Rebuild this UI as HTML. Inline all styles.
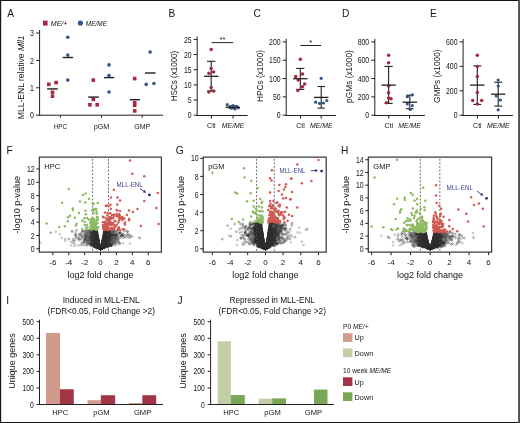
<!DOCTYPE html>
<html><head><meta charset="utf-8"><style>
html,body{margin:0;padding:0;background:#fff;}
body{width:520px;height:423px;overflow:hidden;}
svg{display:block;font-family:"Liberation Sans", sans-serif;will-change:transform;}
</style></head><body>
<svg width="520" height="423" viewBox="0 0 520 423">
<rect width="520" height="423" fill="#fff"/>
<text x="7.30" y="16.50" font-size="10.2" text-anchor="start" fill="#151515" >A</text>
<text x="168.50" y="16.50" font-size="10.2" text-anchor="start" fill="#151515" >B</text>
<text x="253.50" y="16.50" font-size="10.2" text-anchor="start" fill="#151515" >C</text>
<text x="342.00" y="16.50" font-size="10.2" text-anchor="start" fill="#151515" >D</text>
<text x="430.10" y="16.50" font-size="10.2" text-anchor="start" fill="#151515" >E</text>
<text x="6.60" y="153.90" font-size="10.2" text-anchor="start" fill="#151515" >F</text>
<text x="175.80" y="153.90" font-size="10.2" text-anchor="start" fill="#151515" >G</text>
<text x="340.90" y="153.90" font-size="10.2" text-anchor="start" fill="#151515" >H</text>
<text x="6.30" y="304.20" font-size="10.2" text-anchor="start" fill="#151515" >I</text>
<text x="177.40" y="304.20" font-size="10.2" text-anchor="start" fill="#151515" >J</text>
<line x1="39.60" y1="30.00" x2="39.60" y2="115.70" stroke="#231f20" stroke-width="1" />
<line x1="39.10" y1="115.20" x2="163.00" y2="115.20" stroke="#231f20" stroke-width="1" />
<line x1="36.10" y1="115.20" x2="39.60" y2="115.20" stroke="#231f20" stroke-width="1" />
<text x="33.80" y="118.30" font-size="8.6" text-anchor="end" fill="#151515"  textLength="3.9" lengthAdjust="spacingAndGlyphs">0</text>
<line x1="36.10" y1="87.80" x2="39.60" y2="87.80" stroke="#231f20" stroke-width="1" />
<text x="33.80" y="90.90" font-size="8.6" text-anchor="end" fill="#151515"  textLength="3.9" lengthAdjust="spacingAndGlyphs">1</text>
<line x1="36.10" y1="60.40" x2="39.60" y2="60.40" stroke="#231f20" stroke-width="1" />
<text x="33.80" y="63.50" font-size="8.6" text-anchor="end" fill="#151515"  textLength="3.9" lengthAdjust="spacingAndGlyphs">2</text>
<line x1="36.10" y1="33.00" x2="39.60" y2="33.00" stroke="#231f20" stroke-width="1" />
<text x="33.80" y="36.10" font-size="8.6" text-anchor="end" fill="#151515"  textLength="3.9" lengthAdjust="spacingAndGlyphs">3</text>
<line x1="60.40" y1="115.20" x2="60.40" y2="117.70" stroke="#231f20" stroke-width="1" />
<text x="60.40" y="128.70" font-size="7.6" text-anchor="middle" fill="#151515"  textLength="13.4" lengthAdjust="spacingAndGlyphs">HPC</text>
<line x1="101.50" y1="115.20" x2="101.50" y2="117.70" stroke="#231f20" stroke-width="1" />
<text x="101.50" y="128.70" font-size="7.6" text-anchor="middle" fill="#151515"  textLength="15.6" lengthAdjust="spacingAndGlyphs">pGM</text>
<line x1="142.20" y1="115.20" x2="142.20" y2="117.70" stroke="#231f20" stroke-width="1" />
<text x="142.20" y="128.70" font-size="7.6" text-anchor="middle" fill="#151515"  textLength="15.8" lengthAdjust="spacingAndGlyphs">GMP</text>
<text x="0" y="0" font-size="9" text-anchor="middle" fill="#151515" transform="translate(21.40,77.30) rotate(-90)" dominant-baseline="central"  textLength="83.8" lengthAdjust="spacingAndGlyphs">MLL-ENL relative <tspan font-style="italic">Mll1</tspan></text>
<rect x="43" y="20.6" width="4.6" height="5" fill="#A3293F"/>
<text x="50.80" y="25.90" font-size="7.3" text-anchor="start" fill="#151515" font-style="italic" textLength="16.6" lengthAdjust="spacingAndGlyphs">ME/+</text>
<circle cx="80.4" cy="23.1" r="2.6" fill="#33558A"/>
<text x="85.80" y="25.90" font-size="7.3" text-anchor="start" fill="#151515" font-style="italic" textLength="21.2" lengthAdjust="spacingAndGlyphs">ME/ME</text>
<rect x="47.00" y="82.50" width="3.6" height="3.6" fill="#A3293F"/>
<rect x="54.30" y="80.80" width="3.6" height="3.6" fill="#A3293F"/>
<rect x="50.70" y="90.50" width="3.6" height="3.6" fill="#A3293F"/>
<rect x="50.70" y="94.40" width="3.6" height="3.6" fill="#A3293F"/>
<line x1="47.10" y1="88.90" x2="57.80" y2="88.90" stroke="#231f20" stroke-width="1.4" />
<circle cx="67.80" cy="37.30" r="1.8" fill="#33558A"/>
<circle cx="67.80" cy="55.10" r="1.8" fill="#33558A"/>
<circle cx="67.80" cy="80.10" r="1.8" fill="#33558A"/>
<line x1="62.70" y1="57.50" x2="73.10" y2="57.50" stroke="#231f20" stroke-width="1.4" />
<rect x="91.50" y="78.30" width="3.6" height="3.6" fill="#A3293F"/>
<rect x="91.50" y="97.50" width="3.6" height="3.6" fill="#A3293F"/>
<rect x="88.10" y="103.00" width="3.6" height="3.6" fill="#A3293F"/>
<rect x="95.40" y="103.00" width="3.6" height="3.6" fill="#A3293F"/>
<line x1="88.20" y1="97.10" x2="98.90" y2="97.10" stroke="#231f20" stroke-width="1.4" />
<circle cx="109.00" cy="64.90" r="1.8" fill="#33558A"/>
<circle cx="109.00" cy="75.60" r="1.8" fill="#33558A"/>
<circle cx="109.00" cy="92.00" r="1.8" fill="#33558A"/>
<line x1="104.00" y1="77.60" x2="114.20" y2="77.60" stroke="#231f20" stroke-width="1.4" />
<rect x="132.90" y="76.80" width="3.6" height="3.6" fill="#A3293F"/>
<rect x="132.90" y="100.90" width="3.6" height="3.6" fill="#A3293F"/>
<rect x="132.90" y="103.50" width="3.6" height="3.6" fill="#A3293F"/>
<rect x="132.90" y="109.10" width="3.6" height="3.6" fill="#A3293F"/>
<line x1="129.80" y1="99.70" x2="139.90" y2="99.70" stroke="#231f20" stroke-width="1.4" />
<circle cx="150.10" cy="52.10" r="1.8" fill="#33558A"/>
<circle cx="146.20" cy="84.40" r="1.8" fill="#33558A"/>
<circle cx="153.90" cy="83.50" r="1.8" fill="#33558A"/>
<line x1="145.00" y1="73.00" x2="155.60" y2="73.00" stroke="#231f20" stroke-width="1.4" />
<line x1="197.20" y1="36.40" x2="197.20" y2="116.00" stroke="#231f20" stroke-width="1" />
<line x1="196.60" y1="115.50" x2="247.60" y2="115.50" stroke="#231f20" stroke-width="1.1" />
<line x1="193.70" y1="115.20" x2="197.20" y2="115.20" stroke="#231f20" stroke-width="1" />
<text x="191.60" y="118.30" font-size="8.6" text-anchor="end" fill="#151515"  textLength="3.85" lengthAdjust="spacingAndGlyphs">0</text>
<line x1="193.70" y1="100.04" x2="197.20" y2="100.04" stroke="#231f20" stroke-width="1" />
<text x="191.60" y="103.14" font-size="8.6" text-anchor="end" fill="#151515"  textLength="3.85" lengthAdjust="spacingAndGlyphs">5</text>
<line x1="193.70" y1="84.88" x2="197.20" y2="84.88" stroke="#231f20" stroke-width="1" />
<text x="191.60" y="87.98" font-size="8.6" text-anchor="end" fill="#151515"  textLength="7.7" lengthAdjust="spacingAndGlyphs">10</text>
<line x1="193.70" y1="69.72" x2="197.20" y2="69.72" stroke="#231f20" stroke-width="1" />
<text x="191.60" y="72.82" font-size="8.6" text-anchor="end" fill="#151515"  textLength="7.7" lengthAdjust="spacingAndGlyphs">15</text>
<line x1="193.70" y1="54.56" x2="197.20" y2="54.56" stroke="#231f20" stroke-width="1" />
<text x="191.60" y="57.66" font-size="8.6" text-anchor="end" fill="#151515"  textLength="7.7" lengthAdjust="spacingAndGlyphs">20</text>
<line x1="193.70" y1="39.40" x2="197.20" y2="39.40" stroke="#231f20" stroke-width="1" />
<text x="191.60" y="42.50" font-size="8.6" text-anchor="end" fill="#151515"  textLength="7.7" lengthAdjust="spacingAndGlyphs">25</text>
<line x1="211.40" y1="115.20" x2="211.40" y2="118.60" stroke="#231f20" stroke-width="1" />
<text x="211.40" y="128.30" font-size="7.2" text-anchor="middle" fill="#151515"  textLength="8.6" lengthAdjust="spacingAndGlyphs">Ctl</text>
<line x1="233.10" y1="115.20" x2="233.10" y2="118.60" stroke="#231f20" stroke-width="1" />
<text x="233.10" y="128.30" font-size="7.2" text-anchor="middle" fill="#151515" font-style="italic" textLength="22.6" lengthAdjust="spacingAndGlyphs">ME/ME</text>
<text x="0" y="0" font-size="9" text-anchor="middle" fill="#151515" transform="translate(173.60,76.00) rotate(-90)" dominant-baseline="central"  textLength="50.5" lengthAdjust="spacingAndGlyphs">HSCs (x1000)</text>
<line x1="211.20" y1="61.30" x2="211.20" y2="91.10" stroke="#231f20" stroke-width="1.1" />
<line x1="207.00" y1="61.30" x2="215.40" y2="61.30" stroke="#231f20" stroke-width="1.1" />
<line x1="207.00" y1="91.10" x2="215.40" y2="91.10" stroke="#231f20" stroke-width="1.1" />
<line x1="232.80" y1="105.80" x2="232.80" y2="108.60" stroke="#231f20" stroke-width="1.1" />
<line x1="229.30" y1="105.80" x2="236.30" y2="105.80" stroke="#231f20" stroke-width="1.1" />
<line x1="229.30" y1="108.60" x2="236.30" y2="108.60" stroke="#231f20" stroke-width="1.1" />
<circle cx="211.20" cy="49.40" r="1.75" fill="#A3293F"/>
<circle cx="211.20" cy="68.60" r="1.75" fill="#A3293F"/>
<circle cx="208.90" cy="73.20" r="1.75" fill="#A3293F"/>
<circle cx="213.60" cy="71.90" r="1.75" fill="#A3293F"/>
<circle cx="211.20" cy="87.40" r="1.75" fill="#A3293F"/>
<circle cx="208.90" cy="92.00" r="1.75" fill="#A3293F"/>
<circle cx="213.60" cy="91.10" r="1.75" fill="#A3293F"/>
<circle cx="227.30" cy="104.70" r="1.6" fill="#33558A"/>
<circle cx="231.50" cy="108.10" r="1.6" fill="#33558A"/>
<circle cx="235.00" cy="109.00" r="1.6" fill="#33558A"/>
<circle cx="238.30" cy="107.80" r="1.6" fill="#33558A"/>
<circle cx="229.80" cy="107.30" r="1.6" fill="#33558A"/>
<circle cx="236.60" cy="106.40" r="1.6" fill="#33558A"/>
<circle cx="233.00" cy="105.50" r="1.6" fill="#33558A"/>
<line x1="204.00" y1="76.30" x2="218.40" y2="76.30" stroke="#231f20" stroke-width="1.3" />
<line x1="225.60" y1="107.30" x2="240.00" y2="107.30" stroke="#231f20" stroke-width="1.3" />
<line x1="211.60" y1="42.60" x2="233.20" y2="42.60" stroke="#231f20" stroke-width="1" />
<text x="222.40" y="42.30" font-size="7.5" text-anchor="middle" fill="#151515" >**</text>
<line x1="286.20" y1="38.90" x2="286.20" y2="116.00" stroke="#231f20" stroke-width="1" />
<line x1="285.60" y1="115.50" x2="336.00" y2="115.50" stroke="#231f20" stroke-width="1.1" />
<line x1="282.70" y1="115.20" x2="286.20" y2="115.20" stroke="#231f20" stroke-width="1" />
<text x="280.60" y="118.30" font-size="8.6" text-anchor="end" fill="#151515"  textLength="3.85" lengthAdjust="spacingAndGlyphs">0</text>
<line x1="282.70" y1="96.88" x2="286.20" y2="96.88" stroke="#231f20" stroke-width="1" />
<text x="280.60" y="99.97" font-size="8.6" text-anchor="end" fill="#151515"  textLength="7.7" lengthAdjust="spacingAndGlyphs">50</text>
<line x1="282.70" y1="78.55" x2="286.20" y2="78.55" stroke="#231f20" stroke-width="1" />
<text x="280.60" y="81.65" font-size="8.6" text-anchor="end" fill="#151515"  textLength="11.55" lengthAdjust="spacingAndGlyphs">100</text>
<line x1="282.70" y1="60.22" x2="286.20" y2="60.22" stroke="#231f20" stroke-width="1" />
<text x="280.60" y="63.32" font-size="8.6" text-anchor="end" fill="#151515"  textLength="11.55" lengthAdjust="spacingAndGlyphs">150</text>
<line x1="282.70" y1="41.90" x2="286.20" y2="41.90" stroke="#231f20" stroke-width="1" />
<text x="280.60" y="45.00" font-size="8.6" text-anchor="end" fill="#151515"  textLength="11.55" lengthAdjust="spacingAndGlyphs">200</text>
<line x1="300.50" y1="115.20" x2="300.50" y2="118.60" stroke="#231f20" stroke-width="1" />
<text x="300.50" y="128.30" font-size="7.2" text-anchor="middle" fill="#151515"  textLength="8.6" lengthAdjust="spacingAndGlyphs">Ctl</text>
<line x1="321.20" y1="115.20" x2="321.20" y2="118.60" stroke="#231f20" stroke-width="1" />
<text x="321.20" y="128.30" font-size="7.2" text-anchor="middle" fill="#151515" font-style="italic" textLength="22.6" lengthAdjust="spacingAndGlyphs">ME/ME</text>
<text x="0" y="0" font-size="9" text-anchor="middle" fill="#151515" transform="translate(260.20,76.00) rotate(-90)" dominant-baseline="central"  textLength="52" lengthAdjust="spacingAndGlyphs">HPCs (x1000)</text>
<line x1="300.30" y1="68.40" x2="300.30" y2="89.40" stroke="#231f20" stroke-width="1.1" />
<line x1="296.20" y1="68.40" x2="304.40" y2="68.40" stroke="#231f20" stroke-width="1.1" />
<line x1="296.20" y1="89.40" x2="304.40" y2="89.40" stroke="#231f20" stroke-width="1.1" />
<line x1="321.20" y1="86.50" x2="321.20" y2="108.10" stroke="#231f20" stroke-width="1.1" />
<line x1="317.50" y1="86.50" x2="324.90" y2="86.50" stroke="#231f20" stroke-width="1.1" />
<line x1="317.50" y1="108.10" x2="324.90" y2="108.10" stroke="#231f20" stroke-width="1.1" />
<circle cx="300.30" cy="59.30" r="1.75" fill="#A3293F"/>
<circle cx="302.50" cy="74.10" r="1.75" fill="#A3293F"/>
<circle cx="295.70" cy="76.60" r="1.75" fill="#A3293F"/>
<circle cx="298.20" cy="80.00" r="1.75" fill="#A3293F"/>
<circle cx="304.70" cy="84.00" r="1.75" fill="#A3293F"/>
<circle cx="302.50" cy="86.80" r="1.75" fill="#A3293F"/>
<circle cx="297.90" cy="90.60" r="1.75" fill="#A3293F"/>
<circle cx="321.20" cy="78.30" r="1.6" fill="#33558A"/>
<circle cx="315.60" cy="102.20" r="1.6" fill="#33558A"/>
<circle cx="319.50" cy="103.40" r="1.6" fill="#33558A"/>
<circle cx="323.40" cy="103.00" r="1.6" fill="#33558A"/>
<circle cx="326.80" cy="100.50" r="1.6" fill="#33558A"/>
<line x1="293.10" y1="78.70" x2="307.50" y2="78.70" stroke="#231f20" stroke-width="1.3" />
<line x1="314.00" y1="97.40" x2="328.40" y2="97.40" stroke="#231f20" stroke-width="1.3" />
<line x1="300.30" y1="45.50" x2="321.20" y2="45.50" stroke="#231f20" stroke-width="1" />
<text x="310.80" y="45.40" font-size="7.5" text-anchor="middle" fill="#151515" >*</text>
<line x1="374.80" y1="38.90" x2="374.80" y2="116.00" stroke="#231f20" stroke-width="1" />
<line x1="374.20" y1="115.50" x2="424.90" y2="115.50" stroke="#231f20" stroke-width="1.1" />
<line x1="371.30" y1="115.20" x2="374.80" y2="115.20" stroke="#231f20" stroke-width="1" />
<text x="369.20" y="118.30" font-size="8.6" text-anchor="end" fill="#151515"  textLength="3.85" lengthAdjust="spacingAndGlyphs">0</text>
<line x1="371.30" y1="96.88" x2="374.80" y2="96.88" stroke="#231f20" stroke-width="1" />
<text x="369.20" y="99.97" font-size="8.6" text-anchor="end" fill="#151515"  textLength="11.55" lengthAdjust="spacingAndGlyphs">200</text>
<line x1="371.30" y1="78.55" x2="374.80" y2="78.55" stroke="#231f20" stroke-width="1" />
<text x="369.20" y="81.65" font-size="8.6" text-anchor="end" fill="#151515"  textLength="11.55" lengthAdjust="spacingAndGlyphs">400</text>
<line x1="371.30" y1="60.22" x2="374.80" y2="60.22" stroke="#231f20" stroke-width="1" />
<text x="369.20" y="63.32" font-size="8.6" text-anchor="end" fill="#151515"  textLength="11.55" lengthAdjust="spacingAndGlyphs">600</text>
<line x1="371.30" y1="41.90" x2="374.80" y2="41.90" stroke="#231f20" stroke-width="1" />
<text x="369.20" y="45.00" font-size="8.6" text-anchor="end" fill="#151515"  textLength="11.55" lengthAdjust="spacingAndGlyphs">800</text>
<line x1="388.80" y1="115.20" x2="388.80" y2="118.60" stroke="#231f20" stroke-width="1" />
<text x="388.80" y="128.30" font-size="7.2" text-anchor="middle" fill="#151515"  textLength="8.6" lengthAdjust="spacingAndGlyphs">Ctl</text>
<line x1="409.60" y1="115.20" x2="409.60" y2="118.60" stroke="#231f20" stroke-width="1" />
<text x="409.60" y="128.30" font-size="7.2" text-anchor="middle" fill="#151515" font-style="italic" textLength="22.6" lengthAdjust="spacingAndGlyphs">ME/ME</text>
<text x="0" y="0" font-size="9" text-anchor="middle" fill="#151515" transform="translate(348.50,76.50) rotate(-90)" dominant-baseline="central"  textLength="52.8" lengthAdjust="spacingAndGlyphs">pGMs (x1000)</text>
<line x1="388.60" y1="66.40" x2="388.60" y2="103.40" stroke="#231f20" stroke-width="1.1" />
<line x1="384.50" y1="66.40" x2="392.70" y2="66.40" stroke="#231f20" stroke-width="1.1" />
<line x1="384.50" y1="103.40" x2="392.70" y2="103.40" stroke="#231f20" stroke-width="1.1" />
<line x1="409.80" y1="95.20" x2="409.80" y2="108.60" stroke="#231f20" stroke-width="1.1" />
<line x1="406.20" y1="95.20" x2="413.40" y2="95.20" stroke="#231f20" stroke-width="1.1" />
<line x1="406.20" y1="108.60" x2="413.40" y2="108.60" stroke="#231f20" stroke-width="1.1" />
<circle cx="388.60" cy="55.30" r="1.75" fill="#A3293F"/>
<circle cx="388.60" cy="62.70" r="1.75" fill="#A3293F"/>
<circle cx="388.60" cy="86.00" r="1.75" fill="#A3293F"/>
<circle cx="388.60" cy="92.80" r="1.75" fill="#A3293F"/>
<circle cx="388.60" cy="97.90" r="1.75" fill="#A3293F"/>
<circle cx="391.00" cy="98.80" r="1.75" fill="#A3293F"/>
<circle cx="386.40" cy="102.70" r="1.75" fill="#A3293F"/>
<circle cx="407.30" cy="96.70" r="1.6" fill="#33558A"/>
<circle cx="412.30" cy="94.90" r="1.6" fill="#33558A"/>
<circle cx="407.30" cy="103.90" r="1.6" fill="#33558A"/>
<circle cx="412.30" cy="105.60" r="1.6" fill="#33558A"/>
<circle cx="410.20" cy="109.50" r="1.6" fill="#33558A"/>
<line x1="381.40" y1="85.10" x2="395.80" y2="85.10" stroke="#231f20" stroke-width="1.3" />
<line x1="402.60" y1="102.20" x2="417.00" y2="102.20" stroke="#231f20" stroke-width="1.3" />
<line x1="463.10" y1="38.90" x2="463.10" y2="116.00" stroke="#231f20" stroke-width="1" />
<line x1="462.50" y1="115.50" x2="513.00" y2="115.50" stroke="#231f20" stroke-width="1.1" />
<line x1="459.60" y1="115.20" x2="463.10" y2="115.20" stroke="#231f20" stroke-width="1" />
<text x="457.50" y="118.30" font-size="8.6" text-anchor="end" fill="#151515"  textLength="3.85" lengthAdjust="spacingAndGlyphs">0</text>
<line x1="459.60" y1="90.77" x2="463.10" y2="90.77" stroke="#231f20" stroke-width="1" />
<text x="457.50" y="93.87" font-size="8.6" text-anchor="end" fill="#151515"  textLength="11.55" lengthAdjust="spacingAndGlyphs">200</text>
<line x1="459.60" y1="66.33" x2="463.10" y2="66.33" stroke="#231f20" stroke-width="1" />
<text x="457.50" y="69.43" font-size="8.6" text-anchor="end" fill="#151515"  textLength="11.55" lengthAdjust="spacingAndGlyphs">400</text>
<line x1="459.60" y1="41.90" x2="463.10" y2="41.90" stroke="#231f20" stroke-width="1" />
<text x="457.50" y="45.00" font-size="8.6" text-anchor="end" fill="#151515"  textLength="11.55" lengthAdjust="spacingAndGlyphs">600</text>
<line x1="477.40" y1="115.20" x2="477.40" y2="118.60" stroke="#231f20" stroke-width="1" />
<text x="477.40" y="128.30" font-size="7.2" text-anchor="middle" fill="#151515"  textLength="8.6" lengthAdjust="spacingAndGlyphs">Ctl</text>
<line x1="498.40" y1="115.20" x2="498.40" y2="118.60" stroke="#231f20" stroke-width="1" />
<text x="498.40" y="128.30" font-size="7.2" text-anchor="middle" fill="#151515" font-style="italic" textLength="22.6" lengthAdjust="spacingAndGlyphs">ME/ME</text>
<text x="0" y="0" font-size="9" text-anchor="middle" fill="#151515" transform="translate(436.50,76.20) rotate(-90)" dominant-baseline="central"  textLength="53.4" lengthAdjust="spacingAndGlyphs">GMPs (x1000)</text>
<line x1="477.30" y1="65.90" x2="477.30" y2="104.40" stroke="#231f20" stroke-width="1.1" />
<line x1="473.30" y1="65.90" x2="481.30" y2="65.90" stroke="#231f20" stroke-width="1.1" />
<line x1="473.30" y1="104.40" x2="481.30" y2="104.40" stroke="#231f20" stroke-width="1.1" />
<line x1="498.20" y1="82.20" x2="498.20" y2="106.10" stroke="#231f20" stroke-width="1.1" />
<line x1="494.20" y1="82.20" x2="502.20" y2="82.20" stroke="#231f20" stroke-width="1.1" />
<line x1="494.20" y1="106.10" x2="502.20" y2="106.10" stroke="#231f20" stroke-width="1.1" />
<circle cx="477.30" cy="55.30" r="1.75" fill="#A3293F"/>
<circle cx="477.30" cy="66.40" r="1.75" fill="#A3293F"/>
<circle cx="477.30" cy="76.60" r="1.75" fill="#A3293F"/>
<circle cx="477.30" cy="92.50" r="1.75" fill="#A3293F"/>
<circle cx="472.70" cy="100.50" r="1.75" fill="#A3293F"/>
<circle cx="481.70" cy="100.50" r="1.75" fill="#A3293F"/>
<circle cx="477.30" cy="103.90" r="1.75" fill="#A3293F"/>
<circle cx="498.20" cy="80.00" r="1.6" fill="#33558A"/>
<circle cx="498.20" cy="86.00" r="1.6" fill="#33558A"/>
<circle cx="496.20" cy="95.90" r="1.6" fill="#33558A"/>
<circle cx="500.40" cy="100.00" r="1.6" fill="#33558A"/>
<circle cx="498.20" cy="109.80" r="1.6" fill="#33558A"/>
<line x1="470.10" y1="85.10" x2="484.50" y2="85.10" stroke="#231f20" stroke-width="1.3" />
<line x1="491.00" y1="94.20" x2="505.40" y2="94.20" stroke="#231f20" stroke-width="1.3" />
<defs>
<marker id="mr" markerUnits="userSpaceOnUse" markerWidth="4" markerHeight="4" refX="2" refY="2" overflow="visible"><circle cx="2" cy="2" r="0.9" fill="none" stroke="#2e2e2e" stroke-width="0.42"/></marker>
<marker id="mh" markerUnits="userSpaceOnUse" markerWidth="4" markerHeight="4" refX="2" refY="2" overflow="visible"><circle cx="2" cy="2" r="0.9" fill="none" stroke="#777" stroke-width="0.42"/></marker>
<marker id="mg" markerUnits="userSpaceOnUse" markerWidth="4" markerHeight="4" refX="2" refY="2" overflow="visible"><circle cx="2" cy="2" r="1.25" fill="#8FBA62"/></marker>
<marker id="md" markerUnits="userSpaceOnUse" markerWidth="4" markerHeight="4" refX="2" refY="2" overflow="visible"><circle cx="2" cy="2" r="1.25" fill="#CF5B55"/></marker>
</defs>
<rect x="39.30" y="157.10" width="122.10" height="95.10" fill="none" stroke="#3a3a3a" stroke-width="1.25" stroke-linejoin="round"/>
<line x1="36.30" y1="248.80" x2="39.30" y2="248.80" stroke="#231f20" stroke-width="1" />
<text x="34.70" y="251.90" font-size="8.6" text-anchor="end" fill="#151515"  textLength="3.85" lengthAdjust="spacingAndGlyphs">0</text>
<line x1="36.30" y1="235.50" x2="39.30" y2="235.50" stroke="#231f20" stroke-width="1" />
<text x="34.70" y="238.60" font-size="8.6" text-anchor="end" fill="#151515"  textLength="3.85" lengthAdjust="spacingAndGlyphs">2</text>
<line x1="36.30" y1="222.20" x2="39.30" y2="222.20" stroke="#231f20" stroke-width="1" />
<text x="34.70" y="225.30" font-size="8.6" text-anchor="end" fill="#151515"  textLength="3.85" lengthAdjust="spacingAndGlyphs">4</text>
<line x1="36.30" y1="208.90" x2="39.30" y2="208.90" stroke="#231f20" stroke-width="1" />
<text x="34.70" y="212.00" font-size="8.6" text-anchor="end" fill="#151515"  textLength="3.85" lengthAdjust="spacingAndGlyphs">6</text>
<line x1="36.30" y1="195.60" x2="39.30" y2="195.60" stroke="#231f20" stroke-width="1" />
<text x="34.70" y="198.70" font-size="8.6" text-anchor="end" fill="#151515"  textLength="3.85" lengthAdjust="spacingAndGlyphs">8</text>
<line x1="36.30" y1="182.30" x2="39.30" y2="182.30" stroke="#231f20" stroke-width="1" />
<text x="34.70" y="185.40" font-size="8.6" text-anchor="end" fill="#151515"  textLength="7.7" lengthAdjust="spacingAndGlyphs">10</text>
<line x1="36.30" y1="169.00" x2="39.30" y2="169.00" stroke="#231f20" stroke-width="1" />
<text x="34.70" y="172.10" font-size="8.6" text-anchor="end" fill="#151515"  textLength="7.7" lengthAdjust="spacingAndGlyphs">12</text>
<line x1="52.85" y1="252.20" x2="52.85" y2="255.20" stroke="#231f20" stroke-width="1" />
<text x="52.85" y="265.40" font-size="8" text-anchor="middle" fill="#151515" >-6</text>
<line x1="68.75" y1="252.20" x2="68.75" y2="255.20" stroke="#231f20" stroke-width="1" />
<text x="68.75" y="265.40" font-size="8" text-anchor="middle" fill="#151515" >-4</text>
<line x1="84.65" y1="252.20" x2="84.65" y2="255.20" stroke="#231f20" stroke-width="1" />
<text x="84.65" y="265.40" font-size="8" text-anchor="middle" fill="#151515" >-2</text>
<line x1="100.55" y1="252.20" x2="100.55" y2="255.20" stroke="#231f20" stroke-width="1" />
<text x="100.55" y="265.40" font-size="8" text-anchor="middle" fill="#151515" >0</text>
<line x1="116.45" y1="252.20" x2="116.45" y2="255.20" stroke="#231f20" stroke-width="1" />
<text x="116.45" y="265.40" font-size="8" text-anchor="middle" fill="#151515" >2</text>
<line x1="132.35" y1="252.20" x2="132.35" y2="255.20" stroke="#231f20" stroke-width="1" />
<text x="132.35" y="265.40" font-size="8" text-anchor="middle" fill="#151515" >4</text>
<line x1="148.25" y1="252.20" x2="148.25" y2="255.20" stroke="#231f20" stroke-width="1" />
<text x="148.25" y="265.40" font-size="8" text-anchor="middle" fill="#151515" >6</text>
<text x="100.55" y="277.70" font-size="9" text-anchor="middle" fill="#151515" >log2 fold change</text>
<text x="0" y="0" font-size="9" text-anchor="middle" fill="#151515" transform="translate(16.90,204.70) rotate(-90)" dominant-baseline="central"  textLength="57.5" lengthAdjust="spacingAndGlyphs">-log10 p-value</text>
<text x="44.30" y="168.50" font-size="7.5" text-anchor="start" fill="#151515" >HPC</text>
<clipPath id="cHPC"><rect x="39.8" y="157.6" width="121.10000000000001" height="94.1"/></clipPath><g clip-path="url(#cHPC)">
<path d="M99.5 246.6l-3-7.2 3 8-1.4-7.1 1.6 6.5-2.7-8.7 6.5 8-5.7-7.5-1.7 3.7 9.9 3.4-21.3-14.2 12.5 13.6 8.3 .7-16.1-8.3 7.3 6-8.7-4.9 22.5 1.2-3.9-6.7-6 15.7 3.4-5.1-.3 1.2 1.6-2.7-8.4-9 8.3 7.3-5 8 4-.9-6.7-7.3 3.9 7.6-4.1-3.8 11.3 2-7.9 2.5-2.6-3.2-3.4-12.9 7.3 14.3-1.4 2-2.2-3-4.6-1.8 9.5-1.2-4.6 2.4 .2 1.3 18.2-8.3-22.8 2.6 7.9 6.5-1.4 1.3 1.7-3.9 27.1-7.2-32.5 8.1-2.2-11.5 7.2 10.5 10-7.3-10.4 10.9-1.1 .6 .5-1.1-3.7-2.6 9.9-3.8-10-6 2.8 12.8 1.7 0-10.9-11.9 2.5-1.2 11.5 9.1-.8-5.2-4.9 6.4-5.5-4.9 1.7 4.5 7.9-6 1.8 .7-2.8 7.3-2.2 1.6 3.3-3.8-1.7 3.2-4-2.8-10.7-9.3 11.7 11.7 5-11-1.2 10.5 8.6-9.5 13.6-2.1-18.4 2.1-5.9 11.1 3.7-1.4-5.1-2.9-2-10.7 .8 8-.9 2.4 3.6 4.7-3.1-5 5.5 2 3.2-11.3-6.1 13.4-4.7-12.4 3.7 9.9 .9 2.1-3.2-7.1 16.9-4.3-19.5 3.4 2.5 7.6 5.1 .6 5.2-16.4-6.3 17.6-5.5-9.1 2.7 7.9 6.9-2.5-13.3-7.3 7.2 5.4 3.1 4.4-.3 .6 8.6-13.1-10.5 11.8 2.8-1.2-5.3-2-14.7-6.1 16.5 6.2 7.9-6.8-6.2 11.8-7.1-5.4 8.4 2.8-.2 0-16-6.7 14.2 8.7 5.1-5.7-11.3-.4 4 3.3 2.7 3.1 .8-.2-4.3-16-.7 9.3 3 5.2 9.7-11.6-7.5 12.9 3-6.6-3.4 7.1-1.2-1.4 9.6-4.6 4.9-9.1 13.4-1.7-33.4 10.6 4.4 4.4-.5-6.4 1.2 6.4 2.5 1.4-.6-.3 1.8-7.7-1.8 8.2-1 .2 .3 .1-3.2-13.1 6.3 10.5-5.9-7.7-6.8 2.7 15.9 2.4-9.8-8.6 5.7 7 5.5-7.4-3.5 10.8 .3 .5-2.3-3.4-1 5.9 0-1.7 1.2-2.1-.5 0 10.4-9.7-6.5 3-9.7 5.7-2.8-6.6 4.1 9.7 3.5 .5-3-5.3 6.1-8.5-7.9 6.4 9.1 6.4 .4-8.3-1.4 4.6 1.1 4.3-8.7-3.7 6.7-6.2-4.1 10.9-5.6-5.3 6.6 6.2-3.5-8.1 .4 6.1 6.1-3.8-11.1 1.5 12.6 1-7.9-1.5 1-1.1-3.8-1.2 10 1.6 7.5-9.5-2.9-1.5-14 8.4 4.1 5.7-7.8-5.6 10.2 6.5 7.7-5.5-8.6 7.1 4.9-5.2-6.4 3.7 3 .5 2.2-16.4-1.2 7.7-4 8.8 4.5-10.1-1.9 10.2 0-1.7 2.1-1.8-6.2-1.4 2.6 5.6 1.6-.4-1.8-.1-20.9-8 22.7 6.1 4.2-3.6-7.4 .5 6.1-7.1-1.7 8.2 3.9-6.1-10.7 7.5 6.8 .6 1.7-1.1-1.3-1.9-6.1 1.2 6 1.6-6.8-8.8 5.4 7.6-5.2-7-.5-.9 5.4 9.9-7.7-13.1 13-.8-8.5 13 4.4-1.4 1.8-4.3-.6-2.5-9.9-.3 6 11.2 2-3.5-3.8-2.2 .7 4.5-3.1-1.2 5.8-.6-.3 .9 1.7-.3 0 .3-6-2.3-8.9-7.6 5.2 8.8-1.5-10.2 15-2.3-8.6 10.3 3.8 4.3-7.5-9.8 7.8 9.8-5.8-9.7 3.3 9.9 .4 .9-4.8-8-3-8.1 5 5.1-.4 1.4 6 6.7 4-7.9 2.3-7.3-5 8.3-9.5-.9 9.4 7.9-3.6 2.8-.5 0 3.2-3.1-3.1 3.2-3.1-13.3-1.4 10.7-1.2-6 5.2 7.9-2.8-13.6 3.5 14.3-3.8-8.5 5.8 2 8.6 3.5-8.1-5.9 3.4 4.7-1.5-8.1 .5-1.9-2.5 11.9 2.5-9.3 2.7 3.4-9 6.4 5.4-8.5 5.2-.2-19.5-6 8.4 11.1 .3 1.3-1.6-1.8 4.3 4.9-7.3-5.8-4.8 .4 10.5 5.9 1.6-2.5-3.5 .5 5.6-10.3-3.3 12.7 4-4.6-9.4-7 8.7 6.9-10.6 1.2 8.2 3.2 1.2-4.9 5.9-6.7-6.7 10 1.7-2.8-6.2 .7-1.3 1.6 6.8-4.8 1.5-3.7-4.1 10.5 5.5-11.1-.2-1.2-6.1 10-.3 1.5 2.3 .4 9.2-11.4-14.8 9.3 12.7-4.5-9 5.6 2.2-.3-.8 2.1-2.5-5.7 2.3 5.7 2.6-9.9-4.3 8.9 3-1.5-5.4-4.3 1.4 3.1-2.9-6.8 2.1 1.7 7.1-4.4-1.2 10-2.4 3.2 5.2-9.1-4.6 7.6 5.4-1.5-6.8 2.1-6.8-10.5-1.8 1.7 6.1 3.4 5.3 2.8-3.2 2.9-8.7-17.5 4.2 6.8 6.9 9-.2-.3-2.2 .6 3.8-4.1-.8 .4-6.7-5.2 11.4-.4-11.8 3.1 11.9-.9-6.9 9.1 7.6-5.5-9.8 1.6 2.5 3.8-8.3-15 10.9 5.7-2 8.6 5.8-3.6-8 1.6-15.6-3.2 14.2 3.4 7.1 .5-2.7 .1-8.1-10.9 11.3 6.1 .4 3.6-7 1.4-3.2-6.7 8.2 6-7.1 0 13.7-6.9 8.5-6.2-12.4 4.2-5.4 11 12.5-6.6-19.4 1.4 13.7 2.8-4.7 .4 .6-2.5-5.6-.9-1.4-2.2 7.8-1.5 5.9-4.4-4.6 4.4-7 8.4 1.5 .7 4-4.1-6 3.7-2.1-6.9 8.1-8.4 5.4 9.1-10.1 6.3-7.5-10.6 13.1-1.3-.3 10.8-7-3.1 14.4-2.4-11.5 7.2 5.5-9.6-2.7 7.5-5.8 1.5 1.6-2 2.3 0-1.1 2.9 4.8-12.7-4.7 12.5-3.8-3.9 3.6 4.1-4-13 13.6 2.3-36.9 1.9 19.3-.8 7.6 9.3-4.2-7.7-8.7-8.3 14.4 13.8 1.7-2.7-.5-.8-7 4.2 9.3-3.6-1.2-8.1 .7 3.4-5.6 8.8-1.7-1.1 5.5-5-6.5-3.9 2.2 4.9-1.3 .9 12.9-4.2-7.7 4.3-.5 2.8-.1 .1 4 0-5.9 1 9-8.1-7.7 9.4-6.6-5.9 8.4 2.2 1.3 1.5-.4-5.8-13.6-3.4 24.5 3.9-9.8 4.7 9.3-3.7-16.5-3.3 3.3 9.1-6.1-4.6 3.8 3 1.7 2.5-13.3-4.2 18.6-.8-6.3 3.3-9.3-4.8 22.5-4.6-9.9 8.1-7.1-7 14.7 4-.6 .1-11.5-1.7-.3-.2-2.2 5.3 2.3-6.1 8.2-.4-13.5 4 9.8 2.3 9.1-12-7.7 9.9-8.1-7 7.9 6-8.2 2.4-.4-3.9 6.2 6.3-.3 .8 3.6-11.1-4.5 11 3.5-3.3-9.5-7.6 5.6 10.5 3.4-8.8 1.7 5.7 2.9-6.6-9.1 5-3.4-3.8 5.9 8.3-1.7-1.2-2.1 .6-6.1-1.1 2.9-11.4 10.5 4-7.6 5.5 3.6 4.2-2.3-.6 .1-2.6-2.9-.5 4.9 3.9 7.8-13.3 .6 1.6-7 10.4 4.5-5-5 5.8 1.2-5.1 2.5-4.5-3.5 8-3.7-6.9-.4 1.5 3.7 6.5 2.2-2.7-6.7-1.2 12.2-.8-7.4 5.2-12.4-10.3 15.3-6.4-.7 14.1-2.5 2.9 9.9-10.4-6.3-3.8 1.1 8.1-4.4 4 .2-.4 1.1-4.4-.3 5-4.1-2.7 18.9-7.9-18.8 10.7 2.2 1.9-3.2-5.7 5.2 2.2-.7-.1 9.1-12.6-25.6 4.1 10.3 3.8 10.1-4.3 3.3-1.2-5.7 3 .8 9.6-2.7-1-2 1.1 .2 .3 1.5 .1 .4-.5 5.7-5-6 5.3-26.1-13.2 21 9.2 4.7 4.6-2-.6 6.1-11.2-7 5.7 14.8-10.4-12.8 16.5-1-3.3-.7-2.6 6.1-8.9-11.1 2.4 8.8 12-1.8 .8 6.3-12.6-2 .9-5.5 8.1-2.7-9.4 7.4-.5-7.6 8.3 11.1-.8 .5-3.8-5.2 3-3.7 4.9 3.9 .2-3.4 .3-1.8-3.2 15.3-2.5-3.5 .9-8.6 5.8 2.7-1.5-1.9-.8 2.3-.5 8.2-9.1-8.8 2.4-9.7-8.4 9.8 7.4 1.9 5.5-13.5 1.3 7.3 .5 3.5-.8-11.9 .5 13.2-5.8 2.3-3-14.3 1.6 8.2 10.7-5.4-8.4 2.5 5.4 2.9 3-6-9.9 5.7 9.2 2.8-3.5-.7 2.1-.6 .7 0 .7 12.9-16.2-15.6 15.2-.5 .8-1.7-11.1 6 10.2-.2-2.6-3.8 2 2.2 2.7 0 .1-1.4-3 7-5.8-8.9 1 1.5 6.5 9.2-5-4.8-3.5 1.8 7.1-7.1-2.1 2.2 4.2 10.8-12.1-12.6 10.2 4 1.3-8.7-6.4 9 4.4-5.4 1.1 5.3-4.1-4 4.4 3.1-.4 4.9-4.9-4.9 4.4 2.2 .7-.7-4.9-1.6 4.3-3.7 .7 4.1 .6 1.5-9.6-2.2 10.2-6.8-11.8-.3 5.1 10.6-9.4-6.4 14.9-.8-9.5 .5 9.1 2.6 2.3-4.2-4.8 .3-2.3 1-3.1 8.3 3.5 1.2-6.5-16.2-2.5 26.7 5.8-16 6.6 9-5.5-17.2 4.7 3.6-9.2 2.7 12.1 1 1.1 .3-.5-7.7-7.1 2.2 5.2 8-7.2-10.6-.9 6.9 9.5 2.8-1 2-2.1-8.2 2.5 6.3-6.1 2.4-4.5-.1 10.1-8.7-1.2 4 3.4-27.5-6 27.1 5.9 3.4-3.5-2.9 3.6 .1-.1 7.1-12.6-11.8 9.1 1.2-1.8 2.8 4.9-3.4-5.7 12.3-3.8-10.6 5 4.6-2.6-1.2 5.6 3.2-2.7-9.6-10.6 9 10.7-4.4 3.6 6.1-12.1 2.8 3.6-12.8-2.8 6.9 11.8 .4-2.9 2.7 .3-7-1.1 9.8-2.6 12.5-6.5-10.4-5.2-2.9 11.8-8.6 4 2.5 1.2 .5-4.1-5.3-3.2 3.1 8.8 0-.6-3.5-5.3 14.9-2.1-7.9 6.6-6.1-3.3 2.2 3.6 8.5-13.3-1 1.1 3.2 5.5-11.3 6.7 2.5-1.4-.8 2.3-2.8-2.9 8.3-3.4-6.6 5.3-1.7-1.8-5.5-10.8 10.1 10.9-2.9 2.4 9.7-14-17.8-2.4 24.2 3.8-10.2 8.9-1.1-.5-4.5 4.4 5.6-16.5-8.3 9.1 5.6 1.7-4.7-1.1 5.8-.4-21.7-9.8 13.7 10.6 5.6 3.8-2.1 2-3.7-5.3 6 4.6-2.7 .4-7.2-8.2 9.5 8.2 4.2-8.5-8.5 6-5.4-8.1 7.4 10 1.9 1.3 21.6-14.2-33.3-1.7 15.4 2.5 6.8 3.8 .4 5.4-14.3-.7 .1 2.7-3.8-14.6 6.6 17.4-3-11.3 3.6 10.8-7.5-9.1 1.5-1.9 7.1 8.2-2.3 3 .9-.1-1.7-1.8 7.1-1.7-6.4 3.4-4.3-7.3-4.1 .7 19.4-3.9-14.6 .3-2.3-1.5 .8 6.6 13.5 3.1-8.6 .5-3.1-3 4.2 4.7-3-8.6 1.5 7.4 7.2-9.5-3 5.9-15-10.7 14.7 10-6.2 3.4 1.7-1.9 .9 3.5-5.3-2.4-1.8-10.1 4.9 5.9 3.2 7.3 3.7-8.8 .4-1 .9 2.5-5.9 5.4 5.2-13.2-5.2 14.5 .1-1.1 3.2-1.5-.4-.9 5.6-5.8-8.7 7.7-7.5-4.3 2.2-3.4-3 .2 6.5 6.5 6-5.1-23.4-5.7 18 10.6 6-1 .8-11.7-7.1 12.9 4-.1-5.6-7.4 .8 1.8-13.1 1.9 13 3-8.9-13.9 9.6 8.5 .4 6.9-13.8-9.2 13.6 8.2-1.5-14.9 5.7 17-1.9 1.1-9-13.8 4.3 10.1 2.6 2 3.3-.2-8.1-12.9 1 12.9 9.1-.6-2.9 2.9 2.8-3.1-4.6 1.1 1.8 2-1-1.6 15.4-11.3-11.3 8.4-5.8 1.8 2.3 2.3-3.7-4.5 14.7-11.7-10.3 16 10.9-7.5-22.8 .2 11.8 7.6-11.7-5 6.6-.9 7.8-4.9-1.8 10.4-3-.6 7.7-2.3 2.2-10.7-14.1 9.6-6.7-8 17.4 7.5-7.7-6.6-.1 2.8 3.8 8.5 1.1-4.7-1.3 4.5-1.2 .3 1-.1-2.4-2.6 8.8-3.9-2.2 1.9 1-.5-7.5-.7 16.5-.6-19.9 2.7 8.4-2-11.6-4.5 6.4 7 9.3-.6-9.8-2.9-3.7-10.3 10.2 16-2.4 .6 2.8-8-6.2 4.9-3.8-6.2 7.1 9.1-6.2-8.9-10.7 .4 20.2 6.9-10.3-4.4 7.4 2.3-11.4-10.5 9.8 15.2-1.9-4.6-1.3 3.3 1.6-.4 6.9-3.7-9.4 1.1-1.6-11.1 5.8 15.3-7.6-17 8.7 15.7-.3-.7 1.7-5.5-5.1 4.3 5 1.3-5.8-2.4-1.3-5.2 5.8 7.1-5.7-15.3 7.3 12-3.1 5.5 5.2-13.2 1 4.7-5.2 7.4-.9 1.3 2.8-4.2-.1 1.6-6.7-.6-1.1-4.8 7.8 5.9-1.5 .4-6.6-1.8 6.1 3.3-1.3-1-.7 .3-.2-1.2 9.7-10.4-11.2 .4 3.4 12.1 4.1-7.2-13.5-.9 8.6 7.7 4.2-15.4-6.8 12.4 10.9-12.9-4.6 13.1-8.6-5.5 7.8 .9 1.1 5.1-.8-1.9-6.6 2.7 3.9 2-2-3.8-5.2-2.1 11 4.1-2.9 .6-9.1-14.7 9.2 13.8-2.8-1.9-3.2-5.6 7.3 3.5-7.5 3.2 10.5-7.1-4.1 7.3 4.8-1.8-4.8 2.1 1.2 1.2-4.7-3.6 7.3-1.5-2.3 2.7 3.3-11.3-9.5 12.6 10.2-7.4-8.3 5.1 5.4-3.1 6.5 1.8-10.5 5.8 .2 .1 1-.5-1.9-.2 4.8-16.7-7.2 8.7-2 3.5 .1-1.7 9.9 3.7-3.1 0-1.7 3.2-3.8-1.1 7-1.1-3.1 2.2 10.3-7.6-16.4-10.2 4.7 13.9 2.7 2.2 1-5.7 5-1.3-13.8 3.2 7.4 4.2-4.8-16.4 2.3 15.7 4.5-2.2-4.1 2.8-3-9.6 3 7.9-2.2-8.7 3.6 11.6 3.4-5.6 5.9-3.8-11.6 2.8-5-7.4 3.2-3.8 .9 10 1.9 7.1 3.9-9.3-2.3 9.7 2.6-1.1 3.2-10.8-5.6 11.1 13.1-17-17.8 10.9 2.2 2.6 6.4-7.8-7.3 9-1.3 1.4 7.3-3.3-6.3-1.2 .4 3.7 6.7-15.5-2.5 14.9-5.2-2.3 6.5-4.8-3.4 10.2-5.2-8.5 2.1 .7 7.8-4.6 6.8 4.5-4.9-2.1-4.5 8.9-5.6-6.2 2.1 5.9-5.2-4.1-7.8-12.1 15.6 17.2-2.7-2 .9 2.2-4.7-11.4 5.3 11.7 10.1-11.2-5.1 2.1-10.3 1.4 11.8-8.1-1.8 13.2 2-2.3-3.2 4.1-7.6-8.9 6.8 7.8 9.2-1.6-8-9.6-2.5 13.3 2.8-10.9 1.9 7.7-1.6 2.5-16.2-11.8 9.8 9 3.5 2.9-1.8-.8 2.3-.9 1.5-1.2-5.8-.3 3.6 2.1 6-11.1 3.4 1.7-9.2 9.8-2.1-.2-1.1-5.3 16.8-7-11.9 10.6 1.4-.3-7.2 .1-3-8.4 14.2 2.3-1 1.2-12.1 .5 9.5 1.3-8.6 2.2 4.6 4.1 1.7-3.4-3.7 2.8 1.9 .4 .8-.3 1.8-2.5 .5 .7 8.5-14.4-14.9 10.6 31.7-6.8-25.4 5.6 .2 5.1-4.3 1.3 1.8-1.6 2.2-7.1-8.8 1.4 14.7-7.2-9.1 15.6-.4 .1-3.3-9.1 7.3 1.7 .1 3-20.4-3 37.7-5-30.5 6.3 3.7-.4 9.3 5.4-5 .7 3.1-4.7 .8-3.6 3-1.3-3.3 5.5 5.4-6.4-1.9 8.3-7.5 1.1 6.7-7.8-4.5 8.5-1.2 .2 3.1-7.1-1.7 6.7 6.7-7.3-9.3 6.1 1.5 2.1 6.9-17.3-9.4 13.3 3.3 4-2.9-8 8.9-3-1.9-1.5 .2 5.5-15.7 .5 10 4.1-5.3 .4 10.3-2.3-9.5-4.6-.3 6.5 15.7-1.4-9.5 3.9 .3-1.3-4.2-9.3 4.6 9.2 4.1-6.4-10.1 3.7 6.4 2.9-17.7-7.5 14.9 8.4 2.3 .1-2.3-2.3 8.7-1.4-3.4-10.7 1.6 3.5 1-5.8-.1 5.1 3.7-2.6-7.3 6.9-5.3-.7 5.1 5.4-17.4-10.1 13.4 11.5 6.4-16.9-3.9 16 .8-3.7-4.6 .3-.4 .7 0-6.8 7.2 5.8-6.1 1.6 8.1-5.4-9.9 5.3 5.2 3.8-5-2.6 1.4-3.3 4.2 5.4-.5-1.5 7.4-1.7-3.9-9.3-.9 4.5-3.4 9.2 .2-1.2-3.1-5.6 1.6 6-.2 0-.2-.9 1.5 .8 4-3.7-8.9-1.3 2.3 .3 1 4.7 1.2 1-3.2-8 2.9 7.8 5.6-3.7-8.5 1.1-1.4-.5 9.1 .8-3.6 .1 1.7-.7-2.3 2.8 1.5-4 5.2-1.9-5.1 2-13.5-6.1 4.6-4.3 5 14 7.4-3.4 1-7.3-16.9 1.1 6.5 6.8-11-11.6 12.6 11.7 0-1.2-5.6-12.2 3 11.8-5.4-.7 10 5.2-7.3-8.1 8.3 7.8-3.1-.8 8.8-4-3.6 0 1.8 .5-8.4-2.3 7.2-4.6-7.2 9.2-1-6.6 3.8 8.7 8.7-8.5-20.6 1.2 13.9 5.5 3.9-1.4 3.2-1.8-.7-2.8 3.5-4.2-11.8 10.9-2.2-9.8-5.7 6.7 3.1-1.3 9-.1-4.1 5 1.7-1.1-7.7-13.4 9.1 13.3-.5-1.9-6.8-7.1 4.8 11.2 3.5-13.3 .9 8.6-2.3 2.3-3.3-.8 1.5 3.4-3.9-6.2-.5-5.3-3.9-6.7 14.6 7.9-6.8 10-4.7-3.4 4.4 2.3 1.8 1-3.1-1.6-2.2-3.8 10.7-2.6 1.2-1.5-11.4 .5-.7 5.6 8.1-.8-13-8.6 7.2 9.2 10.8-11.5-9.7 14.6 1.7-.4 1.2-4.2-6.8 0 6.3 4.2-.8 .9-5.9-3.8 6.3 3.2-13.8-7.1 20-4.4-5.3 10.7 7.7-7-9.8 8.8 8.4-10.8-8.9 9.4 6.5-10.7-3.8 5.9 6.3-5.9-13.8 2.2 1-5-1.5 3.7 10.2 4.4 11.6-.9-20.9-10.5 10.4 15.2-5.3 2.9 10.3-16.6 .4 12.9-1.7-6.9-8.9 10.7-3.1-10.9 .1 7.8 3.1 2.6-3.5-2.5 1.4 1.2-2.7-1.7 7.7-1.4 20-6.4-17.8 4.7 14.1-6-15.4 1.8-19.8 1.9 18.6 3.7 6.7-12.8-8.1 14-3.2 .4 4.8 .8 .2 .1 1.8-3.5-4 5 2-4.9 1.4 4.9-19.6-8.1 10-4.8 .7 10 5.9 .8-9.5-3.3 19.6-2.7-8.6 6.5-5.1 1.6 1.1-.6 4-4.2-3.1 6 .3-.3 2.4-2.8 5.5-2.5-6.7 2.1 12.9-6.8-15.4 9.9 4.4-7.3-14.3-2.4 11.6 9.1 1-.8 0-1.3 .2 .8-1.9 2.2 1.9-2 4.5-8.1-5.7 9.9 2.3-1.5-.6-4.1-3.7 3.2 12.5-8.6-11.9 10.5 7.5-2.3-4.1 .8-.1-.1-3 1.4-2-5.9 2.3 6.7-1.9-2.5-3.9-4.8 2.2-.3 .6-5.3-3.7 4.2 3.9 3.8 .5-1.6 12.4 .3-16.1-5.2 14.5 6.7-5.5-4.8-2.8 9.7 1.7-1.2-5.2-8.4 15-.9-11.8 9.9-5.7-14.3 8 12.5-16.6-10.6 16.1 11.6-5.4-4.1 7 .5-5.9 2.3 15.6-14.6-13.3 17 3.6-2.2-4 .2 .8 2.2-5-2.6 15.1-2.4-12.1 3.3 14.9-5.6-14.9 1.9 2.4 5.2-11.7-17.8 16.8 3.9-7 10.9-11.3-12.5 9.5 13.6-3.1-12.6 5.1 10.9-6.6-5.5 16.3-6.6-6 8.7-.8 3.3-4.5 2.1 2.1 1.6-4.9-10.2 1.5 5.8-10.4-5.9 16.5 9 5.6-11.2-2.1 7-9.5 .3 6.2 2.5 14.9-11.7-18.3 12.2 8.2-2.4-10.7-1.2-9.2-8.9 11.4 10-26.6-12.2 28.4 17.3 9.5-14.1-11 12.2 1.5 1.8 9.9-12.8-21.8 7 15.5-2.1-5.8 5.1-2.3-3.5 .2 2.6-3.4-1.6 4.6 .8-.1-3.9 21.1 2.2-13.7-11.2-3.8 16.8-.8 .3 1.1-.7-3.4-1.3 3.8-.1 .2 1.8-.3-1.4 .1 .2-7.5-1.1 6.3 2.9 3.3-2.3 2.1-7.3-11 4.3 6.7 4.3-15-4.8 12.8 2.9 3.9-1.5-7.5-4.6-3.8 5.3 7.3 1-1.5-5.8 4.7 7.8-8.9-6.8-.7-9.8 15.1-.6-6.8 17.3-1.1 .4-8.5-13.1 7.2 11.8-1.7-3.3 4.1 3.8-3.2-6.9-2.9-6.7 8.3 11.9 7.3-.9-11.7 1.6 3.7-4.6 1.3 3.4 1.3-9.3 .4 9.1-10.9-2 7.8 4.2-6.5-3.8 10.7-8-11.7 8.4 6.5 4.2-3.6-4.2 4.3 2.2 1.3-6.1-3.4 8-1.7-4.4 1.5 3.8-1.3-2 19.1-15.1-17 18.1-4-1.9 3.6 2-18.7-6.1 22 2.4 3.1-8.9-10.9-2.3-3.7-2.9 5.7 13.9 2.2 3.7-1.8-5.2 3.7 3.4-3.6-2.9-5.2-10.9 14.9 8.9-4.1 3-13.9-11.8 13.2 14.1-11.5-11.4 14.9 8.9-6.5 4.1 3.4-11.7-4 9.6 3.1-1-5.5-3.1-2.8-1.8 5.7 7.3-5.6-5.5-4.6-7.8 10 13.6-1.6-1.6-3.2-2.2 4.6 2.8-1.8-6.2-.4-3.5 10.7-1.7-15.7-.5 7.3 11.8 4-11.7-.3 9.6 .1-8.2-4.4 8.3 4.9 .6-4.5 2.3 1.1 .5-.9-1.4 12.4-7.7-4.2 7-13.5 .7 7.4 .6 .5-1.1-3.5 .6 2.5 .7 .5-2.8 .7 .3-12.5-6.3 15.2 6.6-6.2 .3 5.7-1.4-5.7 .1-7.7-4.4 10.3 6.2 6.1-5.7-2.8 3.6-4.9 4.1-1.4-4.3 .2-.1 5.7-2.4-9.2-1.9 4.5 8.2 1.9-2.6 1.6-3-3.8 5.7 10.1-17.3-8.4 16.7 8.3-12-7.8 12-1.7 1 9.1-8.2-8.1 7.7 6-9.3-11 2.9 12.7-5-16.4 6.6-2.4-10.4 18.1 5.7-10.2 2.4 6.1-1.7-18.5-8.1 6.6 8.5 3.2-5.1-.6 1.4 9.9 2.6 2.2 6.9-7.4 1.6 3.6-6.9-3.8 5.3-7.8-10.8 5.6 3 16.5-1.1-18.6 5.3 1.2 3.5 10.9-10.4-15.2 4.1 15.7 6.6-7.9 1.5-4.3-11.8 5 13 .3 .3-6.7-2.6 15.8-15-14.9 12.2 3.2 .3 2.9 4.5 1.4-4.5-2.8 4.1 .5 .2-6-11.2 3 6.6 11.5-11.2 .2 13.9-4-9.9-7.4 8.2 10.2-12.9-6.4 16.3 1.3-1.4-6.7-5.4 8.5-7.8-9 8.7 4 4.5-1.5-.7 6 .9-1.1 1 1.6 .3-6.1-2.3 6.1-8.7-6.8 9.8-4.5-6.7 1.1-8.6 9.8 9.3-5.6 .3-.3 2.9-1.4-3.2-2.3-2.7-5 .7 9.7 6.5 4.3-5.9-3.4 9.1-3.5-3 7.8-1.6-2 1-.9 3-.3 .3 10.4-6.6-11.9 4.3 3.6-1.2 1 1.1 .2-1.7-7.8-3.7 .9 5.5 3.9 2.5 .7-2.5 8.2-11.1-10.7 13 4.9-15.7-2.9 16.3 4.7-3.5-1.2-11.9-1.3 4.2-1.6 11.4-.5-.6 1.7-3.5-3.2 3.8-8.8-8.3 4.7-.5 3.2 6.6-.1 1.2 5.3-3.1-3.2 4.2-9.7-8 6.1 2.4-7.1-7.9 15.7 7.3-5.2 6.2-3.5-5.3 1.7 2.9-1-1.1 5.1 1.6 6.3-4.9-6.8 .7-2.9 5.9 2.9-5.9 6.1-4.6-7 9.3-5-14.9 3.3 15.9 1.3-.1-2.5-3.2-4.9 .9 11.7-1.4-7.9-5.1 7.7-6.5 9.8 6.6-11.5 6-1.1-2.5-3.3 5.2 1.7 .6-.6 .5 11.4-17.6-7.7 12.5-.2 2.3 .5 .5-15.4-9.9 24.8 2.9-11 1.6-5.7-5.8 11.7-2.5-8.6 15.7-.1 .1 .6-.2-1.9-2.2 9.5-1-12.8-.2-9.5-10.6 19.6 3.3 3.9 .3-10.3 7.7 7-2.5-1.8 3.4-.1-7.3-2.8 8.6-9.1-13.3 5.4 10.2-3.3-10.7 3.2 4.7 2.1 9.1-.1 .2-.1-.2-2.4-.6 3.5 1 1.1-.7-4.4-10.7 1.5 9.4 8.6-14.9-4.4 11.1-2.5 6-3.2-9.9 5 4-2 6.2-5.6-11.2 6 10.5-8.9-10.3 10.1 6.6-15.9-4.9 11.5-1.2-1.6 4.9 8-.2 .5-3.6-4.5 8.5-4.3-3.4 11.5-5-9.2 4.6 20.4-2.5-13.7-4.1-7.6 1.2 4.6 6.9 2.3-2.4 1.2-1.8-.9 0-.5 5.7-7.6-16.5-.1 13.1-1.9-2 12.1-2.5-1.4 .2-1 2.8 5.1-1-16.8-4.3 6.7 9 4.2-2.4 5.2-11-11.3 2.1 8.4 8 4.9 2.3-6.5-1 2.8-3.4-12.5 1.1 6.6 6.7-3.1-.9 7-10.4-8.1 3.1 6 2-1.4 5.2 10.1-1.4-6.4-2 6.5-4.2-3.9 3.9-8.6 .6-2.9-6.8 6.6 8.9-2.2 2.2-11.2-5.2 10.7 5-3.1-4 5 1.3-2.6 2.1 1.5 .8-3.5-2.4 3 2.4-3.1-.5 16.3-5.1-8.9-9.9-6.9 10.8 12.2 1.8-15.8-5.3-3.5-.8 12.5 .8-.7 6.2-7.9-6.9 .2-.7 .1-3.6 2.2 3.2 1.5 3.7 .4 5-11.9-7.9 9.9 6.7 2.8 .6-.6-.1-12.5-10.1 26.9 .5-23.5-4.4 10.2 15.6-.4-.4 3.5-2.1 2.3-4 1.5 4.2-3.7-1.7-3.5 3.5-2.3-10.7 10.6 6.7-8.2 4.7-2.5-9.4-3 3.2 12.8-10.7-9.6 15.4 7.1-1.3-6-2.3-1.1 2.4 .8 1.3-11.3-16.5 12.7 17-2-4.1 5.5 2.9-5.4-2.6 4.8 .8-2.4 4 3.6-6.7-.6-2.7-8.1 5.3 3.5-.9 6.9-.1-4.1 4.9-6-17.6 3.5 15.8-7.3-9.1 8.2 10.3 8.9-8.1-19.9-6.7 15.5 12.7 3.8-10-9.3 8.4-1.5-3.6 12.4 1.3-12.6-2.4 4.7 8.1 4.1-10-5.9 10.6 13.9-12.2-23.9-5.5 21.5 11.4-9.1 4.5-5.6-2.8 4.1 4.8-1-.6-1.4-.2-2.4-9 0-6 4.9 15.8 3.3-5.8-7.5 1 4 4.7 4.3-10.4-1.8 5.7-.3-3.3-5.6 3.2 5.8-4.6-3.3 9.1 1.4-.1 6.1-2.7-7.4 3.5 15.8-13-14.3 12.7-4.2-4.2 4.7 2.4-3.6-1.9 1.7 4.2 1.5-.6-3.4-1.2-2.7-8.5 16.2 7-17.7-2.6 11.8-2.7 1.1 5.3-8.6 1.1 5.1-8.7-1 6.6-3.4 3.8 12.3-10.8-10.3 10.4 1.8-.3-10.3-9.1 3.5 4.1 6.4 3.7-.1 .9 11.4-11.5-19.8 4.8 17.2-4.6-13.7 8.3 4.4 3.9 1.6-2.6 .9-1.2-1.3-.9-5 4.4-5.2-2.3 8.6 2.9 3.5-13.2-13.5 9.8 5.2-13.1 .6 3.8 6.1 10.9 7.7-4.7-12 5.5-7.9-5 15.1-3.9-2.5 3.8-2.3 4.9-3 .2 3.5-1.1-6.4-13.4 7.3 14.4-.5-.3-5-2 2.7 3.1-1.3-3.1 .7 2.8 5.4-7.6 3.3-.5-12.9-1.6 1.6 3.5 3.6 7.4-3.2-6.4 2.5 5.6 11.1-5.6-3.9-2.5-14.6 1.9 11.7 2.3-4.9 3.8-1.6-3.3 .9-2.5 8.6-.8-3.6-3.6-4.9 7.4 4.7-1.6 3.5-.1-10.6-10.5 6 14.4-1 .3 4.8-8.6-13.6-5.9 6.6 12.7 4.4-1.5 1.2-3.6 .7 5.5-2.1 .4 1.6-2-11.3-5.4 6 8.3-1.3-.2 .3 .2 .5 .2 5.6-2.9-5.1 1.5 4.2-7.4-10.1 4.5 2.9-9.5 10.5 7.4-7.5 6.4-1.2-5 6.1-7.1-6.8 3.6 .5 1.4 5.6 1.3-2.4 5.2-3.9-9.5 1.8 10.6 .9 0 13.4-11.9-12.6 12.4 3.1-6.1-4.5 4.8 6-7.3-16-5.1 7.7 8-.9 1.9-3.6-13.9 11 8.5 6.8-1-11.8 8.2 4.3-6.1-3.3 7-2.7-2.7 7.1 2.1 8.4-8.9-15.4 5.6 13.7-4.8-14.5 .1-.7 5.4 .6-4.1 0 .5 3 6.6 5.1-13.6-3.2 14.5-8.8-8.6 10.9 4.9-2.2 3.2-3.3-1.7 29.5-10.6-26.7 13.3 3.8-6.9-18.9-6.5 13.4 9.8 4.2-4.6-6.5-10.4 6.3 14.6-2.8 2.7-7.5-4.3 13.5-5.3-7.2 8.6 10-9.3-11.3 1.6 4.8 8-5.2-3.5 .6 1.1 4.4 .1-7.2-.7 2.8-1.1-4.5-11.7 5.7 13.1-3.6-4.5 6.3 8 3.8-8.4-11.6 6.5 11.3-1-7.1-3 5.4 2.5-2 3.7-3.5-1.6 2.1 2.1 12-14.4-3.3 8.1-16.5 1.4 2.2 .8 6.3 4.4-5.8-6 1.2-7.2 5.3 12.1-4.4-2.5-4.3-10.3 5 11.3 7.8-9.5-14.1-2.4 10.2 13.8 .3-1.4-2.2 1.5 14.5-12.2-13.4 12.4-4.7-8.2 9.5-3.4-10.3 2.6 10.1-1.3 4.5-6.5-8.7 16.2-11.3-3.4 13-3.2 8.7-6-12.7 11.8 5.2-3.4-1.2-2.3-1.7 6.3 4.5-7.4-8.1 3.8 4.4 1.2-3.1 1.3-4.1-5.5 6.3 6.8 2.4-9.9-1.9 8.5-3.1 .2 .2-1.3 2 3.4-3.1-2.5 1.4 1.6 4.2-4.9-.7 4.5-7.6-5.6 7.9 2.1 0-1.1-3.7 5-1.4-9.5 4 9.7-7.4-3.5 12.2-4.5-8 2.5 5.2 5.2 2.7-14.5-11.8 .4 9.6-.3 1.2 6.3-4.3 8.7 18.6-10.3-21.7 1.7-9.4-6.7 8.7 11.8 5.6 3.1-5.3-8 3.6 8.5 2.7-9.9-3.4 10.4-2.8-9.1-2.5 4.4 16.8-8.8-21.2 4.8 11.6 4.5-7-2.8 7.9-3.1-2.6 10 1.6-.6 .2-5-8.9 .3 11.7 2.6-6.1 1 5 .5-1.1-4.6-4.2 3.6 11.2-8-11.5 7.6-1.6-1.4 6-1-6.2-11.4 4.8 16 .5-2.9-7.4-4.1 10.1 3.3-6.4 1-6.6-10.1 8 11.6-1.9-2.6 17.7-12.1-16.8 13.7 8.4-6.7 .1 .3-2.7 3.2-1.8 2.3-16.7-7.5 9.2-4 6.5 14.5-6.7-10.2 29.3-6.7-14.9 8.7-2 .8-4.4 3.2 1.3 1-7.6-7.5 6.8 3.7 12.1 2-14.3 4.4 .4-.9-1.4 2.1-10.2-15.4 .2 9.5 10 5.6-2-5.1 5.4 2.5 19.1-11.3-24.6 9.7 8.7-12.2 .3 4.8-9.6 9.9 11.9-1.1-12.1-.5 4.7 2.7-.5 .6 .3-2-5.7-3.1 4.6 4.9 .6-1.7 1.4-2.7-4.5 3.1 3.7-2.6-7.5-3 4.3 4 28.7-11.4-26.2 13.9-7.1-2.1 4.2-2 1.3 4-3.4-2.4 31-14.2-32.6 9.4 12.7 1.5-9.9-4.8-5.2-4.6 8.7 15.3 2.5-10.9-2.8 11.6-4.6-.8 21.1-12.7-22.9 8.5 15.5-11-12.6 8.9 4.6 5.1 .7-1.2-8.9-12.6 9.2 13.2-8.9-.6 8.9-4.1-.5 2-9.8-7.7 11.1 9.9-4.1 1.9 3.3-3.4-4.7 2.3 9.6-9.7-1.1-1.8 9.2 .9-14.4 12-4-5.4 1-.1 0 3-4.2-4 3.7 1.8-.7-7.7-5.3 3.9 12.1-5.8-9.7 10.7 7.6 3.5-.6-.7 5.6-11.5-4.3 11.2-6.4-5.3 1.2 2.3 1.9 4.2-18.4-14.5 21.6 8.9-6.4-4.2 1.2 2.1 3.9 8.1-2.3-3.5-1.7 1.1 .7 1.6-6.5-4-12.9-4.7 31.9-8.3-12.3 14-3.4-7.8 2.5 9-5.6-4 8 5.9-.2-.2-6.6-9.8 13.7 3-10 4.4-5.4-.4 2.4-10 3.8 8.8 2.9 4.9 8-9.6-3-1.5-3 9.9-6.5-16.6 1.3 3.7 1.1 10.9-3.1-5.3 6.5 6.3-.1 2.2-3.8-2.2 1.6 1.4 2.1-.5 3.3-7.4-7.1 5.7-2.9 1.1-.4-7.8 4.6 8-1.9-13.2 5.5 10.5-2.2 4.7 6.7-16.2-9.9 8 4.8 4.7 6.2-8.3-3.5 6.6-5.5 2.8-6.9-10.7 5.7 9.1-.9-4.8 2.5 7.5-1.9-9.6 2.3 9.5-12.6-14.3 14.5 14-1.9 .4 1.1 1 1.7-4.4 1.8-10.1 5.3 6-12 .1 7.2-.1-7.5 3.3 1.5 3.3-.4 .5-5.2-4.8 14.4-6.9-9.1 9.6 6.3 1 7-13-9.1 13.5-4.6 .9-1.4-1.4-18.4-8.1 23.7 7.2-7.1-8-.7 4-.9 1 19.4-11.2-19.7 12.1 27.1-10.1-17.3 10.3-19.1-9.1 19.5 12.6-.5 .3-6.7-4.4-13.6-11.7 17.7 17.7 7.1-11.5 .8 2.8 0 .8-5.8 5.4-7.3-12.1 4.8 14.5-11.8-12.9 11 10.4-2.9-3.4 8.3-7.7-.1 11.9-6.6-.2 7-15.2-6.2 11.7 11.1-9.7-17 7.7 5.1-2.3 7.8-1.5-12 2.9 10.9-9-2.3 13.1-.9 3.1-10.8-8.9 6.6 6.8 1-4.8-3.9-3.4 6.3 11.9 4.2-10.9 8.3 4.8-16 3.1 1.8 .9-1.4 .2 3.3 1.7-5.6-5.9 12.3-11.7-8.2 14.4 .3 2.8 10.5-10.4-8.1 9.1-2.1 .7-3.8-3.1 11.3-1.5-5.3 2.7-8.2-6.4-17.2-9.1 21.2 14.2 8.9 1.5-7.3 1.4 3.1-.1-12.1-7.3 4.5 1.4 8.8 3.5-2.5 2.6 .3 .4-2.7-1.1 6.3-8.7-5.8 8.7 3.1-3.1 2 3.2-4.7 1.1 3.1-6.7-6.6 3.8 4.8 2.8 3.5-3.7-6.3 3.1 8-9.7-2 2.3-.3 3.7 12.4-8.8-27.2 3.3 9.4 7.8 5.2-.7-1.9 .7-4.7 .3 .3-4.2 4.7 4.6 12.5-11.2-6.9 11.8-10.5-11.8 11.9 10.6-7.9 1.8-4-7.8 4.9 7.5-10.1-3.7 15.2-2.6-10.7 3.1 13.5-6.9-8.4 10.5 1.3-6.9 1-5.9 9.9 3.2-1.1-1.8-4.5 6.7-14.4-3.6 2.9-7.9 5.2 15.2-4.2-.4-2.6-5.1 1.6-.1 4.2 7.5-2.2-1.7 11.3-11-11.9 4.5 .8 4.4 4.3 .1-1 2.1-2.8 0 11-16.4-5.3 12.7-15.3-12.8 6.1 12.4 15.1-2.5-9.9 7.6-.8 .4-5.7-6.1-2.2-7.5 7.5 12.4-4-5.1 14.1 2-7.5 1.1-6.8-3.7 2.9 5.5-10.4-5.5 10.9 3.1-8.5-6.3 2.1 .8 5.2 5 3.6 3.8-1.7 .5 4.7-10.1 16.3-5-15.5 10.8-5.8 2.5 6.4-16.2-5.6 18.2-1.1-1.6 2.7 .9-1.3 .7-1.8-3.7 2.1 3.5-.9 0 13.4-12.8-18.5 7.5 5.2 5-2.1-.9 17.5-15.1-.6 3.8-22.5 7.1 12.2 3.5-14.6-14.8 12.9 12.4 7.5-6.8 3.9 3.8-14.3 6.7-.7-2.2-6.2-6.6-.4 3.5 14-7.7-3.7 6.7-16 1.4 10.3-7.6 7 9.1-5.8 1.1-2.4-2.8 5.3 4.8 4.7-7.9-.8 6-8.4-4.4 8.5 3.9-.4-.1-4.1 3.3 0 .2-.3 .2 7.3-4.3-8.1 2.6 2.9-1.8-.7 .1-5.3-5.1 1.8 1.8-2.5 4.6 1.6 .1 12.7-10.3-13.5 6 13-10.4-1 5.1-8.9 10.8 11.1-8.2-10.8 8.7 4.3-2.5-4.6 1.6 2.9-6.1-15.5-.8 18.8-1.1-5.2 8.8-6.8-14 28.3 .9-19.6 12.8-4.5-1.8 1.7 2.1-3.3-8.2 1.3 4 6.8-13.1-14 5.3 9.8 12.4 2.7-3.4 5.2 .8-7.5 2-1.2-1.2-9.6-6.6 10.4 8.4 6.7-18.3-9.4 14.6 3.9 .6-5.5-5.1 5 7.8 1.8-5.8-6 1.2-4.3-5.2 18.6-4.8-13.3 13.1 6.7-15-8.2 8.3 3.3 7.1 16.4-7.7-12.2 4.1-.1 1.5-4.7 .2 2.6 1.6-2.9-2.4 5-10-7.6 6.7 .5 4 3.2 3 1.1-.4 .1-.9-3-1.9 2.3 3.6 1.6-2.4 2.9-11.1-3.5 12.6-7.8-7.2 7.3 7-5.8-5 9.2-6.4-5.7 8.5-6.9-8.6 2.2 7.2 9.3-5-3.8 8.1 2.1 1.4-4-9.8 11.9-4.7-33.5 2.4 22.2 5.8-.3-1.9 21.7 3.6-16.6-1.6 2.3 3-15.3-13 2.4 3.3 17.1 2-7.8 8.7-14.2-5.4 16.4 3.5-.9-3.8 10.4-3.4-62.9-3.8 44.9 10.6 5.7 4.3 5.6-5.9-5.4 5 6.8-2.4-10.9-8.9 3.9 11.9 8.1-5.2-12.4-2.7-17.7-5.3 21.1 14.5-3-4.5 5.5-2.3 .5 4 10.5-4.2-16.9-8.9 1.9 12.9-11.5-4.8 17.9 1.7-10-.3 1.2-3.5 3 7-4 1.1 4.3 .1 0 0 .6 1.7 .6-.2-1.3-1.2 3.5-2.9-15.4-11.8 18.4 7.5-6.1 8.1 2.2-4.1 .9 2.8-5.8 1 6.1-7.7-2.6 8.4-.8-1 3.4-1.7-6.3-3.5-5.6-7.9 9.7 13.8 3.3-8.7-4.1 9-5.2-5.4 6 4.5-6.3-6.5 5.5 7.6 5.4-4.3-5 4.3 .4-1.1 2.1-.3-6.4-1.4 13.8-4.5-6.5 4.4-6.7-9 6.4 5.4-7.5-3 9 2.8-2-.2 7.8 2.6-7.4-4.1-.5 1.4-22.7-2.6 8.7 4.1 11.6 4.8 2.1-3.6-5.6 3.1 .7-2.2 .1-3.4 .6 5.6 5.7-1.7-1.7-4.2 6.1-8.5-12.4 8.1 5.7 3.5 7.5-6-9.7 9.1 6.4-1.6-1-3.3-6.7 .5-1.6-.9-5.5 2.4 7.6 2.6 1.3 1.3 7.1-9.6-4.3 5.2-6.5-12.1-7.1 4.4-7.7 8 22.2 .5-5 2.4 2.8-1-8.2 0 9.2-4.2 6.9-2.3-15.2 1.1 8.2 4.5 4.7-4.4-9.3 6.1 6.8-13.8-6.5 14-1.3-11.7 5 11.4 4.6-10.1-3.8 5.7-10.4-5.1 4.3 9.2-5.8-7.7 15.6-1-3.3 3.9-3.9 5.4 2.2-2.1 7.2-8.7-3 9.1-9.2-8 7.2-1.8-.4 2.3-6.4 7.5 6.8-1.2-6-4.8 4.5 7.5 3.9-3.8-1-10.3-5.3 14.5 .5 .8-3.9-7.5-2.2-3.3 8.1 7.3-6.5-2.8 8.1 .4-22-6.9 14.2 4.4 21.8-.4-14.9 7.2-3.1 1.2 .5 .4-3-10.2 16.1-4.3-8.5 8.2-4.1 5.8-8.5-10.5 3.3 7.4 10.7-2-7.5 3.1 5.9-7.4-3.3 7.5 .4-1.9 5.1-1.4-8.6 4.3-.5-3.4-3.8-4.1 3 5.6 11.4-9.7-5.5 5.9-.1 3.1-5.2-1 5.2-4.2-3.1 9 3.1-4.5-5.4-5.2 2.3 9.2-2.5-7.1 3.9 5.7 5.1 .4-2.8-5.1-14.8-5.8 7 7.3 5.8 3.8-8.7-6.2 3.7 5.5 1.4-2.6 7.2-7.2-.4 9.8-6.9-2.9 1.3 4.1-5.7-2.1 5.1 .5-12.5-12.7 17.1 4.6 5.3 4.7-9.9 2.3-3.4-5 6.1 6.7 6.5-5.6-31.7-2.6 18.6-7.3 2.6 12.9 4.8 2.5 12.4-2.8-18.5 2.4-.6-9-4.3 1.4 8.4 9.2 1.5 .7 2.8-11.9-8.9 6.9-26.3-4.4 35.2-4.7-6 13.1-9.2-9.6 5.2 2.5 10.1 2.3-9.3-1.8 9.8 4.1 .6 0-7.7 1.7 .4 .4 .7-.9-.8-1.5 1.1 1-.4-2.3-2.6 2.5 8.3-.8 .9-13.1-5.7 13.9 1 2.9-2.2-4.2 1 2.7-2.3 .8 .2-4.6 3.2 5 5.4-8.3-1.9 6.5 2.7-1-7.7 .1-5.8-7 2.3 6.4 .2-14.6 5.2 18.2 .9-1.3 2.5-2.8-4.7 2.1-.9-4.4 2.8 4.7-1.9-1.2 8.6-6.8 13.5-3.2-19 6.9 3.3-5.3-.3 6.1-10.3 2.7 5 1.8 1.8-3.1-5.9-3.4 10.4-2.8-4.3 9.4-6.3-7.7 1.3 .1 7.8-2.9 2 6.9 4.6-12-11.7 15.4-.7-2.1 3.8 1 .7-1.8-16.2-7.3 14.8 6.1-.2 3 12.4-7.1-2-7.7 7.4 .6-28.2 2.1 11.2 11.5-4.4-3.3 2.6 4.8 10.1-12.4-4.7 8.8-10.3 1.3 8.2-2.7-6.4 3.1-1.1-3.9 3.4 6.6-8.4-8.1 6.3 .7 3.8 3.8-5.4-7.1 7.3 7.2-6-3.2 6.9 4.5-4.9 1.9-3.9-10.6 7.6 6.9-.7-3.6-2.8 7.7 .4 .2-2.3-7.8 4.1 5.8-4.1-6.1-3.2 .8 5.5 7.3 3.9-17.3-6.7 6.9 8.5 5.3-4.6 3 .5 1.6-10-8 9.8 5.4-.4 1.9 4.1-14.3 .8 6.2-1.4 2.2-8.5 3.9 4.3 3 .6-.4 3-9.2-5.7 6-.4-3.4 2.1 7.1 7.2-7.3-10.7-2.5 1.7 3.8-1.6 2.3 1.3-3.6 4 5.4 4.1-14.1 .8 12.8-2.5 .6-1.7 .7 .5-3.7-4.9 .2 6.8-.3-9.8-11.4 4.2 15.4-3.5-5-3.9 3.1 19.3-1.3-5.2 .2 .8-6.9-13.2 4.3 2.1-1.3 1.1 2 5 5.1-3.2-.9 6-8-7.2 6.6 11.5-11.4-9.3 14.8-4.8-4.5 1.1-.9 .9-5.8-2.2 8.2 2.8 .1 6.2 1.5-2.8 1.3 .5-2.5-8.3-2.6 7.3 5.5-7.6-11.1 7.9 11-6.1-2.4 3.3-4 4.2 4.4-4-.4 2.9 .6 2.5-4.1-1.7 5.3-5.9-2.4 4.3 3.3-6.1-13.4 8.8 3.3-1.3 8.3 .1-1.1-6.3-2.9 6.5 2.8 1.3-1.9-2.8 4.6-1.8-4.1 3.8 1.7-1.6 1.4 12.5-15.4-11.6 12.5 .8 .7 .7-5-.9 7.1 16.5-13.8-3 3.8-9.4 2.4-9.3 5.9 1.5-.5 2.9 1.9 13.2-8.8-10 7.1-2.4 0 .5-.2-5.1-.7-1.7 3 4.6 1.2 8.5-3.3 2.4-9.6-8.7 9.6-6.1-10.8-2.7-2.9 8 13.1" fill="none" stroke="none" marker-start="url(#mr)" marker-mid="url(#mr)" marker-end="url(#mr)"/>
<path d="M86.4 233.1l42.2 3.8-44.8 .8 28.2-.6 19.3-.3 8.2 1.2-9.3-2.8-3.7 2.2-15.5-4.5 6.7 7.8-30.3 2.4 2.4-11.9-14.9 9.6 1-6.7 3.4 2.1 10.7 5.8 27.3-11.1-30.4 12.1 52.5-5.3-27.1 1-26.4-3.2 2.8 .3 33.8 2-9.6-5.3-27.5 8.9 40-4.7-43.8 1.9 36.6-1.7-32.1-5.7-11.7 14.8 39.2-3.8-25.4 .4-14.2-1.7 15.8-6.9-2.7-2 30.4 7.9-61.8-8.3 9.5 7.3 22.7-1.9 .1 2.9-14.2-1.6 13.1 .3 1.6-2.9-7.3 .5 33.1 .1 2.3 6.9-38.7 2.2 10.6-6.1 32.3-8.4-7.1 9.2 .1-.4-43 2 1.2-10.5 39.4 9.4-70.9 2.1 73.8-5 .3 4 2.8-4.2-31.7 4.3 2.4-9.5 27.5 13.1-53.9-7.6 13.9-5.5 4.7 12.8 8.5-.1-5.7-8.7-.9-5.4 32 9.9-30.2 1.9 30.2 2.3-25.6-13.8 22.5 11.4-23.4-2.9-22.4 1.1 66.6-4.5-41.7 1.9-3.6-7-3.7 .5-7.4 3.5 6-.5 7.1 7.3-1 .2-2.2-9.9-10.5 11.8 1.4-7.6 43.3 6.8-34.4-9.2 28-2.1-25.9 1.3 24.2 8.7 18.6 1.5-42.9-10 2.8 8.1 23.8-9.2-24.8 .8-29.2 1 64.2 1.8-36.7 9.2 .7-14.1-3.8 9.3 1.2 1.1 31.3-9-.7 9.1-28.6-9.4-1.4 13.2-15 0 51.9-2.2-33.8-8.9-4.8 10.7 34.6-.7" fill="none" stroke="none" marker-start="url(#mh)" marker-mid="url(#mh)" marker-end="url(#mh)"/>
<line x1="92.60" y1="158.30" x2="92.60" y2="251.20" stroke="#4a4a4a" stroke-width="0.85" stroke-dasharray="1.8,1.8" stroke-dashoffset="-0.6"/>
<line x1="108.50" y1="158.30" x2="108.50" y2="251.20" stroke="#4a4a4a" stroke-width="0.85" stroke-dasharray="1.8,1.8" stroke-dashoffset="-0.6"/>
<path d="M87.5 227.4l8.5-3.3-4.4-5.4 .1 6.6-4.8-7.3-14.2-9.6 19.2 13.4 4.2-12.9-10.7-6.4 11.5 17.1-5.7 9.9 1.8-6.6-.5 3.2-.5-15.6 5.2 17.1 .9-.4-21.5-3.4 18.6 1.8 2-5.3-5.5 6.6-.6-6.9 5.3 9.8-1.9-20.4 2.8 18.9-2.1-2.8-4.4-1.8 3-10.8-2.7 8.5 .9 1.9-22-7.5-2 1.5 18.2 12.2 8.9-.3 2.3-6.3-6.9 5.7 6.2-14.9-6.4 9.1 5.6 3.7-13.7 2.4 14.6-5.6 .4 5.6-3.9-2.3-7.7-33.1 11.3 23.4-4.1 12.2 .1-1.4 2 .2 .1-.9-6-28.1 3.4 19.7-30.2-15.9 5.7 18.6 22.9 5.5-6-1.8 8-21.8-7 11-5.9-12.6 13.5 7.5 1.6 12.4-16.1-8.5 10 6.4 4.6 8.6-7.3-.5 9.2 .2-3.2-1.1-.7-4.7-4.5 2.8 7.9 3.7-1.4-18.2 4.3 7.4-4.8 5.8 .7-19.3-17.8 21.5 15.8-5.1 1.8 1.1 3.7 5.6-4-5-7.7-11.5 8.9 12.7 1.8 4.4 1.5-24.7-4.9 21.7 2.8-3.4-11 .5 9.4-2.8-11.7 1.6 9.7 6.7 4.7 1-.1-17 1.1 8.1-22.8-1.7 18.6 11-9.2-10.6-1.4-23.3-10 15.1-4.1-21-22.3 34.5 12.7 3.4 5.6-.7" fill="none" stroke="none" marker-start="url(#mg)" marker-mid="url(#mg)" marker-end="url(#mg)"/>
<path d="M107.2 226.6l-3.8 .8 5.5-5.7 7.7-7.6-9.2 6.3 9.2-10.5-10.9 14.2 7-1.2 1.4-8.3-5.3 9-5.5 2.9 2.1 1.3 6.5 .7 8-10.5-15.9 7.5-.2-.1 2.4 3.6 1.4-1.4-.8-1.7 8.5-4.7 13.8-2.1-4.7 10.4-19-.3 11.4-13-9 10.1 2-8.5-6.8-1 7 5.5 .1 2.5-.2-7.9 11.2 1.6-7.4-2.7-5.5 4.1 6.1 8.8-11.3-6.4 4.5-9.3 11.6 1.3-.7 8.2 22.4 3.4-20.8-14.8-15 1.3 2 15.6-3.2 0 3.5-12.4-4.3 9.7 16.8-9.6-9.6-2.4 12.3 6.7-11.7-1.1-4.8 6.2 7.8-35.4 3.5 20.9-.5 14.1-10-19.2 15.2 11.4-15.1 7.5-2-2.7-1.1-4.3 .8 11.6 1.9-6.1-1.9-.5 12.9 7.5-.2-25.4 39 3.6-47 11 8.7-3-13.8 10.2 20.8-3.9-5-22-4.8 25.8 2.2-28.6-13.8 31.7 1.7-2.5 7.2 1.2-5.8-2 16.2-8-11.4 12.2-3.5-5.9 16.3-5.8-18.4 4.8 2.2 5.6-3.7-.2 4.7-7.2 6.2 4.6-4.7 1.7 .9 2.1 7.3-.5-5.6-11.1-7 5.1-2.4 2.4 21.1-1.4-10.4-3.4-4-16.2 16.4 10.1-22 14.1 19.8-5.4-16.1-17.6-.4 23.4 29.3-20.5-26.7-.2 12 20.5-16.2-1 .8-2.1 6.9-1.1-10.5 .3 .3 4.5 14.8-12.8-.1 13-7.6-1.3-3.7 1.3 15.7-12-11.4 6.9-4-.7 12 5.6 9.1-88.7-14.1 85.5-4.3-4.6 7.7 6.3-10.9-2.5 21.7-5.5-9.6-1.8-8.5-21 7.9 29.7-7.7-3.4-4.7-5.6 5.1-.7 .2 11.9-8-1.9 15.5-7.1-13.6 3.7 8.8-8.7 18.5-3.4-26.6 15.4 2.1 1.5 50.2-4.9-52.5 2.9 6.8-3.6-.9-8.4 3.1 11.6 13.9-15.9-20.4 12.8 .7-3.2-3.7 5.9 1.2 3.2 5.8-.9-5.8-8.6-.9-13.9 5.1 23.8 19-69.3 14.3 15.9 13.5 16.6-13.5 8-12-27.2" fill="none" stroke="none" marker-start="url(#md)" marker-mid="url(#md)" marker-end="url(#md)"/>
</g>
<text x="116.60" y="186.70" font-size="7.3" text-anchor="start" fill="#3F4490"  textLength="26.2" lengthAdjust="spacingAndGlyphs">MLL-ENL</text>
<line x1="139.8" y1="188.5" x2="143.65" y2="191.11" stroke="#2E3192" stroke-width="0.9"/>
<path d="M146.30 192.90L142.81 192.35L144.49 189.86z" fill="#2E3192"/>
<circle cx="149.40" cy="194.90" r="1.4" fill="#1F2A6B"/>
<rect x="203.20" y="157.10" width="123.00" height="95.10" fill="none" stroke="#3a3a3a" stroke-width="1.25" stroke-linejoin="round"/>
<line x1="200.20" y1="248.80" x2="203.20" y2="248.80" stroke="#231f20" stroke-width="1" />
<text x="198.60" y="251.90" font-size="8.6" text-anchor="end" fill="#151515"  textLength="3.85" lengthAdjust="spacingAndGlyphs">0</text>
<line x1="200.20" y1="230.70" x2="203.20" y2="230.70" stroke="#231f20" stroke-width="1" />
<text x="198.60" y="233.80" font-size="8.6" text-anchor="end" fill="#151515"  textLength="3.85" lengthAdjust="spacingAndGlyphs">2</text>
<line x1="200.20" y1="212.60" x2="203.20" y2="212.60" stroke="#231f20" stroke-width="1" />
<text x="198.60" y="215.70" font-size="8.6" text-anchor="end" fill="#151515"  textLength="3.85" lengthAdjust="spacingAndGlyphs">4</text>
<line x1="200.20" y1="194.50" x2="203.20" y2="194.50" stroke="#231f20" stroke-width="1" />
<text x="198.60" y="197.60" font-size="8.6" text-anchor="end" fill="#151515"  textLength="3.85" lengthAdjust="spacingAndGlyphs">6</text>
<line x1="200.20" y1="176.40" x2="203.20" y2="176.40" stroke="#231f20" stroke-width="1" />
<text x="198.60" y="179.50" font-size="8.6" text-anchor="end" fill="#151515"  textLength="3.85" lengthAdjust="spacingAndGlyphs">8</text>
<line x1="200.20" y1="158.30" x2="203.20" y2="158.30" stroke="#231f20" stroke-width="1" />
<text x="198.60" y="161.40" font-size="8.6" text-anchor="end" fill="#151515"  textLength="7.7" lengthAdjust="spacingAndGlyphs">10</text>
<line x1="212.30" y1="252.20" x2="212.30" y2="255.20" stroke="#231f20" stroke-width="1" />
<text x="212.30" y="265.40" font-size="8" text-anchor="middle" fill="#151515" >-6</text>
<line x1="230.00" y1="252.20" x2="230.00" y2="255.20" stroke="#231f20" stroke-width="1" />
<text x="230.00" y="265.40" font-size="8" text-anchor="middle" fill="#151515" >-4</text>
<line x1="247.70" y1="252.20" x2="247.70" y2="255.20" stroke="#231f20" stroke-width="1" />
<text x="247.70" y="265.40" font-size="8" text-anchor="middle" fill="#151515" >-2</text>
<line x1="265.40" y1="252.20" x2="265.40" y2="255.20" stroke="#231f20" stroke-width="1" />
<text x="265.40" y="265.40" font-size="8" text-anchor="middle" fill="#151515" >0</text>
<line x1="283.10" y1="252.20" x2="283.10" y2="255.20" stroke="#231f20" stroke-width="1" />
<text x="283.10" y="265.40" font-size="8" text-anchor="middle" fill="#151515" >2</text>
<line x1="300.80" y1="252.20" x2="300.80" y2="255.20" stroke="#231f20" stroke-width="1" />
<text x="300.80" y="265.40" font-size="8" text-anchor="middle" fill="#151515" >4</text>
<line x1="318.50" y1="252.20" x2="318.50" y2="255.20" stroke="#231f20" stroke-width="1" />
<text x="318.50" y="265.40" font-size="8" text-anchor="middle" fill="#151515" >6</text>
<text x="265.40" y="277.70" font-size="9" text-anchor="middle" fill="#151515" >log2 fold change</text>
<text x="0" y="0" font-size="9" text-anchor="middle" fill="#151515" transform="translate(181.30,204.70) rotate(-90)" dominant-baseline="central"  textLength="57.5" lengthAdjust="spacingAndGlyphs">-log10 p-value</text>
<text x="208.20" y="168.50" font-size="7.5" text-anchor="start" fill="#151515" >pGM</text>
<clipPath id="cpGM"><rect x="203.7" y="157.6" width="122.0" height="94.1"/></clipPath><g clip-path="url(#cpGM)">
<path d="M266.8 245.8l2.4-.4-4.2 2.6-1.8-5.8-2.7-10.1 9.7 6.1-4.1 9.4-3.3-3.5-6.5-13.2 9.3 17.6 6.7-6.2-4.6 2.6-.1 1-7.3-3.2-.9-1.3 5.3 6.4 4.2-4.6-4.2 3.8-9.9-11.4 10.7 12.9 6.5-12.1-4.1 6.3 .3-1.2-10.6-11.7 3.3 9.2-5.4-12.6 2.7 0 4.5 11.3 1.5 7.6 2.5-.5 4.8-20.5-13.7-.2 4.4 18.7 5.1 1.8-6.6-3.8 10.3-2.9-27.5-2.3 21.4 12.6 4.5-14.1-1 5.7-7.6-6.4-7.5-6 5.5 9.5 1.2 1.3 4.5 9.2-3-6.8 10.3-15-2.8 5.3-4.7 15.1 8.2-11.8 .6 8.3-12.1-2.1 1.3-2.3 9.1-5.3-4.2 9.9-4.9-5.7 4.2 8.7-3.1-.4 3.9 1.3-8.1-6.8 4.3 3-.9-5.8 1 9.1 6.8-14.2 4.4-.3-12.4 12 7.6 .2-.2-3.5-1.3 .7 16.5-12.7-22.5 11.7 6.8-9.3-2 14.4-7.5 .2 2.9 .3 6.6-3.6-9.4-16.2 7.9 15.4-9.2-1 3.3-4-7.8 1.5 12.8 6.4-8.2-7.4 4.1 11.3-2.9-2.9 3.1-2-6.5-1.2 3.7-16.6 4.8 22.9-13.6-15.2 22.6 8.5-10.6 4.2-1.4-.2 2 1.8 .2-2-2.3-.4-4.2-20.7 9.9 17.5-5.4 3.1-.9-5.2 2.6 5.4 .4 2.5-1.7-10.9 7.9 4.4 3.2 1.8-12.5 .2 8-7.9-1 7.4-2.5 5.9-4.2-19.7 7.1 15.7-6.3-1.4-.2-3 5.1 2.4 .6 .1-.9 1.6-3.1-.8 1.8 5.4 11-4.4-1.6-14.5-13.6 14.2 19.4-17.2-17.5 20.4 2.8 .7-2.7-3.2 2.9 1.6-.4 2-9.9-8 13.1 1.4-5.2 3 9.2-13.1-12.6 6.1 3.9 8.9 .6 1.6-5.7-4.6 7.4 2.3-9.9-16.3 11 16.2 .5-.8-7.4-4.1 6.4 5.2-3.3-.3-3-18.9 4.6 21.6-1.4-1.9 5.4-10.6-1.8 10.3-9.6-5.5 3.7-8.9 3.8 16.5 8-7.1-11.1-4.4 3.6 11.1 1.9-5.7-7.2-19.2 2.8 24.8-.4-6.8 .7 7.1 2.7-3.3 4.4-16.3 3.4 .7-13.4 15.8 3.4 2.5-.9-1.8 4.1-1.7 6.3-10.1-10.2 13.5 6.8-3.4-.7-.6-6 2.1 2.7 1.9 .1-.5-5.5-9.5 6.2 6.5 4.5-11.7-3.3 8.6-15.5 1.4 9.4-6.2-13.7 .1 23.6 .4-12.1-3.6 5.6 15.1-2.6-7.1 2.7 7.1-7.4-12 6 11.6 2-2.2-6.5-8 8.8-5.5-7.2 8.2 6.4 6 .5-7.3-10.8-5.8 10 14.8-4.9-5 2 4.5-1.4-3.7 2.6 3.1 5-1.8-2.4-2.9-3.8 6.2 1.9-2.6 5.2-13.3-7.5 14.9 5.2-16.7-11.7 13 10.7-.1-3.6 4.7 4-3.6-6 1.8 3.1 .3-5.4-13.6-4.2 3.5 5.1-3.5-2.4 .7 10.1 6.5-7.6 .2 .3-7.1 9.8-4.4-5.9 18.9-1.6-2-6.9-2.6 7.1 3.3 2.1-.8-1.7 2-9.2-24.3 1 12 7.1 8.6-.8-3.5 1.6 7.2 5.6-11.8-15.6-.1 10.6 12.8 2.2-7.7-1.7 7.1 1.6-4.6 3.1-14.3-9.1 12.5 4 7 4.9-15.2-7.7 3.6 10.4-1.6-10.6 0 5 6.4-9.3-12.4 11.5-3.6 3.3 11-8.4 10.5 4.1-9.1-1.6 5.5 3.6-16-12.6 9.2 11.7 4.3-7.1 4.3-.2-7.1 0 1.7 3.5 7.9-6-8.1 8.7 3-6.9-12.9 5.9 12.1-10.5-5.3 5.8 3.3 3.9 6.3 1.5-5.8 11.6-9.7-6-2.7-.7 3.8-6.1 15.6-4-6.5 4.6 1.6-15.1-8.8 16.5-4-6.7 14.4 4.1 1.1-5.9-3.3 3.7 4.2-7.5-13.7 27.8 7.8-26-1.6 21.3-12.3-3.2-1.8-15.7 15.9 7 1.6-3.9 5.3 .3-1.8-11.7-15.7 17.2 5.8-3.5 11.5-.8 1-2.2-2.4-10-7.2 11.7 9.6 .7-.5-4.1-10 2.8 8.4 5.9-11-7.1 11.1 13.9-19.3-10.9 19.2 1.9-5.2 16.1-7.2-18.8 14.8 1.7-2.7 1.9-7.2 3.2-7.5-2.3 3.7-8 8.1 2.1 3.8-.8-3.7 .1-1.4 15.6-2.4-12 4.9-5 1.2 1.8-1.5-1.6-2.6 1.7 6-3.4-15 1 8.3 3.6 7.6 5.4-22.7-2.8 20.8-1.8 1.9 2-4.6-7.3-4.3 7.7 7.1 .3-12.5-.2 13.5-.9-3.4-7.9-7.2 5.5 11.6-.6-.5 3.8-7.6-4.6 6.7 3.9-5.3-3.8 1.5-2.7 .5 1.2-6.1 3.3 10.9 6.3-16.8-5 13.2-.7 1.6-1 1.8 2.2-6.6-.8 4.2-2.4 .5-1.8-2.2 7.7-7.4-7.2 8.7 20.6-21.7-12.9 13.1-5.4 11.4 15.8-17.8-21.6 11.2 6.4 6.3-26.2-19.1 22.1 1.4 6.2 14-3.6 1.2 .2 .6 2.5-2.6 0 3.6-.7-.7-13.1-6.8 10.8 8.1 5.1-17.5-7.9 16.4-1.3-7.3 9.7 2.1 2.1 2.2-4-.4 4.4-3.1-7.5 6.3-1.4 .4 5.6-4-11-3.3 9.2 7 .1 1.4 7.7-18-20.6 13.4 8.3-7.4 1.8 11.7 1 .8 .3 .1-2.6-4.6 9.9-6.1-6.3 7.2-4.2-1.4-1.6-11.6 3.1 13.7 8.3-9.6-3.7 6.9-19.8-8.9 6-3.3 22.8 6.9-18.6 5.5 8.5 1.5-5.5-10-.4-.4-9.4 7.5 10.3 .7 6.6-1.3 1.6-.1-.1-6.7 7-4.8-21.7 9.3-7.8-10.5 27.5 11.6 .3-10.3-22.8-7 4.6 2.1 6.3 22.2-1.5-3.9 5.3 1.9 2.3-1.4-4.7 4.9 2.6-9.9-4.1 6.9 .1 .6 9.2-12-6.3 11.9-2.2 .4 .1 .4 5.1-16.5 2.9-.7-3.9 15.4 4.9-7.5-6.3 6.9-1.9 4.1 4.9-13.8-9 5.7 5.8 6.5-6.4-5.6-7.2-8.8 12.8 13.2 1.8 1.1-6.5-.8 15.4-9.7-16.3 11.5-.1-13.2 11.4 8.2-11.4-.2 14.2-3.2-16.8-.8 3-1.9-1.6 1.6-2.6-9 11.3 8.7 .1 3-18.4-16.9 16.4 23.1 .6 .4 4.6-20.8-8.8 10.6 17.1-14.6-9.9 .7-7.7 10.6 6.3 3.2 1.6 3.3-8.7-12.8 4.3 20.8-3-4.7 3.7 2.9 .7-3.8-4.1 2.8 2.3 2.7-2.4-2.3-8.6-11.5 13.2 6.1-3.6 3.2 5.3-14.5-6.9 14.9 4.1 1.8-1.4 2.2 1.1-1.4 1.5 0-5.4-2.1 8.7-9.1-5.7 12.4 12.5-25.4-10.4 19.1-1.4 6.2-4.3-18.6 .1 16.1 14.7-3-14.9-14.2 2.1 17.3-20.7-8.1 28.1-5.9-9.2-.7 .4 3.3 7.5 7.9-7.5-.1 10-.5-37.6-17.7 36.4 20-10.1-9.4 4.8 13.8-7.6-17.6 3.7 5.1-.5-6 4.9 16.9 .2 .7 1.6-4.3-.8 3.3-5-3.3 2.4 5.1-1.8-10.2-1.7-6.8-1.7 7.6 7 7 7.6-8.4-5.7 7-7 0 3.3 3-1-1.2 6.5-2.4-3.7 3.2-5.4-1.2 14-14.1-15.5 3.6 4 11 .5-1.9-3.5-8.1 1.3 5.3-6-14 8.9 19.7 3.8-1.9-8.2-1.6-2.3-7.4-3.4 8.3 15.6-13.7-7.2 15.7 6.1-16.4-6.3 7.8 13.6-7.1-8.4 15.9-9.4-3.1 16.8-4.4-13.9-1.1 3 8-4.1-7.7 2.2 5.3-1.9-2 .9 2.3 6.2-5.1 9.9-2.9-18.1 .8 4.4 10.7 1.9 .5-2.9-2.7-2.2-1.4-2-1.1 3.4-.4 .8 4.1 3.6 1.3-3.8-8.2-.9 6.1 10.3-17.5-23.7 10.6 11.1-4.6 7.4 9.6-5.7-4.6 1.2 4 6.7-14-.6 5-11.8-2.1 8.5 16.3 7.4-4 2.8-19.6-6.7 12.5-9.6 .7 7.4 6.7-3.5-5.2 17-6.8-11.8 6.8-2.6 8.5 .4-.7-4.2-.7 4.8-2 12-9.9-9.1 8.5-11.7 2.3 8.5 2.1-.9 .7-9.2-17.8 3.7 12 7.8 2 10.4-7 .3-2.5-11.7 8.9-2.9-.1-1.7-.4 7.7-.1-14.3-5.1 10.6 8.1-2.6-4.2-.1-.6-.2-.7 .1 .4 7 0-.8 2.1-7.5-.5 3 5.3-1.4-5.4 6.8-2.5-2.6-1.9-2 9 0 .8-20.6-15.9 19.8 15.7 4-9.8-1.8 5-8.6-19.6 9.6 20.8-6 .9 21.6-16.9-14.6 .4-10.3-1.5 10.2 4.9-4.5 14.9 3.1-3.7-.8 2.9-5.8-.9 8.9-14.2-9.9 7.6 4.4 9.4-5.1-8.3 5.6 8.1-8.4-18.7 12.4 6-2.5 12.3-7.1-3.9 8.1 .3-1.8 3.8 4.4-8-3.8 7.4-3.1 0-4.9-13.6 16.4 5.9-9.4 9.1 6.5-18 .5 10.9-7.2 6.6-2.9-1 5-1.4 2.7-21.8 2.7 15.1-17.2 1.9 10.3 6.7 2.9-14.2-3.6 15 2.2-5.2-3.9 2.6 3.1-.1-.8 2.6-5.9-16.3 14.3 6.1-14-11.9 5.4 22.3-2.1-3.3 2.9 1-6.2-11.2 2.1-1.1 3.3 14.4 3.9-8.6-17.9-11.3 17.4 13.9-6.2 3 6.5-6.2-8.6-1.9 1.4 .4 1.1 2.4-5.2-12.9 5.9 17.2 2.5 2.6-2.1-2.1 5.1-5.3-7.5 .1 6.8 3.8-.5-3-.1 2.9-10.7 .7 9.5 2-5.5-11.8 9 9.4-4.7 4.8-6-17.9-.4 3.1 5 12.4-2.7-2.8 6.6 1.4-1.7 1.1 2.6-1.2-23.8-11.7 16.8 1.3 6.5 12.9-5.8-6.6-1.2 5.5 20.9-12.3-19.4 5.8 7.1 7.5 .6-18.6-.4 8.5-2.4 8.3 14.3-20.7-15 17.9 16.1-4.4-13.8 2.5 1 4.3-11.3 1.4 20.8-8.7-14.2 10.7-4.2-2.6-.1-4.8 10.5 3.2-6.7 4.5 5.2-6.6 5.1-2.1-7.9 6.9 .7-.5-2.2 1.5-1.5-.8 1 1.2 1.6-6.4 5.4-9.6 .7-1.5-9 15.2 12.1-16.4-9.3 17.5-.3-2.2-3.8-1.8 10.3-9.5-5.7 8-11.8-11.9 14.9 3.5 .5 .2-8.9 6.1-14.2-4.3 13.8 7.9 6-2.1 .8 5.6-2.3-.1-6.2-23.6-8.6 12.2 8.2-7 4.9 20.6 8.9-13.6-4.7 6.9-9.7-6.9 19.3 2.7-4 3.8-6.4 3.5-3.1 3 3.6-15-6.6 2.6 6.4 7-4.5 3.7 5.1-6.7 10.2-9.4-18.6 14.2 12.6-2.7-15.2-3.4-6.3-12.9-24.2 .2 43.3 17.2-6.9 2.3 2.4 .8 1.1-5.1-4 5.5-6.2-7.7 13.7-.1-2.4 3.7 3.1-6.7-6.4 13.2 1.1-1.3-4.9-4.5 4.4 5.7-2.5-5.4 2 5.6 1.8-6.3-1.3 5.8 .8-.5-17.3-3.8 11.7-18.7-8.4 17.9 15.9 .5-1.9 2.8-8.3-23.8 7.2 25.8-4.7-8.1 2.1 2.4 10.9-15.2-1.2-3.9-9.8 22.5 0-2.1 5.1-6.1-.7 4.2-2.4 5.5 6.5-5.6 6.7-7-17 7.2 4.7 5.9-10.5-6.9 12.9-.6-10-8.3 3.9 9.5 1.7 5.6-5-14.1 16.4 6.1-8.2 8.1-5.9-6.8 14.2-13.6-15.3 18.6 16.2-7.1-21.4-9.6 15.5 4.8-6.3 11.6 2.5 .1 4.6-1.5-1.1-9.3-4.6 14 6.2-5-4.1 1.1-13-20.5 15.6 20-2-6.9-8.3-10.7 1 13.7 2 4.3 18.6-15.9-19.7 17.3-6.5-14.7 25.6-3.4-12 16.4-8.1-.1 17.2-8-8.7-7.1-5.8 14.2 7.8 .5-1.7-16.7-2.5 16.8-.8 2.4-3.5-6.1-1.8-7.7 5.3 15.4-2.3-3-9.6-3.4 3.4 0 .7-2.3-2-1.1 8.2 8.9-2.6-3.2-1.2-12.7 29.2-2.1-21.3 4-6.2 9.1 5.6-.7-22.4-.1 17.8 1.4-2.6-2.6 8.4-5.4-3.8 13.8-1.6-1.3 5.2-12.5-7.4 4.5-.1 .8 .8 2.6 14.7-13.3-10 16.8-10.8-15.6 11.5 13.5-1.5 2.9 4.8-15.4-8.4 5.8 10.9 .1-9.1 8.6-21.8-2.3 29.2-9.2 2.9-.6-7.1 10.6-5.2 .1 1.2-.3-5.1-3 5.7 3.9 3.3 1-2.7 1.8 12.2-12.8-11.2 12.5-12.6-12.3 3.7-12.3 4.1 1.9 5 22.8 .4-.8-5.3-4.7 0-7.8 3.9 13.4 .5 .3 3.6-12.1-6.4 2.4 .1 7.6-5.9-13 8.2 15.2 .6-.1 4.2-11.6-6 10.7 8.7-6.2-3.6-7.5-4.9 11.4-2.6 .4 4.1 2.9 7.8-5.5-13.6-2.3 9.9-16.2-2.6 18.1 .3-1.7-4.7-.3 3.5 6 4.2-2.7-8.5 1.8 3.3 2.9 1.4-3.7-5.1-15.8 9.5 11.4-8.1 3.9 3.2 3.6-5.6-8.8 .4 5.5-7.8-2.2 21.5-11.5-8.3 14.8-6.7-11.7 11.6 4.1 1.7 1.8-12.7 3.3 2.1 1 8-8.7-10.8 5.7 6 7.1-13.2-13 17.6 5-47.7-1.3 41.9 5.9 2.7-.9 1.9-11.4-.5 12.6 5.2-.9-7.8 4.1-4.7-7.3 .1-.4 5.2 5.6 4.5-5-7.4 5.1 3.4-.4 5-8.4 1.2 .5-5.5 4.8-2 5.7-.8-1.4 12.7-3.7-9 .8-2.2 2.1 2.7-4.2-4.7 4.7 2-.6-8.6-17.7 7.8 20-.5-.5-1.4-2.4 2 2.9 9.8-12.5-9.5 12.1-1.6-1.4-4.7-6.2 2.9 3 1.2 1.1 11.1-17.7-11.1 18.9-1.7-10.2 3.7 12.8-7.7-10.2 6.5 8.1 .1 .8-1.1-5.5 3.6 1.8-2.5 4.2 3.9-12.5 12.1 7.8-21.6 1.4 16.6-13.1-11.5 15.8-1.1-7.1 .4 3.7 12.4-10.4-17 13.4 1.8-1.3 5.3 2.6 2.6-8.8-4.5 4.8 4 .5 .8-8.4 1-11.2 11.6 .3-17 20.1-4-20.9 6.9 22.3 11.4-19.3-12.7 20.5-.5 .8 5.8-11.2-3.4 7.4 1.7-.4-6.8-.6 3.2 3.7-7.9-12.7 11 8.1-4.4 3.8 .2 1.3-8.8-15.2 5.5 10.9 10.2-1.1-12.3-2.4-5.1-12.5 2.2-1.5 .7 6.9 21.2 5.7-1.7-15.3-8.9 21.8-2.7 3.1-2.7-13.1 3 13.2 .6-1.3 3.4-5.8-1.2 2.7-1-1.9 2.4 3.8-2.3-3.1 .9-2-21.4-5.3 18.9 12.8-1.3-.3 9.4-19.5-8.7 19.2-2-3.3 .1-4.1-3.6-5.9 12.2 9.5-8.9 0 .8-1.3 5.4-.3-1.8-.6-9.7-12.2 7.9 18.7-11.9-17 13.6 11.3-4.3-2.2-7.6-16.2 1.4 6.9 3.7-5.9 2.2 14.1 10.7-1.8-11.8 2.1 9.7-16.7 3.5 4.9-10.3 18.3 6.4-10.9-4.5 13.2-14-9.5 15.9 4.8-.6-1.7 .4 1.7-3.3 4.1 2.5-2 9.3-19.8-11 22.4 4.6-6.7-8.3-10.5 6.6 10.6-5.7 3.1-.7 .1-4.1-20.2 3.3 15.6 4.3 8.1 1.9-5-4.9-3.1-.8-3.7 12.3 2.3-5 4.1-9.8-11.9 1.1-1.1-1.1 7 3.9 2.6 .1 5.4-2 .3-1.6-.9 8.8 1.8-14.5-19.5 15.2 16.6-1.5 2.9-3.5 .4 3-2.3-5.8-9.2-10.5-6.7 10.3 .5 2.6 18.1-4.9-4.2 9.5-.9-4.2 2.5 5.8-6.4 3.3 1.9-5.2 1.6-3.2 6.1-5-11.8-4.3-8.7 8.2 20.2-22.6-9.4 24 9.9 2.4-5.1-15.1-14.7 8.2 7.8 11.1-1.4-12.2-5.9 .4 13.3-10.3-14.6 17.6 17.9-2.9 .1-1.5-3.8-7.2 .5 13.9-9.9-8.7-3.9-5.4 5.7 7.7 12 4.6-6-4.2 4 16.5-18.7-15.5 22 4.1-2.2-12.8-9.2 12.6-.7-2.9 13.4-15.2-9.8 11.2 1.4 5.6 6 3.1-3.5 1-6.2-4.7 10.8-8.2-4 9.8-6.1-4.5 5.2 6.7-15-3.9 21.1 .4-1-1.2 1-7.7-11.5 1.3 10 6.8 .3 1.3-5.2 1.8-6-.1-5.4 13.9 12.4-19 4.4 6.1-14.4-12.6 4.2-.3 6.4 17.2-3.6-19.3 1.3 12.4 6 1.3-5.2-.1 3.3 17.5-17.1-16.9 15.9 5.5-7.6-13-6.2 .8 6.3 2 11.4-.7-4.2 14.3-10.7-16.4 6.1-2.4 .4 1.1 2.3 3.9 3.7-2.4-6.2-.4-.3 .6-1.6 1 8.9 7.2-4-8.5-11.4 7.1 4.9 7.4-3.8 1.3-.9-13.6 16.6 12-11.5-6.7-4.4-8.2 1.1 7.5 4.5-.8 9.3-9.6-5.3 3.7-1.6 6.6 .5-5.6 7.4 8.5-7.3-10.5-17.7 1 18.6 9.1-10.1 1.8-8.9-7.9 24.8 .9 .8-3.6-12.9 3.6 13 2.2-6 1.4-10.7-10.3-6.8-14.1 14.1 18.6 3.5 4.6-3.1-1.2 7 2.4-13.1 2-4.9-9.5 4.6 5.9 8.4 .3 5.6 2.1-7.9-6 7.5-7.9-13.1 4.8 7.3 11.1-7.3-3.1 6.5-6 3.7 3.5 4.2 1.6-8.4-1.4 7.4 10.2-12-37.1-2.3 22.9 13.9 .7-1.6 10.3-7.8-10 6.4 2 4.6 4.6-6.4-.1-4.2-9.6-4.3 7.8 1.9-13.3-.3-.2-2 9.2 12.3 8.3-5.8 9.5-1.3-17.5 9.1-8.2-7.7 12.5-6.8-2.2 12.4-3.1 1.6 2.7 .5 1.6-1.2-1.8 2.2 2.6-7.9 6-9.9-9.3 18.3 1.9-2.8 0 .5-2.8 .3-2.6-.6 2.9 2.2-1.3-4.5-3.2 1 7 .2-5.8-12.4 3.6 15.9 7.4-5.9-5.8 2.6 2.2-4.1-8.1-6.7 9 11.1-16.3-16.9 16.1 10.8-8 1.1-1 .4 21.3-12.6-19.2 16.3 5.4-2.4-1.1 3.8 19.8-8-16.9-4.8-10.8-9.7 4.4 20.2-1.1-5.9 7.4 5.1-7.8-3.3 8.9-1-5.5 10.1 .3-.3-2.3-7.5-1.3-8.1 3 15-.7-.5 .6 .8-.4-.7 1.6 1-24.1-13.1 19.5 4.5-.9-4.1 3.9 11.7 8.4-17.1-17.9-.3 22.5-4.9-16.1 11.6 7.5 9.2-10.2-7 7.8 6.8-3.8-.4-4.1-16.2 5 13.7-3.3-14.5 6.7 18.2 1.9-5-7.8 4.3-7.4-10.5 13.6 10.7-3 .5 1.2 2.1 .1 .1 3.8-7.7-.8-1.7-2.2 8.9 1-6.4-4-.2 12.6-14.5-.1-2-20.7-.8 15.7 16.1-4.2 4.9 .4 2.4 5.3-9.4 .5-13.8-.8 20.9-10.3-5-.2 .1 .2-3-1.2-.4-3.1-2.5 3 1.6-.9-10.3 11.8 6.8-7 13.2 1.9 1.2 .4-2-3.3-.2 4.1-1.1-1.5 3.7-3.7-12.6 5.5 4.8-2.9 7.9 5.2-12.9-1.5 10.7-8.4-1-1-9 9 1.9-2.1 10.6-11.8-20 30.7 12.9-22.2 5.8-4-3.4 2.3 .1 5.4 2.2-11.1-15.2 13.2 10.6 4.6-15.1-10.8 19 3.1 4-9.1-20.4-1.3 9.3 8 2.4 4.1 7.4-8.5-2.5 12.4-11 8 3.8-20.3-14 6.4 24.7 6.8-16.2-6.4 16-6.8-23.6 10.9 .2 5 10.1-14.1 11.7 3-4 2.1 5.6-8.6-23.6 18-.6-10.6 23.4 6.4-11.7-4.4 11.2 1.8-10.7-5.4 2.3 8.4-2.4-1 7.6-6.5 2.1 7.1-3-13.5 .5 15.6-12.8-3.1 13.3 8.2-13.7-9.9 12-3.2 6.4-2.3-8.2 1.1 7.7 20.7-8.6-14.2 .2-11-3.5 4.7 8.3 7.8-12.6-8.8 8.7 1.2 5.6-2.1-3-2.3 0 1.6 3.1 2.7-.2 .7 1.8-4.8-21.9 6.5 22.7-7.4-14 10.7 3.6-1.2 7.9-21.2-16.4 26 9.4-15.6 4.1 6.1 .7 2.8 3.4-1 .7-.3 .7 6-9.4-3.6 3.6-6.8-18.7-11 .6 9.2 12.5 10.2-9.5 7.5 16-11.7 4.7 .4-.3-5.7-9.8 4.8 8.4 3.5-4.9-6.5-1.2-2.5-3.3 5 10.1 7.8-6.6-9.4-1-2.3-.1 .9 1.9-9.2-9.8 9.5-3.6 7.7 16.6-3.5 3.5-8.4-5.6-3.2-8.7 16.2 5.5-4.9 9.2-3.8-6.9 4.8 4.5-5.1-5.2 3.4 6.4 14.7-16-8.4 3.1-9.1 9.5 3.6 4.3 3.9-5.3-8.3-15.2-3.2-1.3 4.4 8 1.9 12.9 .6-.2 1.7 .5-3.2-1.3 8.5-6.9-4.5 4.1-7.1 .3 1.7-4.4 2.1 4.7 1.4 4.4 3.8-7.1-7.4-.5 .9-1.5 6.5-1.9-7 6.1 3.7 3.9-4.2-17.6-6.7 9.9 14.5-.6 0-12.3-2.6 16.6-.6 2.3-4.4-.7 6.1 1.5-3 1.5 .7-.2 6.1-13.4-8.2 9.1 3 1.1-6.3-19.7 7.5 19-7.3-7.1 6.1 9.8-11.2-5.8 15.4-13.3-3.4 13.8 5.3-17.3 9.2 2.3-18.5 14.9 8.2-6.9 .1 1.6-14.4-2.6 10.2 7.9 1.8-2.1-7.1-5.3 16.7-6.2-15.2 17.8 1.3 2.2 4.9-7.5-.1 3-.4-2.2-1.2-4.3 .6 1.8 .3-4.1-9.9 9.4-.6-1.4 2.7-1.7 8.9-2-5.9 7.2 2 .2 20.2-12.8-19 11.1-9.4-16.2 9.2 14.5-1 3.7-4.4-1.6-4.5-13.5 11.8-1.8-1 16.3-1.5 1-5.8-1.4 4.7 3-6.2-8.1 5.7 7.5 8.2-13.6-5.8 6.3 2.5-7.2 4.9-2.2 .3-6.9-30.5 8.1 23.1 11.8-4.5 3.5 1.3-1.5 9.5-12-12.8-7.6-2.3-.3 3.8 11.8 9.6 4.8-1.1-2.4-8.8-4.2-1-1.8 6.7 11.4-7.4-12.3 10.3-3.9 1.4 13.9-8.1 3.8-1.9-5.3-2.4-10.3 9.8 6.7 6.3-8.3-9.2 15.6-4.6-10.8 6.1 5-6.6 4.2 13.9-12.5-10.1 16.6 5.1-24.1-7.7 15.4 44.1-10.7-45.9-1.8 3.3 19.4 9.1-2.5-10.6 .7-.2-.8-3.1-10.4 2 7.9 4.5 4.6-4.1-3.8 3.6 5.8 5.6-4.6 4.3-2-12.2 3.5 4.6-7.9-2.6 11.4 0 .1-1-2.3-8.5-22.5 8.7 23 4-6.5-2.4 7.1 3.2-7.1 2.9-5.3-8 11.9 3.7-4.9-9.3-16 12 14.9-3.8 2.8 .6 .7-4.5 .4 1.3 1.1-.2 .1 11.2-18.8-14 18.6 4.2 2.6 2.4-3.2-2.4 3.1 1.2-1.2-5-11.5 2 8.2-6.7-10.5-.1 10.2 9.6 2.7 0 1.8-5-8 7.1-3.8 1.2 5.5 2-2.1-11.3 .4-11.3-3.3 17.8 11.3 12.1-7.8-8.4 3.8-5.1 3.9-5.1-9.1 6.9 1.9-9.2 3 5-.3 4.1 3.2-.1-4.4 7.3-10.4-18.5-7.1 5.5 4.3 4.7 17.9-3-6.2-1.7-.9 5.3 4.2 .9 2.5-3.6-1.5-7.8-2.2 7.8 3.7-1.2-2-3.5 1.8 3.3-6.5 7.2 2.3 7.5-11.6-8.1 11.5-6.5 1.6 3.9 2.2-.8 1.8 11-24.9-9.1 22.4 3.2-8.8-3.8 9.8-21.1-20.1 20.4 21.5-1.5 .5 7.9-9.9-8.9 9.6 15.5-17.1-13.7 17.5 1-3.2-1.5 3.8-3.8-6.2 2.2 .9 2.6 4.2 5-13.9-5.5 13.7 6.1-19.8-7.9 20 .9 .5-2.5-.2 5.5-10.1-5.9 .7-2.1-12.2-5-.1 8.9 21.1-2.8-7-1.3-2.8 3.3 5.8 1.8 5.3 7-6.4-8.1 1.1-.9-2.5 3.5 6.1-3.3-1.9 1.6 2.2 3.5-10.7 17.9-6.2-25.6 15.8 .9-11.4 .7-1.2-5.2 5.9 3.8 7 7.1-4.4-3.1 4.8 .3 1.6-.2 0 .6 .3 .6-1.1-2.3-1.9-6.3-15.7 8.9 16.2 1.9-3.9-2.5 5.7-10.2-7.6 17.6-9.1 1.8-.4-15.6 2.4-9.5 .5 10.6 3.7 1.7-4.4 6.9 11.5-6.1-5.9 1 5.8-3.6-4.7 6.4 7.1 5.9-16.3-13.2 7.4 9.4-5.1-1.7 14.3 1.6-14.1-4.2 13.1 1.1 2-2.3-3.3 4.3 1.8 .6-9.9 5.9-14.2-11.2 16.2-4.8-9.2-5.6 8.2 23.4 5.2-14.3-6.4-7.1 .9 11.9 9.4-4.4-3.6 5.6 2.6-7.7-10 13.3 6.2 .9-1.6-9.4 7.1-3.6-10.7 9.6-12.4-2.4 19.6 5-3.7-2.7-1.1-7.2 6.6 3.8-1.7 5.8-8-3.5-7.7 3 1.3-4.5 9-6.1 4.7 5.8 1.4-5.8-5.3 9 2.1-3.7 .9-4.9-7.6 7.1 10.3-2.1 .3-4.7-6.2 3.5 8.3-6.3-6.5 8.8 5.1-3.5 2.2-2.4-7 1.2 6.2 15.8-18.1-15.7 14.6 8.2-15.3-3.5 6.9-4.7 8.5 5.4-16.3-10.2 2.1 5.9 18.3-7.4-4.3 11.2-6.1 .4 5.3-6.2-.6 9.5-9.7-8 14.5 3.2-4.5-5.8-2.4 10.3-11.8-2.7 14.6-7.9-9.1-.1 8.4 8.3-6.5-.3 .8-.9-.5-.2-1.5-11.6 8.4 8.1 4.8 1.7-3.4-5-9.2 7 8 8.1 .6-14.8 1.3 5.9-2.2-4.5 1.3 2.9 3.5-2.7-1.6 3.8-4.5-4.8-1 8.6-15.5-13.2 14.7 3.8 1.3 5.6 .8-3.9-.5 .6 3.8 1.8 2.5-4.2-1.4-.5-4.1-4.8-5.7 1.4-8.7 25.1-3.1-20 20.1 7-10.8-9.2 9.3 .2-12.7-2.6 15.2 4.8-6.6 9.1-6.1-6.3 14.7 .2-1.3 .1 0-1.4 1.4 11.7-16.3-9.6 11.9 1.2 1.9-3.2 1.6 5.2-5.3-8.4-1-2.1-18.2 7.7 19-3 6 8.6-11.7-9.3 6.2 5.7-1.5-2.5 3.3 3.8-2.5-9.7-9.3 21.1 1.9-11.3 6.3 0 1.7-8.2-3.3 2.7 9.4 3.7-16.8-4.9 12.7 4.2-.1-4.3-.4 7.9-3.1-3.7 3.5 0-7.1-3.3 10.5 1.6-.5-4-11.4 2.7 12.4 5.5-11.6-10.9-.9 1.1 7.9 4.3 4.7-9.6-14.5 6.8 7 11.2-11.8-1.3 2.5-4.6 12.5-4.1-.7 3.1 3.3 6.2-9.6-8.8 8.4 .2 2.2 3-5.1-5-8.6 8.1 6.7-4.3 6.6-2.2-1.4 2.7-.2 1.1 1.5-3-.5-2-9.8 5.5 1 1.4 7.3-11.5-12.6 9 14.6-17.5-9.6 17 9.1 .3-.8 5.7-6.1-8.6 6.1-1.7-2.8 10.6-7.7-6.7 12.9 4.2-8-9.6 5.5 7.4-1.7-7.9 2.1 9.1-2.3-1.5-4.6-6.3 7.4 8.7-4.3-1.4-4.4-3.7 10.2-1.4-5.3-3.6-8.6 .6 .8 5.6 12-1.3 .8 8.1-24.9-15.1 15.7 9.1 7.5 1.9-3.3-5.5-.8-3.6-.8 10.1 1.5-5.3 5.4 7.5-11.1-8.4 10.5 6.6-19.5 1.8 5.8 .2 7.5-11.3 1.5 3.5 3.9-1.6 .1 4.8-7.7-6.2 2.8 8.2 .7 7.1-11.3-14.9 1 2 14.5 5.5-3.8 1.1-6.6-8.7 3.4 7.1-.9 3.1-1.5 4.4 1 1.7-11.1-19.7-.9 1.7 4.4-.7-2.3 7.8 15.2 8.6-19.7-10.4 24.8 5.6-15.1 3.2-11.1-11 18.4-2.5 2 .6-1.4 2.4 1.8 12-11.5-6.4 14.4-8.8-13.4 12.4 2.1-6.5 13-1.6-.2 3.9-15.1-.5 12.8-.1-3.7-2.2 6.2 .2-1.3 15.2-16-19.4 2-.2-1.5 6.5 16-5.8-3.9 2.4 5.2-6.1-6.6 8.5 5-2.7-.4 3-4.7 7.2-17.7-8.4 23-4.4-4.7 1.8 3.8 1.2 1.6-4.8-4.2 5.6 4.1-.8 .6-3.5-6.1 3.5 6.2 2.4-.8-6.8-5.9 1.8 4.3-.2-.9-2-21.2 2.2 15.6 .7 6 9.1-1.2-8.5 2.3 7.7-2.4-8.5-5.2 17.9-6.5-20.7-4.8 18.5-1.9-33.1 1.1 13.8 2.4 1.8-3.9 16.1 14.2-16.6-1.3-3.7-14.7 12.8 23.3-3.7 1-2.1-.6-.1 0-2.1-6.8 6.8-5.8 0 8.6-1.3-.5-1.1 4.3-5.1-9.4 .9-5.5 2.5 13.9 6.5-18.3-2.5 15.5-6.8-3.8 4.9 6.2-.5 1.4 3.1-.2 4.2-14.1-7.1 15.3 2.1-2.8-1.1-.1-20.2-9.8 19.1 11.8 3.2-3.3-2.3 .7 7.4-11.9-11.7 11-.2 2.7 15.1-14-10.2 9.7-16.4-1.6 16.8 6.2-8.4-5.4 15.1-8.8-7 14.4-7.5-15.9 6.2 16.4-20.9-18.9 11-2.4 10.1 20.4-2.6-.8-2.5-6 3.2 7.7 .9 1.4-3.6-7.6-2.4-13.5 14.5 6.5-12.4-.8 9.6-1.7 8-8-14.3 24.5 22.7-15.6-21.9 15.7-9.1-7 5.9 6.2 16.9-16.1-34.5-4.3 8.1 6.9 10.7 9.6 7.1-5.4-4.6 8.6 1.8-.3 1.6-2.5-7.4-.7-1.1-8.2 1.8 3.3-8.9-3.3 3.7-12.3 9.7 22.2 1.8-14.9-8.7 .4 2.7 14.9-2.9-4.7 5.6 7-3.1-8.2-1.1 .5 2.4 7-3.2-21.2 .7 6.3 5.8 14-4.1-4-6.9-13.2 6.5 9.3 2.6 10.6 10.1-12.8-19.4-.6 8.6 12.3-.2-1.4 .1 1-2.8-.5 20.4-20.5-14.4 12.8-8-4.5-5.3-10.2 3 4.1 6.8 19.5 2.8-2.7-3.7-3.9 2.9 5-6.3-4.5 12.8-3.8-6.9 9.7 4.8-2.9 4.1 .8-16.6-21.4 5 20.8 7.6-21.8-13.8 11.5 21.2-9.6-8.7 15 16-15.7-39.9 6.6 20.5 17.6-6.8-4.7 8.7-3.1-4.9-.8-3.1-.4 1.6 4.7 2.3-.3 3.1 1.5 1.4-2.1-5.6 2.2 5-.2-5 1.5 7.2-2.2-2 1.7-2.9 2-.4-.9 1.9-2.6-3.1-3-1.1 1.6 6.7-13.5-2.5 18.1 1-7.7-1.3 6.9-6.6-2.2 3.6-3.7 4 5.1 1.9-4.2-1.3-3.1-4.5 2.2 1.1 5.8-4.7-9.6 15.8-3.1-12.8 12 1.1-1.8 3.6-4-5 3.3 9.2-6.9-15.9 3.9 6.9 2.6 3.6 2.6 4.4-2.1-11.2-5.2 4.7 8.7-3.1-9.3-7-2.8 10.3 10.3 14.6-20.8-5.5 9-10 11.8 18.4-14.5-14.6 13.7 1.5-5.2-1.9 4.8 .9 .2-3.6 1.9 3.8-2.2-5.2-2.3 3.7 5.8-4.7-5.3 4.4 4.8 5.3-5.7-4.2 4.6-8.3-3.3 10.9-6-2.4 3.7-5.8-9.2 2.7 15.7 .6 .3 1.6-2.4 8.7-8.9-7 8.6-11.2-4.6 12 2.8-7.4 3.7 4.4 .1 2.4-1.5-3.4 2.9-3.8-12.1 2.1 9 6.1-13.7-6.4 8.2 1.2 8 7.9-14.4-11.5 8.5 5.8 4.2 1-1.5-2.2 4-.8-2.2 2.3 .6 5.3-4.2-12-5.3 3.3 5.5 11.8 1.1-12.6-.4 23.1-18.1-24.3 9.1 2.1 7.4 5.1-7.9-1.5 8.9 2.5-5.5-11.4-4.8 10.9 7.9-4.5 6.6-1-2-32.7-8.9 36 9.3 7-1.5-12.2-6.9 1.6 8.3-2.6-.2 .4-4.8 6.1 6.3-10-8.9 1.4 2.1 8.3 7.2-2.3-.3 3.2-7.9-1.1 6.9-2.5-.8 5.3-10.4-5.2 10.8-5.6-13.2 10 9-8.7 1.9 8.8-.8-2.5 3.6-3.5-1.5 1.1 2.3 1.7 1.5 13-15.4-12.4 13.5 7.2-16.1-6.8 14.7-30.2-13.5 39 6.3-11.5 6.8 4.6-10.1-2.5 13.7-7.7-3.5 2.3-2.4-3.4-2.2 7.3 7.9-3.2-7.5 1.3-4 12.1 1.9-4.7-2.5-10.5-3.4 11.4 11-4.8 4 1.4-5.1-4.2 .2 5.8 4 .6-1.5-10.8-5.7 8.2 4.5 2.6-2.5-11.9-17.6 2.8 15.2 9.5 3.3-10.6-9.6 .1 7.3 11.1-3.5-3.9 10.5-.2-2.1-4.9-14.7 1.2 10.4 2 7.8 .7 .2-13.9-24.2 21.5 8.2-4.3 8.2-9.2-8.3 9.1 10.4-17.1-6.4 13 11.1-.6-1.6 3.2-3.8-10 1.3 4.7-8.6 .9 11.7 8.8-4.7 .9-3-5.9 6.1-4.9 .3 6.4-1-1.4 1.7-4.9-3.5 2.5 3.5 5.4-5.7-1.9 4.6-3.5 1.5-5.3-6.2 9.1 3.4-1.8 2.7 .4-.5-.2 1.4 5.5-18.3-13.6 6.7 10-.8-3.6 13.1-6.1-3.9 12.8-.9-9-.7-4.2-15.2 9 17.4 .8-3.1 3.6-12.9-3.9 16.1-5.6-6.5 .2 9.3-1.2-3 4.2 4.1-17.1-20 20.6 2.3-6.4 6 4.8 9.5-1.1 .7-4.5-9.3-2.7-1.8 24.7-7.5-19.4 17.4-9.5-16.6 9.2 15.5 3.1 1.7-1.4 1.5 2.5-2-5.1-5.5-6.2-1.1 10.4 6.5-1.1 1.7-7.1-3.6 12.2-5.7-12.5-2.9 10.2 0-5.2 10.9 24.5-10.2-20.6 9.5 1.2-2.5-2.4 3.8-9-22.2 2.1 21.7-2.2-5.8 9.6 6.5-.5-2 3.4-1.9-3.1 4.7-.4-2.4-5-4.6 5.7 4-.1 .2 11-1.7-8.4-1.4-10.9-.9 10.3-11.3-7.2 3.4 3.9 15-1.4-2.2-3.6-8.1 6.7 7.7-.7 1.9-4.3-2-7.9-3.8 6.1 0 11 4.3 1.7-15.6-9.4 15.9 4.8-13.7-4.8 15.1-13.5-23 25.4 9.5-9.7 13 1.9-9.5-2.8 10.9-7.6-15.2 11.1 .5 3.6 1.6-9.6 6.5-1.3-.4 7.5-2.5-5 6.2 .6 2.6 4-3.6 3.5-.1-4.7-1.2-1.6 5.2-4.4-5.4 2.9 5.5-.4-4.7-2.3-.8 8.4-4.5-3.2 7.3-6.7-7.6 2.4-2.2 .7 4.3-1.8-3.1-9.1-8.6 16.6 10.1-2.3 7.1 5.9-16.6-7.5 19.4-1.3-2 7.8-10.7-7.6 9.9-12.9-6.3 21.4-.5-4.6 7.3 2.3-12.9-6 11.6-1-.3-.8-.9 9.5-9.1-2.1-7.8-4.3 22-8.2-15.9 4.9 .6-4.6-7.8 7.8 22.9-7-1.9 5.9 .6 1 1.3 2.3-6.1-6 .2-1-4.6 8.2 2.2-4.7 4.2-2.1-6 3.2 9.6-.3 .2 .8 .2 .2 0 2.8-11.7-11.6-.1 7.2 10.5 2.2-1.2-14.9-12.9 16.2 7-.3 6.6-.5 .9 7.1-15.8-9.2 15.3 5.8-5.8-16.5-13.2 7.2 5 8.6 9.5-7.2 1.7 9.5-18 11.2-1.2-16.9 22.1-8.8-14.2 .2-9.6 7.2 24.9-11.3-19.7 10.4 16.5 13.6-10.7-14.8 4.9-1.7 5-.2-3.7 17-12.4-14.4 15.2-1 .3 6.5-5.5-4.2 9.7 4.5-7.9-2.8 6.7-12.2-19.5 13.4 15.3-1.8 5.2-2.9-7.3-.2 5.6 5.4-8-6.7 .9-2.2-2.5-.9-1.5-4.2-2.1 10.3 14.1 14.3-14.6-25.1 10.3 8.7-2.5-13.6-6 15.7 13.7 13.3-13.9-27.5 5.6 11.5-2 13-6.1-12.3 11.3 1.5 5.1 3.1-5.2-4.2-2.8 11.5 1.4-14.2-1.5 1.7 4.2-5.9-1.7 10.4 3.8-2.7 1.4-.7-3.8-4.8-8.6 2.2 3.4 2.9 7.5 2.9 .6 2-11.3-1.1 6.9-2.5 5.3 .1 .1 7.9-9.4-4.8 9.5 2.2-20.3-6.9 16-3.3-9.5 15.3-2.3 2.9-8.7-13.2 25.5-9.9-6.1 16.2-13.1-2.8 18.1-7.7-11.2 6.8 6.9-3.7 1-.4-1.7 6.4 3.3 0-.6 4.7-11.9-11.1 13.6-1.2-11.6 6.5-2.6-8.2 4.5 8.7 6.4-1.9-1.9-4.5-2.6 .7 8.9 3.7-1.8-5.8-17.1 .3 2.2 5.9 8.8-1.6 7.1-5.5-13.4 8.2 12.5-1.3-4.8-2.9 6.1-6-8.8 6.8 10.3 2.5-9.7 3-15.8 .1-.4-7.2 22.2 1.6 3.7 1-2 4.8-11.8-4.8 12.2-6.3-5.4 1.7-2 3.2 8.4 2.6-7-4.1 .7-1.9 5.7 8-4.8-7.3 3.8 9-7.1-8.5 3.7 4.1 3.2-4.7-12.4 3.6 14.4-12.5-24 13.4 20.4-4.1 .1 .1-.7 3.8 3.1-.3-.3-5.1-21.6 5 21.5 6.7-9.3-4.5 7.4-3.8 1.6-1.9-4.2 3.1 6.1-8.6-22.2 13 16.8 8.8-9.9-1.4-7.2-15.9 18.8 .3 .4 12.9-2.5 9.9-8-19.8 13.8 9.6-22.6-6.2 10.1-5.2 4.1 6.4-.3-12.7-3.8 13.6 4-12.8 6.5 10.7-3.3 2.9-5.9-4.5 7.7 3.8-9.4-20.8-8.4 19.9-.8 1.7-1.4-3.2 12.7-3.4 10.1 5.8-4.9-3.6 4.7 1.4-.4-3.7-.6 3.4-2-2.6 4.2-4.2-4.8 4.6 3.7 4.2-3.8-1.9 2.5 .5-4.1-2.4 4.2 4.5-6.6 .7 2.9-10.4-18.8 4.9 24.4 5.4-11-9.1-3 2.2 12.3-.9 .9-1.3-6.4 9.2-18-7 23.3-3.5-6.5 2.6 5 20.6-16.4-19.1 20 2.2-6-13.8-9.1 19.2-10-8.1 23.4-2.8-10.6 3.2 11.1 1 .1 7.8-16.8-5.6 15.7 .5-12.1 5.6-5-7.8 16.9-7.6-15.2 17.2-1.9-6.4 13.6-7.8-3.4 7.6 3.9 20.4-4.4-25.4 7.8 1.7 1.2 21.2-8.7-19.6 2.7-5.9-5.9-3.5 3 11 4.1 9.1-10.5-18.8-.1 9.3 4.9-8.6 2.8-2.3-8.8 4.1 1.9 7.2 6.6-5.8 2.5-1.5-1.5-4.1-8 8.3 14.1-2.5-.1-3.6-8.4 11.3-15.7-4.8 24.5 7.6-6.7-16.6-7-1.3 .4 10.4 12.8-3.4-4.6-1-3.5 11.3 2.2-5.9 4.6 1.1-4.7 2.8 1.6-1.7 1.1-4.1 5 2.9-3.5-6.2 0 2 2.1 3.1-2.8-4.6 1.3-.9 1.3 6.6-4.3-3.4 6.1-2.8-3.5 4.3 2.2 7-8.2-10.4 6.2-7.1-20.4 20.4 15.5-10.3 5.4 .2-.6 1.5 1-1.9 .5 9.3-19.3-20.8 2.6 13.2 15.3 1.3-3.8-10.4-.9 3.6 6.7-6-18.5 4.3 9.3 6.6 4-2.5 5.7 1-.1-4.8-1.7 1.3-3.8 3.8 5.9-5.7-15.5 3 13.6 3.2 .1-12.5-16.1 9.4 12 1.8 6.4 19.5-19-22 18 2.5 .9-2-.3-2.4-2.9 5.6 1.3 2.2-2.2-10-4.8 11.8 2.4-4.9 6.6 1.7-.6-3.1-2.5-6.1-8.4 11.6 2.2-27.1-15.6 23.3 24-.8 .4-2.4-3 1.7 2.1-3.5-17 .1-6.3 17.7 12.1-12.4 11.4 3.2-8.9-29-14.6 28.2 19.5-3.1 5.1-2.6-4.1 1.3 1.3 3.4-5.8 3-4.8-6.1 12.3-.5-2.3-.6-2.8-8.1-6.4 14.8-5-13.1 9.7 11.6-7-7.7-8.3-.6 16.6 3.1 1.9 3.5 3.6-.8 .4-.7 .8-3.7-3.7 18.1-15.3-13 16.7-4.2-2.5-3-10.5 16.7-3.9-14 13.7-4.4-11.5 6.6 14.9-3.8-.9 4 1.6-2-.1 .9-1.7 6.7-1.9-8.2-9.6-3.5 7.8 8.8 5.3-1.2-.7-1.7 .5 1.7 .4-3.8 .7-2.3-10.6 .7 .9 3.2 9-2.8-1 2.5 1.1 3-1.4-2.9 .9 9.2-18.7-5.9 15.5-7.2-5.9 1.1 1.9 8.4-11.2-3.6 19.6-1.4-1.9 4.1-10.4-27.8 2.3 20.1-5.3 5.4 15.2 .6-1.9 10.2-2.9-15.6-11.3 2.3 15.1 1.9 1.4-2.2-3 .4-1.6 9.1-21.1 1.3 8-10.3 16.1 2.5-.1 .3-2.4-3.7-4.3 5.2 6.3 .2-11.3 2.2 8.5-.9 .8-14.1-2.4 10.4 6.4 4.7-5.8 2.8 3.1-12.6-4.9 8.6-14.9-2.3 21.5-6.8-4.1 10-8.8-2.2 1.7-2.1 10.6-2.4-.2-8.4-15.5 8.3 13.3 4.3-2 11.8-4.2-13.3 7.7-3.3-4.1 4.1 4.2-.8-.3-6.1-7.6 5.2 10.6-8.5-19-1.6-6.6-4 6 13.5 18.8-2.7-5.1-.5-.2 4.8 4.7-5.8-12.4-1.3 3.2 11.6-6.1-3.1 16-12.4-9.4 9.9 10.1-5.3-15.1 .7-9.9 3.6 23 1.1 2-2.8-2.2 3.9 1 11.2-7.9-9.5 7.2 5.6-11.4 1.7 4.8-14.7-3.9-1.6-3.3 32.7-9.6-23 14.1-3.8 11.4-8-13.3 7.5 12.5-4.3-10.2 18.2-12.5-12.2 20.8 .5 1-3.1-1.8 .5 1.8 3.2-6.5-2.5 7.6-1.3-1.3-15.8-11.8 16.2 11.7-3.1-12.7 19.6 5.7-17.2 5.6-.4 1-14.7-11.3 21.5 2.4-11.3 .5-4.4-3.8 1.4-4.7 6.3 14.5 6.4 1.5-2.9 3.4-6.2-6.9 6.1 6.7-3.7-7.4-1.6 2.3-14.1-10 20.6 13.4 1.9-11.4-.3 9.2 .8-2.1-5.3 5.1 2.6 .1 3.6-5.1-1-.1 5.1-4.8-8.8 10.6-3.9-12.6 6.1 10.5-1.6 1.7-4.5-14.1 9.3 12.1-6.5 1.8 5.7-12.7-.5 5.1 2.9-10.6-10.4 6 6 7.7-3.3 2.6 2.3 .2-6-5 1.6 5 3.8 2.4 2.1-4.3-13.3-7.2 5.8 6.1 8.5-5.2 1.6-12.3 24.3 11.6-23.5-8.2-4.9 15.9-6.6-1.2-1.5-18.9 11 15.2-14.4-1.1 18.5-9.3-3.4-4.4-5 23.5-2.6-11.4 1.9 10.9 1 .5-12.7-8.5 11.2 4.5 1.2 4-1.6-1.4-3.1-7.5 10.2-4.7-5 12.8 18.6-6.1-19.6 6.6-7.3-8.2 14.3 1.9-10.7 .3-2.5-14.8 9.9 15.4-4.8 4.2-3.2-21.5-3.5 5.4 6.3 14.7 .5-2.2 1.8 5-7.3-8.8 8.3 8.3 4.4-12.7-2.8 3.9-3.1 8.8 14.4-6.3-13.6 6.3 3.2-1.6 1-14.2-19.7 2.8 13.3 7.8-2.5 3.4 9.2-1.2 .3-3.9 2.2-6.5-11.7 6 .9 3.1 12.1-14.7-6.9 13.2-.6 4.9 8.2-7.5-5.6-4.7 1.5 9.5-14.4-16.6 3.9 16.6-2.5-9.3 8 13.1 1.6-6.2-7.4 .9 13.1-7.7-2.3-6 0 9.4-5.9 9.6 2.7-6.2-1 4.3-6.9-3.9-3-14.3 6.8 16.8 5.9-13.9-4.8 16.6-2.8-4.6 6.3 .5-5 .6 1.9 4.1 9-8.6-17.2-1.8 4-4.2 6 12.3-4.4-10.5-1 4.1 4.6 8.6 15.9-22-20.5 8.2 13.6-4.2-9.1 17.2-.7 1-1.4-5-1.3 0 6.2-3.3-15.6 1.5 5.9-2.1 5.2 5.6 2.2 2.6-4.1-12.7 7.5-3-.8 .9 4.3-.9-4.5 13-8.7-8.1 7.4 4.1-1.8 7.1-5.6-12.7-6.9 9.2 21.9-14.1-11.7 16.7-5.6-11.4 .9-2.5 19.3 6.8-17.5 1.3 7.6-4.1-21.2-2.2 11.7-8.2 9.3 18.2 4.1-15-5.4 16.8-3-1 4.6-1.1 5.8-16.1-12.9-4 1 9-1.1 2.8 5 10.6 2.7-7.3-3.7 8.5-1.1-.7-14.2-24.5 16.8 22.5-4.7-7 3.8 9.8 .1-.2 .6-1.9 2.3-4.2-.1-7.5-2.8 13.7-2.2-6.5 .5 3.8-12.9-14.3 20.4 10.8-8.2 0 17.2-15.4-24.8 .9 3.2 5.4 10.4 9-7.4-6.3 3.9 12.6 14.7-5.2-18.1 2.4-1.7-10.9-3.9-.2 5.3-.9 2.2 14.4-1.5-5.5-11.6-12.8 16.4 12.3 7.3-11.9-8.3 16.7 5.4-6.5-18.1-7.8 17 7.1-4.8 8 6.5-3.4-5.4-1.6-7.9-6.6 10.5 3.6-9 2.5-1.4-4.2 6.9 9.5 6.5-4.2-10.2 3.6-.9-8 6.9 .3-6.9 1.4 8.7-3.3-5.8 11.1-.6-3.9 10.7-9.4-7.1 5.5-7.1 1 5.9 5.7 .8-.8 1.1-3.1-11-13.3-4.6-6.2 15.8 12.3-3.2 12.6 9.8-12.8-14.8 6.1 2 3.8-.5-8.9-2.2-4.1 2.3 11.8 4 3.9-3.9-5.9-4.5-9 11.6 9.3 5.3 .1-12.3 .4-3.2-7.5 5.3 10.6 1.4 2.1 .5-1.5 4.2-6.9-5.2 8.2 3.4-6.6 7.6-7.8-9.6 13.1-2.2-.7 3.7-5.1-5.2-1.6 9.8 2.8-10.8-3.1-.9 5.2 5.6 2.2 1.6-5 1.4-6.8-6 7.1 7.9 2.2 9.7-15-12.8 11.4 4.4-2.7-10.3-2.1-13.7-8.7 19.3 13.1-.9 7-9.3-23-2.5 15.5 5.2-7.7 10.2-3.9-8.5 18-4.3-9.1 .9-3 16.3 7.1-11.1 5.9 2.1-.1 3.3 .5 4-4.6-8.1 5.9 6.8-4.9-4.1 2 2.9-5.5-2.1 1.5 3.8-3.4-21.9-5.9 14.7 16.3 4-2.6-3.2 .3 1.5 .2-8.2-11 6.7 11.1-9.9-19.9" fill="none" stroke="none" marker-start="url(#mr)" marker-mid="url(#mr)" marker-end="url(#mr)"/>
<path d="M299.1 227.6l-15.9 15.1-37-8.6 45.7-9.6-13.7 12.1-25.9-7.9-.6 .1 34.5 12.3-8.9-3.2-29.3-3.9 31.4 3.8-28.1 2.2 28 2.3 2-5.4-39.5-9.1 36.8 4.7-26.4 2.6 25.2 3.8 14.2-13.1-.8 16.1-47.6-16.4 62.6 4.3-75-1.1 17.1 13.5 3.1-.9 31.8-2.7-32.5 5.5 35.8-14.9-32.2-4.1 23.4 16.3 12.7-7-42.1 7.8 40.7-4.1-46.6-10.5 45.3 8.2-5.7 .9-38-8.2 6.7 12.2 2.2-6.6 1 3.4 .3-1.3 46.1-3.6-47.2 9.8 28.8-9.4 3.2-2.5 0-4.2-3 15.6-38.2 3.1 2.4-14.7 5 8.7 41.3-2.8-4.3-3.7-38.1-.4 53.7 12.8-59.5-6 38.3-3.9-2.1-5.4-36 5.8 46.4 .7-13.2-5.8 4.8 10.6-29.7-4.8-23.1-.5 22.2 .6 38-5-52.2 9 14.9-6.7-8.4 8.1 34.7-.6-1.1-1.6 20-6.9 4.3 9.1-61-3.4 38-13.7-41.9 20.4 6-19.5 5.9 6.6 28.3 7.2-34.9-7.7 40.3 7.1-32.7 4.8 1.4-.4 27.9-18.2-27.3 14.3-2.4-9.2 1.1 9.9 30.7-3.3-27.7-.3-.8-11.8-7.3 18.8" fill="none" stroke="none" marker-start="url(#mh)" marker-mid="url(#mh)" marker-end="url(#mh)"/>
<line x1="256.55" y1="158.30" x2="256.55" y2="251.20" stroke="#4a4a4a" stroke-width="0.85" stroke-dasharray="1.8,1.8" stroke-dashoffset="-0.6"/>
<line x1="274.25" y1="158.30" x2="274.25" y2="251.20" stroke="#4a4a4a" stroke-width="0.85" stroke-dasharray="1.8,1.8" stroke-dashoffset="-0.6"/>
<path d="M247 201.2l3.7-8 12 28.8-1.9 .3-16.3-44.8 15.6 38 1.8-7.9-6.4 4.9 3.4-5.9 2.7 14.5-.1 .7 .3-4.7-7.9-4.2 8.3 6.7-4.8 1.8 .1-6.3-3.8-8.5 4-18.6-3.2 33.8 7.6-20-.5 1.3-26.5-10.5 24.3 18.3-8.3 5.6 10.3 5.6-1.6-1.1 .2 1.5-3.4-1.9 4.1 .1-7.9-9.1-14.1 10.3 21.9-10.6 2.1 7.6-11.4-38.2 9.3 38-3.8-8.1 5.7 .7-6 8.6 5.3-4.2 .8 .9-1.9-.4-10.3 5.9 5-8.5 2.7 7.3 4.3 1.5-2.7-2 2.4-1.8-19 .9 17.2-20.4 1.6 18.1-8.2-16.5 5.7 18.5-3.6-10.6 2.1 9.1 4.8 1.8-50.4-46.7 31.9-4.5-12.4 50.6 5.3-25.3" fill="none" stroke="none" marker-start="url(#mg)" marker-mid="url(#mg)" marker-end="url(#mg)"/>
<path d="M271.8 217.7l4.4-6.1 21-4.2-18.6 3.4-9.7 8.7 3.5 2 8.4-9.2 0 1.4-1.2-7.2-2.3 5.1 24-72-26.4 82.5 .5-77.5-3.3 71.9 6-3.6-7.2 4.3-.2 4.4 3.5-6.7 12.6-7.5-8.1-1.8-7.9 15.7 2.2-7.2 6.4-29-2.3 35.2-2.8-4 2.6 2.6 1.2 3.5-6.4-7.4 1.4-9.8 3.9 14.6-3 .6-2-2.1 16.9-3.5-13.3 3.4 .3-.7 .4 4-2.7-5.2 1.4 4.1-5.7-5.4 21.9-36.3-7.4 38.1 .6 5.5 3.2-1.6-13.2-3 5.8-61-10.3 62.3 8.4 1.3-4.1-8.7 1.6-3.2 3.6 13.9-5.1-.4 .8-4.9 4.8-12.3-8.9 3.6 15-24-14.2 35.5 3.7 .6 1 2 6.7-23.8-.2 16.6-13.7 2.7 .8-3.5 12.5-2.2 8.7-33.7-18.1 38 .8 5.5 18.1-30-6.9 19.7-13.1-4.6-1.2 4.9 2.5-11.1 8.6-6.4-9 18.5 11.7 4.8-11.2-2.6-3.1-1.4 8.6 1.5-10.3 5.1 11.5 .6-10.1-42.8 10.6 35.6-12.4 8.7 9.6-4.2-3.8-9.6-3.5-2.6-.2 8.4 3.8 2 5.7-1.4 22-31.8-29.3 35.1 3.9-15.6 13.8-3.5 .3 0-15.2 10.2-4.9-5.7 15.5-5.7-13.4 21.5 12.8-32.6-17.2 22.9 1.3 11.9 2.4-51.5 2.5 46-.4-.5-4-4.1 .1-19.2 0 8.5 1.6 10.8 2.3 3.6 10-25.8-11.4 26.3 4.9-13.3-5.3 12.2-.7-34.4-2.3 25.7 3.5 2.2 11 10.7 8.5-2.9-13.6-25 39.9-31-21.2 4.5 14.1 16.3" fill="none" stroke="none" marker-start="url(#md)" marker-mid="url(#md)" marker-end="url(#md)"/>
</g>
<text x="279.50" y="173.00" font-size="7.3" text-anchor="start" fill="#3F4490"  textLength="26" lengthAdjust="spacingAndGlyphs">MLL-ENL</text>
<line x1="311" y1="170.6" x2="315.00" y2="170.60" stroke="#2E3192" stroke-width="0.9"/>
<path d="M318.20 170.60L315.00 172.10L315.00 169.10z" fill="#2E3192"/>
<circle cx="321.60" cy="171.10" r="1.4" fill="#1F2A6B"/>
<rect x="368.30" y="157.10" width="123.30" height="95.10" fill="none" stroke="#3a3a3a" stroke-width="1.25" stroke-linejoin="round"/>
<line x1="365.30" y1="248.80" x2="368.30" y2="248.80" stroke="#231f20" stroke-width="1" />
<text x="363.70" y="251.90" font-size="8.6" text-anchor="end" fill="#151515"  textLength="3.85" lengthAdjust="spacingAndGlyphs">0</text>
<line x1="365.30" y1="236.08" x2="368.30" y2="236.08" stroke="#231f20" stroke-width="1" />
<text x="363.70" y="239.18" font-size="8.6" text-anchor="end" fill="#151515"  textLength="3.85" lengthAdjust="spacingAndGlyphs">2</text>
<line x1="365.30" y1="223.36" x2="368.30" y2="223.36" stroke="#231f20" stroke-width="1" />
<text x="363.70" y="226.46" font-size="8.6" text-anchor="end" fill="#151515"  textLength="3.85" lengthAdjust="spacingAndGlyphs">4</text>
<line x1="365.30" y1="210.64" x2="368.30" y2="210.64" stroke="#231f20" stroke-width="1" />
<text x="363.70" y="213.74" font-size="8.6" text-anchor="end" fill="#151515"  textLength="3.85" lengthAdjust="spacingAndGlyphs">6</text>
<line x1="365.30" y1="197.92" x2="368.30" y2="197.92" stroke="#231f20" stroke-width="1" />
<text x="363.70" y="201.02" font-size="8.6" text-anchor="end" fill="#151515"  textLength="3.85" lengthAdjust="spacingAndGlyphs">8</text>
<line x1="365.30" y1="185.20" x2="368.30" y2="185.20" stroke="#231f20" stroke-width="1" />
<text x="363.70" y="188.30" font-size="8.6" text-anchor="end" fill="#151515"  textLength="7.7" lengthAdjust="spacingAndGlyphs">10</text>
<line x1="365.30" y1="172.48" x2="368.30" y2="172.48" stroke="#231f20" stroke-width="1" />
<text x="363.70" y="175.58" font-size="8.6" text-anchor="end" fill="#151515"  textLength="7.7" lengthAdjust="spacingAndGlyphs">12</text>
<line x1="365.30" y1="159.76" x2="368.30" y2="159.76" stroke="#231f20" stroke-width="1" />
<text x="363.70" y="162.86" font-size="8.6" text-anchor="end" fill="#151515"  textLength="7.7" lengthAdjust="spacingAndGlyphs">14</text>
<line x1="371.60" y1="252.20" x2="371.60" y2="255.20" stroke="#231f20" stroke-width="1" />
<text x="371.60" y="265.40" font-size="8" text-anchor="middle" fill="#151515" >-6</text>
<line x1="391.10" y1="252.20" x2="391.10" y2="255.20" stroke="#231f20" stroke-width="1" />
<text x="391.10" y="265.40" font-size="8" text-anchor="middle" fill="#151515" >-4</text>
<line x1="410.60" y1="252.20" x2="410.60" y2="255.20" stroke="#231f20" stroke-width="1" />
<text x="410.60" y="265.40" font-size="8" text-anchor="middle" fill="#151515" >-2</text>
<line x1="430.10" y1="252.20" x2="430.10" y2="255.20" stroke="#231f20" stroke-width="1" />
<text x="430.10" y="265.40" font-size="8" text-anchor="middle" fill="#151515" >0</text>
<line x1="449.60" y1="252.20" x2="449.60" y2="255.20" stroke="#231f20" stroke-width="1" />
<text x="449.60" y="265.40" font-size="8" text-anchor="middle" fill="#151515" >2</text>
<line x1="469.10" y1="252.20" x2="469.10" y2="255.20" stroke="#231f20" stroke-width="1" />
<text x="469.10" y="265.40" font-size="8" text-anchor="middle" fill="#151515" >4</text>
<line x1="488.60" y1="252.20" x2="488.60" y2="255.20" stroke="#231f20" stroke-width="1" />
<text x="488.60" y="265.40" font-size="8" text-anchor="middle" fill="#151515" >6</text>
<text x="430.10" y="277.70" font-size="9" text-anchor="middle" fill="#151515" >log2 fold change</text>
<text x="0" y="0" font-size="9" text-anchor="middle" fill="#151515" transform="translate(346.30,204.70) rotate(-90)" dominant-baseline="central"  textLength="57.5" lengthAdjust="spacingAndGlyphs">-log10 p-value</text>
<text x="373.30" y="168.50" font-size="7.5" text-anchor="start" fill="#151515" >GMP</text>
<clipPath id="cGMP"><rect x="368.8" y="157.6" width="122.30000000000001" height="94.1"/></clipPath><g clip-path="url(#cGMP)">
<path d="M424.8 245.7l5.9 2-4.4-2.6 11.5-6.6-4.4 1.1-.3 3.6 3-5.6-5 9.3-4-6.2-6.6-4.9 .9 6.3-15.7-6.9 23.4 12.8 5.1-8.3 9.6-6.3-13.1 14.5 6.6-5-8.2 4.7 4.1-.9-5.4-3.4 2.7 4.9-3.1-.8-5.2-7.7 4.2 2.8 5 3.8-9.3-6.9 3.2 .6 17.5-.5-21.6-.1 19.8 3.1-7.6-.7-9.3 .7 3.9 2.8 3.8 0 6.1 .7-4.6-.3-10.5-2.6 9.6 .4-1.8 4.4 3.1-4.4-6.6-2.9 6.3-1.1 3.1 6.3-.3-1-6.9 3.3 3-1.3-4.4-.9 2.8 2.6 1.4-1.4 1.9-2.8-7.8-5.1 .1 1.2-6.2-5 17.4 9.8-16.6-11 14.5-.9 10.5 1.5-14.7 12.7 2.3-8.4-3.9 8.9 3.5-4.3-1.5 3.2 3.6-10.3-9.5 8 3.8 3.6-4-1 11.1-7.5-11.1 5.2-2-6 2 .8 2.1 2.9-.4 1.3 5.1-.1-1.7 4.4-4.7-3.6-13.5-7.6 27.2 7.9-6.4 2.7 .9-8-5.8 6.8-6.3-4.2 15-5.6-9.5 5.6 6.3 2.8 2.7-5.5-5.1 8.4-4.2-6.9 5.9-.3 2.3 3.9-1.6 .3-6.5 .5 0-1.9-7.1-.4 6.4-3.9 12.9 2.1-10.3 6-6.4-3 6.7 3.8 1.7-1.4 1.5 .3-7.2-7.2-.3 3.3 7.4 3.9-5.7-5.1 10.1-2.6-5.8 8.7 .3-1.3-9.7-12.7 4.7 8.7 4.8 3.8-8.9-8.8 14.6 4.9-19.4-7.7 12.3 13.7 15.6-10.4-15.2 10.4 1.4-.4 6.5-7.2-4.9-1 1.3 5.3-3.7 3-4.9-5.6-11.7-7.5 18.7 5.9-9.3 .8 8 4.9-6.3-9.5 3.7 10 3.6-4.9-2.8 6.2 1.1-1.4 3.4-4.6-3.1 3.9-.4 1.8 .4-1.3 .2-1.1 4.4-3.4 4-1-3.7 .8-3.9 3.9 5.6-2-2.4-6.1 4.2 .9-12 6.7 12.2-7.2-7.4 6.4-5.8 1.6 .3-2.1 7-6.5-.7 8.8-1.8-.7-11.4-6.6 12.7 7.7 5.6-4.9-7.7 6-.8 .4 1.8-1.1 2.8-6.4-2.4 6.9 2.5-5.4-1.2-3.2 5.6 2.5-11.4 .8 .3 3.6 3.3 .8-4.7-8.9-1.6 6.8 8.3-4.6-2.8 8.2 .9-1.9-.4 2-.8 0 20-11.2-25.2 7.8 11.9-2.9-8.5 2.7 3.7 3 3.3-7.1-7 3.9-6.9-2.9 11.8 3.9-12.7-9.9 13.8 6.2-1.7 2.3-5.9-5.3 9.9-.1 3.6-4.7-6.1 11.3-8.2 .7 10.6-7.1-4 5 2.9-.3-2.8-1.3-3.6 4.7-9.7-9.5 5.6 6.1 2.6-1.8 8.7-2.4-6.7 7.9 1.4-.3 5-10.2-2.9 6 5.7 3-7.4 1.9 3.7-2.7-9.9-.1 3.4 2.3 8.2-5 .1-5.2-12.1 7.2 12-6.8-12.9-.4 3.2 8.6 5.1-.8 4.4-8.5 .6-.6-13.2 .8 8.9 11-9.1-8.9 5.4 8.3-6.8-6.2-.3 1.9 20-4.8-19.1-1 4.3 8.7-24.7-11.5 35.5 10-5.5 3.2 6.9-2.9-8.8 3.6 1.6-2.4 6.4-11.4-12.1 8.1 2.8 5.3-4.5-7.1-.8 4.3-7.4-10.1 27.1 1.7-16.3 9.6-.9 .8-1.6-9 1.9 6.1 .1-4.4 7.6 2.4-6.8 5.2-4.4-2.7 2.5 .3 4.5 3.6-1.8-1.1-.4-2.5-.3 1 2.8 2.4 .6-1.7-4.3-4.4 1.1 4 12.4-2.1-10.5 4.5-3.2-6.7 4.3 6.3-11.5-5.9 12.8 4 1.4-6.5-1.3 7-5.7-4.9 5.8 4.4-6.7-2.9 6.6 0-4.4 2.2-6-9 3.2 3.3 2.8 5.9 .7 0 5.2-4.4-5.8 4.5-4.8-10.1 11.8 10.4-4.1 1 2.6-5.2-5.1 3.3 3.1 2.5-1 .5 6.7-7.7 .7-1.9 .7-2.2-10.9 8.7-7-.4 9.5 3.8 5.5-9 10.4-.6-22.6 4.5 .3-8.2-1.1 .6 8.1 12.3-2.6-3.4-3.2-7.8-14.2 4.9 16.8 5 3.3 1.1-7.3-8.1 3.4 3-5.3-3.7 16.5-3.6 .6-1.1-5.3 9.1-10.1 2.2 9.3-.4-.2 0-.2 1.3-6.4-5.7 2.3 6.3 .3-1.7 .7 1.9-3.1-3.7 5.4 2.8 1.2-4.9 .5-2.1-12.1-.3 8.3 8.8 2.9-3.7 2.7-.5 .7 .1-3.1 2-1-.5 1.6-5.8-8.6 2.4-2.5 .6 5.5 .1-5.2-.3 6.8 4.9 2.9-3.3-3.6 3.1-4.4-1.3-2.8-4.1 5.8 3.7 2.6 2.8-5.1-10.4 18 2.7-8-.4-8.3 4.5 18.1-12.1-17 14.4-.8 .9 3.4 .8-4.5-11.7-.6-1.2-5.5-1.9 11.6 13.6-4.9-.9-9.2-3.5 22.6 .5-11.4 .9-.6-.3 9.8 2.5-18.3-5.9 6.9 2.2-.6-.2 7.7-2.2-6.9-.7 11.7-.5 1.2-2.7-6 4.7 3.1-.1-.5 3.7-8.6-3.7 9.7 4.1-8.6-.4 6.7-11.9-12.6-.9 12.2 10-1.9 5.8-9.3-8.5 5.5 8.5-14.7-11.2 16.6 11.5 4.5-4.8-7.7 .7 4.3 2.3-5.8-6.4 6.7 4.9 .4 .2-1.7 1 1.3 0-3.4 1.9 4.1-2.1-9.4-5.8 6.4 8.1 3.8-1.3-4.7 .7 15.3-14.1-12 13.2-6.4 .1 2.7-.1-5.3-11.1 1 3.7 5.6 8.9-7-14.1 6.1 14.4 4.3-1.4 5.7-8.7-12.4 2.8 8.2-2.3-13.3 .2 .1 6 10.4 2.1-4.1-2.2 6.1-4.8-8.3 3.7 6 2.9-3.9-1.3 5.1-.6-2.2 2.6-1.6 .8 .6 .1 5-10-8.8 .3 5.8 6-4 .6 6-1.6-5.5 2.1 .8 1.7 2.7-2-2 2.9-2.5-2.3 6.3-4-6.6 2.6-2.3-3.5 5.6 7 6.2-8.7-5.9 7.5 .1-.1 3.5-3.4-2.1-.8-19.1-7 18.9 10.7-4.2 .1 6-10.3-3.3 11.4-5.1-2-.4-5.3 7.6 1-1.1 6.2 1.4-1.3 7.2-4.4-7.3 1.2-4.2 4.1 10-13.2 10.2 8.9-27.2-3.6 23.3 1.2-14.5 8 1.3-.1-5.2-3 12.4-3.2-14.2 2.6-2.4-5.7 5.4 4.9 5.1-1.1 8 4.1-9-.5 6.6-10.9-9.6 11.2-2.9-5.3 7 2.9 9.4-1.3-16.6 .3 .9-1.1 1 1.9-1.5-5.3 .5 6.3 .9-2.1 1.6 5.1 .3 .2 13.8-5.9-10.8 2.7-14.7-7.9 8.8 7.7 10-7.2-11 7.3-20.9-11.6 26.9 11.5-2.9 2.1 2 1.5-5.5-14.8 1.3 5.1 1.8 7.6 6-4.2-6.5 1.7-2.7-5.6-.6-1.8 4.1 9.6 8.1-3.1-2.3 2.4-2.9 0-3.8-1.7 21-4.8-10.2 1.8-.6-3.1-10.2 7.9 5 .2 .6 0 .6-4.7-7.2 4.1 5.2 .6-4.8 2 5.9-5-3 5.9-.2-.2-2.2-4.1 4.7-1.4-2.6 5.5 8.5-2-4.6-6.4-12.3-2.2 8 10.7-6.8-10.9 4.4 8-1.1-7-5 3.9 12.6 .8 3.2-2.2-17.6-6 8.6 12.1 1.3-.4-3.2-1.6-5.6-12.5-4.7 .4 13.5 14.7 4.6-5.1-3.5 5.8-9.8-5.4 8.7 3.6-4.3-4.4-2.4 3.7 4.7-3.7 8.6-9.4-1.2 11.2-9.8-1.1-.7 3.3 15-1.8-11.2 .2 4.6 1.6 1.5-9.5-3 10.8-6.7-8.9 4.2 8.9 5.3-7.5-6 4.9-4.5-3.6 4.5 5.6 8.1-13.2-1.1 3-3.6 10.7-2.2-1.2 1.8 1.5 1.3-1.1-12.9-8.5 13 6-8.4 1.9-6-3.7 8.1 3.2-8 0 8.4-4.3 8.5 3.5-5.8 3.5-4.7-14.8 6.3 14.5 .4-.8-3.1-2.4-1.5-7.7-12.4 4.5 12 4.2-.6-1.6 22.6-9.3-14.3 9.8-4.4 2.6 3 0-2.9 .1-6.9-13.2 11.4 9.9 4-6.9-9.3 10 3.5-.6-3.4-.9-3.7-2.8 8.1 3.5-17.5-6.6 37-3-28.2 3 6.1 8.7-4-3 5.1 2.5-5-4.9-19.3-4.8 27.2-3.8 2.2-.4-8.7 9.5 2.3 4.9-6.7-5.5 50-5.6-42.5 9.8 9.2-15.1-12.7 10.3 3.7 5.2-2.7-.4 .6 .7-7.8-6 9.5 5.5-4.9-3.2 .6 1.7 .3-1.6 8.7 0 1.7-11.5-3.4 9.7-2.1 4.6 1.4-2.9-9.8-10.4-8.1 3.3 14.2 10.3-8.2-4.6 .9 .4 5.1 3.7 2.8 1.5 1.3-1-20-12.8 9.4 1.4 7.2 8-2.1-9.3-.9 2.8 2.2 3.1 5.5 1.9 .2 4.2 1-9.1-3.4 10.5-3-5.3 7-1.9-.7-.3 .5-5-9.4 3.4 20.4 .2-11.3-2.3 5.1-3.9-18.5 6.5 8 5.9-7-5.1 6.6 5.9 8.8-1.6-9.8 1.4 1.6 1.1 .4 .9 2.2 0 1.3-1.3-1.6 .8 .2 .6 0-1.2-5.9-1.6-.6-3 10.2 1.5-2 1.3-.6 .1 1.7 .4-1.2-.5-10.7-4.5 13.6 1.6-4.5 4.8 .1-.1-1 1.6 1.9-4.7-1.5 4.4-5-5.6 4.6 5.7-1.6-2.4-5.7-10.1 3.5 9.5 4.6 1.7-2-.1 1.7 .5-3.5-3.9 7.6-8 7.8 6.9-28.1-7 18 9.9-.1 1.4-9.7-5.8 9.6 4.6-7.6-8.4-1.5-3.1 2.6 1.1 6.2 10.9-2 2.6-2.8-7.2-2.8 1.4 1.1-9.7 9.7 8.9-13.2 .1 15.2-3.8-9.7 6.3 9.6-6.5-1.8 7.2-5.4 3.3 2.2-2.9-3.6-.1-3.7-2.8 7.2 4.4 4.3-3.9-4.3 2.6 2.1-.6-5.9-.6 2.3 3-2.1-2-.6-1.1 12.6-5.6-13.6 8.1-9.5-11.2 16.8-.7-1 5.1 .6-1.4-8.4 3.5 7.4 4.2-6-1.9 10.6-1.2-3.4 3.2 3.2-11.7-4.7 10.5-1 2.2-14-11.4 10.3 6.7 5.5-3.4-2.9 8.8-2.3-2.4-6.1 .3-7.9-5.1 19.6 1.8-1.7 3.5-21.2-9.7 19.8 11.3-13.8-5.3 14.9 4.8-14.8-7.2 15.8 1.9-13.3-8.2 11.4 13.4 4.2-6.4-5.3 7.4 3.2-3.9-1.4 1.1 3.5-.2-11.3-2.6 21.1-5.5-16.9 9.8 2.8 .4 3.8-.9-16.3-8.8 2.7 1 9.8 9 7.1-1.8-18.1-9.6 24.2 2.3-7.6 5.3-13.8-10.9 6.4 14 5.8-10.6-2.3 9 6.3-5.6-3.8-3.2-3.6 10.9-3.2-.9-3.2-1.1 11.2-.5-2.6-6.3-11.7 2.5 5.2 1.4 4.8 3.1-1.5 2.5-3.7-8 4.1 7.3 .2-.2-3.5-3.9-.6 3.4-7.5-6 11.8 6.9-3-3.6 5.9-1.9 8.6-5.1-7.3 3.2 8.9 5.2-6-4.6-5.2-.2-12.6-6.7 10.4 14.1 0-.4 1-.2-5.6-11.4 7 3.9 .8 .9-2.8 6.1-7.3-1.6 3.7-1.6-2.1 .2 2.8 1 6.7-1-.3-11.6-5.5 15.4-.7-.7 8-7.3-2.9 1.9-3.4 6.6 6.3-11.1-5.2 9.7 1.8-1.4 1.5-12.4-18.2 5.6 13.9 9.5-4.7-3.1 9-.3-10.3-6.5 11 5.6-7.8 .9-3.3-6.7 5.5 10 2.2-1.4 6.8-8.6 5.2 4.3-10.4 4.5-2.6 .2 2.1-1.6 3.2-7.5 1.7 2.3-16.2 4.4 12.8-4.3-2.2 3.2-.1 .1-3.8 1.1 4.2 2.1-7.1-14.3-.1-.6 14.1 .2-21.6 6.2 18.2 1.5-7.5 7.7-2.4-3.3 1.3-1.8 7.8-.2-14.7-7.4 7.8 11.9 4.8-5.5-8.3 2.7 8.3-4-2.9 8.3 16.6-5.5-18.7 1.5 16.5-7.8-16 9.9 4.4-.1-2.6 2 3.2-3.2-4 2.8 7.2-1.7-8.2 1.1 5.3-10.8-10.3 3.4 8 5.3-3.1 1.8-5.4-7.2-3.6-7.1 5 12 11.5-2.7-15-4.5 6.2 6.7-1.8-1 .4-8.6-.1-.6-1.3 1.2 2.5 4.6-2.5 2.8 6.8 3.5 9.7-7.5-12 7.7-2.9-6.1 6.6 1.8 2.6 4 .4-2.6-1 1-16.1-3.5-2-8.1 12.4 13.9 4.8-4.6-25-8.9 6.2 6.5 10.5 5.3 1.4-2 9.9 3.1-8.4-.3 6.5-.9 3.4-11.9-1.6 5.8-8.6 8.3 1.5 .8 1.6-1.3-4-2.7-1.1-5.4 6.9 2.4 17.7-2-18.7 8.9 1.5-5.6-1.8 3.5-2.7 .6 9.9-2.9-12-3.8 .9 5.9 5-4 1.3-.7-3.6 7-2.7-1.4-10.5-7.3 13.4 9.1 3.9-15.3-32-.9 27.8 16.2-32.1-9.6 61.2-4.3-30.1 13 2.5-2.6-7.1-9.5 8.5 10.4 1.1-11.2-1 7.1 2.3 2.7-3.8 2.8-6-10-2.7 4.7 5 3.7 1.3 2.5 8-7.9-2.9 3.7-.4 3.5-2.4-.8-15.2-6.6 47.7-2.2-22.6 4.3-14.2 0 5.5 3.4 2.6-8.2-.1 1.1-8.8 7.2 4 2.3-5.3-10.3 3.4 8.5 5.3-6.3-.5-1.5 2.1-1.1-14.7 .6 9.2 10.7 1.8-2.9-6.7-3.5-8.8-5.9 13.2 12 5-9.1-12-5.6 5.7 13.4 1 .9 2 .4 1.1-1.4-4.3-.3 12-13-8.2 13.6-.3-.5-.8 .6 11.7-7.3-22.2-1.6 4.2 3.5 3.1 .9-4-1.4-.4-2.1 9.1 7.5 4.8-8.9-8.1 10.2 11.6-4.4-1.3-9.5-5.2 8.6-6.5 .7 5.2-.8-7.5-.8 3.6 5.6 3.9-1.4-9.8 .3 6.3 1.6 15.6-14.5-20.3 0 8.2 8.3 .8 .6 5.8-1-14.5 2.5 6 3.9 2.8-1-5.3-1.5 11.4-5.6-11.5 5.6 11.5-7.4-13.3 8.6-1 .8 5.6-.7 7-9.2-3.7-3.5-10.5 8.2 7.8 5.2-5.6-6.1 1.1 .2-.7-.2 2.5 5.7-1.3-3.4-3.6-.7 7.5 2.9-3.8-2-3.8-8.1-6.3 8.1 16.1 3.3-15.9-6.1 16-4.3-2.1 8.1-3.1 1.4-13.7-12.5 13.1 11-7.1-4.9 8.8 8.8-7.2-13 .6 8.8 6 4-3-11.4-.3-1.6 6.5 8.6-5-1.7-.5 1.2 7.4-2.2-.2 4.9-7.8-8.6 .1 .5-.4 .9 .7 5.9 1.4 1.2 .6 2.1 4.2-5.6 2.1 .4-9.1 2.1 5.3 3.2 5.6-6.7-17.6 4.3 21.1-10.8-17.2 6.3 10.1 5.5-1.6-1.4-8.9-9.2 20.5-2.3-10.4 7.6-12.3-8.8 6.3 13.4 1.1 0 1.4 1.5 .3 .9-2-.9 8.5-8-8 8.6 4.9-2.2 .2 .5 12.9-9.3-13.1 5.8 3.6 .4-5.4 3.1 0 .4-4.6-1.6 1.7-.3-1.3-4.2 .8 2.9 5.2-3-10.5 1.6 .5-4.7 5 6.7 6-1.4-4.5 5.1 2-1-18-2.4 19.9-1.2-5.3 1.4-3.1 .1 14.8-9.6-17.8 4.3 3.2-3.7 6.2 10.1-8.1-11.4 5.8 13-6.8-11.8 9.9 7.8-.5 4.4-13.9-6.5-.7 2.7 10.1 .8 9.5-6.2-9.9 1.2 1.7 5.8 8.1-10.1-3.6 7.3-6.3-3.6-7.5-2.7 10.2 11.8 4.4-2.7-.9-2.1-7.4 .4 3.9 4 5.3-12.1-5.7 10.8-3.7-11.6 8.6 1.8-10.9 2.6 7 9.1-12.5-13 10.4 9.8-1.1-2.5-.2-.9 1.4 4.2-4.5-1.2 6.6 3.5-15.2-14.5 34.8 3.2-22.5 7.9 14.5-5.6-16 3.4 8.7-6.5-2.1 6.8 19.8-10.3-21.3 15.1-1 .4-2-.6 3.3 0-3.6-.9 .3 .1-4.3-8 4.2 9.3 4.1-1.9-8.8-1.6 4.5-2.4-.4 1.3-1.9-8.2 7.3 7 1.6 1.8-3.7 3.9 10.4-7.2-14.8 4-1.1-.3 3 2.9 1-.2 1.8 .4 6.3-7.8-24.9-6.9 20.3 10.5 9-6.8-9.5 10.3 2.5-4.5-15.7-4.6 16.2-3.2-7 12.6 12.7-10-20.4 4.5 1.3 .8 4.4-7.2 2.9 11.3 3 .2-6.3-12.3 8.8 9.6-6.9 1.1 5.2 2.5-1.9-.5-.5 1.1 1.7-1-1.2 .1-4-8.5 20.5-5.3-25 9.3 16.4 .3-4.5-7.8-9.3 5.7 2.2 4.6 1.8 1.3 4.8-.5-12.3-6.2 9.8 6.3 .5-1.4-10.9-2.1 22.9-1.7-13.9 6.6 10.5-5 4.1-6.8-8.6 3.5-3.5 5.8-2.9 2.1-.5-.9-3.5 .1-5.6-1.7 12.7-2.6 .4 4.5-7.9-3.5 5.1 4.9-4.2-4.7-.1-9.6 1.9 13-1.7-2.2 2.6 .6 3.9-.9-2.1 3.7 12.9-7.9-12.4 7.5-5.1-11.7 .1 3.8 5.2 6.6-2.8-1.2 11.4-.8-16-4.8 3.4 4 6.6-5.9-1.6 5.9-3.9 4.1-1-1.7 4.9-1.5-16.1-11.2 11.3 7.5 6.8 .1-8.8 3.4 7.5 .4-5.3 .9 7-12.2 .1 6.7-7.7 1.1-4-3.5 6.8 9.8 1.6-1 3.5-.8 11.4-8.4-13.9 8.8 3.5-7.1-15.9 .9 10.3 8.2-6.8-6.2 5.5 4 12.2-6.1-12.1 7.3 5.2-3.7-5.6 1.8 12.8-8.3-15.9-.6 6 10.3 1.2-.1-4.2 0 2.4 .9 2-1.9 0-4.3-3.1 6.6-3-9-2.1-3.9 10.8 3.4-5.4 9.9 3.8-7.5-20.1-4.7 16.1 12 2.4-4.9 .5 .8-4.7-.1 1.6 4-7.2-7.1 4.7 1.8 2.3 4.7 1.9-1.5-3.4 1.1 5.2-1.2 2.2-6.6-6.5 7.7 5.4-2.9 3.8-2-8.6 6.2-.4-.6-.9-3.2-8.3-7.9 6.3 6.4-4.2-10.1 5.4 13.3 1.1 .5-.1 .4-.4 .3 3.7 .5-11.1-7.6 7.2 2.9-.8 1.1 6 .8 .6-4.8-4.9 6.8 3.7-3.3-12-6.9 19.8 4.5-4.4 5-15.5-5.8 14.6 3.4-2.6 2.1-6.6-12.1 3.4 14.1 13.6-5.7-9-2.3-3.4 8.1 2.6-2.4 4.2-3.5-9.3 2.8 3.6 .8-8.6-8.4 7 10.5 5.5-4.8-9.1-3.3 2.8 6.5-5-2.7 8.8-1.8 1.2 3.5-8.3 .4 9.5-8.5-12-1.2 2.8-.6-1.2 5.1 .4-2.2-2 5.6 7.7 3.8-13.6-13.5 14.3 13.4 3.7-11-7.8 10.8 1.3-.4-3.9-.7-3.6-12 10.4 11.8 1.5-1-1-1.3-15-8.6 17 .2-12.3 7.9 5.9 1.5 1.1 3-7.8-3.1 14.3-1.3-7.3 4.4-.1-4.1 7.7-9.2-7.2 12.1 1.4 1.7-7.5-1.6 7.5 1.6-6-14.3 6.2 14.4-4.2-10-5.9 3.2 7.6 1.7-11.2-6.9 12.4 10.9 0-.1-8.8-14.8 11.8 13.6-.6 1.5 1.8-.6-4 1.2-1.9-7.9-5.7-3.3-8.3 1.1 17.7 9.5-5.6-14.9 8.9 6.9-5 7.5 2.2 .6-3.3-3-4.5-4 9.3 .9-1.1 4.6-3 1.3 .2-.4-1-3.8-3-1.9 1.3 5.5 1-6.2-8-6.8 4.3 4.2 15.6 3.4-10.7 4.7-2.4-6.6-9.9 3.3 20.6-6-1.7 8.4-10.4-9.7 4.8 12.3 6.5-3-9.6-8.1 .8 7.2 .5 3.3 14.6-12.1-11.1 11.8 14.1-12.2-16.1 12.8-1.5-5.2 5.6 3.1 4.9-8.2-4.2-.5-2.4 10.9 .7-3.8 2.9-3.7-2.3 5.2-9.7-6.3 10.5-.6 5.5-4.9-13.1 10.5 9.4-1.5 1.4-1.7-10.8-5.5 3.9 12.8-7.9-4 5.5 1.9-2.1-12.2 2.8 13.9-5.8-8.7 11.7 .5-14-3.6 11 12 8.2-12.6-9.4 12.8-3.1-2.4 8.9-4.7-10.8 3.5 7.9-.4-4.3 3.8 7-4.4-11.9-.7 7.6 4.5-6.8-3.2 2.9 .3 6.2-2.6-12.3-1 16.3-2.1-15.1 6.2 5 .8-11.8-11.5 11.1 9.9-4.1-1.9 .8 3 6.3 2.9 .2 .2 3-7.1-5.3 6 6.1-2.3-17.7-4.4 13.6 7.6-2.5-7.7 13-.1-8 4.5-5.5-2.4-1.2-8.4 7.5 13.3 1.6-13.7-1.5 7.5-15.1-2.3 10.6 6.2-13.3-5.8-2.2 2.4 14.2-.6 .6 2-.4-1.4-5.7 4.3 13.1-10.2-4.4 12.3 2-1.5-4.1-2-2.3-6.2-1.1-6.4-.7 .2 7.7 14.6-3.3-1.2 2.3 1.6 1.9 .8-.2-3.3-.6 2-11.7-5 14.1 2.3 2.4-2.2-21-7.5 17.8 3.9-8.3 3.2 11.8 1-9.4 3.3 3.8 .1 13.5-7.3-10 7.4-5.1 2.4-5.1-5.8 3.2 1.3 1.9 4.6-2.3-1.1 11.9-6.5-5-7 6.2 7.7-20.8-7.5 13.7 5.9-6.8 2.9-15.9-2.1 23.9 .2-4.2 6.8 1.9-1.1-4.3-2.3 18.3-4.4-20.7 2.3-2.3 3.7 10.5 .9-23.8-14.4 17.2 10-.3 3.6-6-14 13 13.3-7.6 1.3 1.2-2.2 .8 2.5-9.9-1.9-17.6-5.6 22.8 3.9 11.7-.6 15.9 1.4-17.1-9.5-5.4 11.6 3.7-2.3 5.1 1.9 4.9-6.4-7.4-4.7-2.4 8.4-9.5-7.2 5.3 9.5 7.1-4.7-9.8 3.1 5.6 1.9 7.9-10.9-11.4 12.9-12.1-13.7 10.5 10.3 9.5-3.8-5.3 7.5-1.6-.5-2.5-.8 6.9-5.6-7.3 4.8-11.7-13.8 18.3 14.3-12.1-6.2 2.8-3 8 10.3-1.6 .9 .5-.2-.2 .3 2.2-1.7-7.7-2.7 2 .2 1.6 0 1.1 2.8 2.4-1.9 .7-2.1-1.8 4.7 2.2-1 1.2-3.7 2.6-7-9.1 8.9 7-4.2-12.9-2.3 11.4 8.4-6.7-7.6 18.4-7-17.4 14.5 2.9 1.7-2.3-5.1 6.4-8.8-1.1 12.3-7.4-5.2 5.4 5.1 1.1 1.2-1.6-.4-1.2-.2-2-3.1 17.5-1.1-14.3 4.9 4.6-2.7-5.2 3.1 9.7-13.2-17.1 2.2 4.1 1.8-37.4-1.8 33.7 5.3 12-.9-3.7 4.7-6.8-6.9 8.3 6.9-10-8.3 4.9 4.9 6.1-1.3-4.2 6 8.9-2.5 3-7.8-13.4 8.9-7.6-9.5 9.6 11.4-1.5-2.6-3.9-.9 7.8 .7 .1 1.1-5-3.9-4.6-1.7-1.8-5.4 13.5 7-5.3 5.1 5.8-1.3-6.8-1.4 10.9-6.8-2.6 2.2-9.6 5.5 9-2.6-5.2 4.3 2.1-1.6-3 2.4-.8-.6-1.7-1.3-2.3-.8 .3-12.8 12.4 9.1-1.7-1.9-1.9-.5-1.9 3.4 2.5-2-9.3 3.3-.2-1.2 9.7-4.7 8.2 .4-8.8 3.4-11.5-4.8 10 2.8 8.7 6.1-16.8-5.1 3.6 4.2-8-7.5 9.2 10.1-2.1-.7 22.1-11.8-17.9 9-2.7 3.4 7-3.2-7.1 2.5-4.6-6 6.9 6-12.8-9.4 7.2 2.8 3.3 6.1-2.4-.8 11.8-6-21.6-2.8 9-2.2 4.8 12.6 2.3-3-2.3 3-6.3-1.5-5.7-9 19.3 4-7.9 7.4 7.7-3.6-7.2 3.3-4.7-11 7 5.5-7.7 1.7 7 3.6-3.7-2.7 3.6 .7 5-3.4-9.5 .8 6.7 2.1 .4-2.6-10.6-3 10.9-6.4-9.5 7.6 9.5-2.4-2.7 4.6-7.5-1.9-1.1-1.3 6.8 8.2-4.3-6.6 1.3 3.2 .3 2.3 13.6-8.6-12.5 9.1 7.6-2.9-8.5-.2 3.1 2.4-10-8.2 2.4 4 7.1 5.3-6.8-13.6 4.7 10.6 3.8 1.9 1.1 .2-6.2-2.2 2.5 2.9 6-4.4-2.2-2.9-6.8 2.2 6.7 1.4-26.8-6.2 29.5 3.5 8.2 1.8-16.5 1.6 3.8 2.2-3.1-.8 5.4-9.4 1.1 5.3-8.6-.3 7.8 1.2-4.1 5.4-.9-1.3 1.5 .7-.4 .3-3.7-8.9 8 4.2-4.2 4.6 5.3-7.2-1-.8 2.4-4.9-7.3 12.9-1-.2-8.1-5 7.6 1.8 3.3 .8-9.9-9.2 9.2 10.9 1.5-1.2-4.1 .8 16.9-4-17.5 3.8 3 .8-12.3-12.2 17.2 6-11.2 1.1 21.6-1.7-21.5 5.1 6.7 .7 1.1-3.1-5.6-1.6 2 5.2 5.6-4.6 5.6 3.4-6.1-.2-.1-7.6 .1 3-6.6 1.9 3.7 4.4-.8 1.3 1.1-2.1-6.8-11.2 34.1 5.9-24.8-3.2-8.8-3.5 7.6 8.4 1.9-1.6-9.5 1.5 7.4 .8-1.1 4.2-1.3 .7 1.7-1.7-6.3-5 8.6 3.8-3.7 3-6.9-10.6 4 6.3 7.5-8.8-3.2 10.8-7-8 10.7-1-13.5 8.7 8.2 2.5 6.1-2.2-11-11.6 3 11.1-15.3-11.5 13.8 10.1 10 .8-7.9 1.5 2.5 1.1 3-3.8 1.3 3.5-5.7 .6-1.9-1.4 1.5 .8-4.4-9.4-4.6-1.7 10.2 11.9-1-.6 3-2 1.2-4.4 21.3-4.3-27.2 8.6 6.1-6.3-10 2.1 2.4 4.8-5.4-5.9 2.1 3.6 6.6 4.1-4.5-4.5 15.1 2-6.9-6.4-6.8 4.1 7.6 3.6-11.1-7.2 1.5-4.4 4.6 11.9 7.4-12.7-9.9 4.5 1.9 7.7-2.2-3.8-.9 1.5 9.9-1.6-8.9-4.8 1.6 8.1 6.2-11.3 3.6-1.4-20.1 6.6 8.6 3.2-1.9-3.7 1.3 4.9 8-6.8 5.6-5.2 19.1 7-30.8 7.1 .1 .4-6.8-.8 7-1.3 1.5 2.8 3.5-6.4-9.8-.4 15.6-1.5-7.7 8.6-20.7-9.5 18.3 9.7 .6-.1-5.8-2.3 5.9 2.5-1.9-6-3.8-4 5 7.7 4.2-4.4 2.1-5.6-5.1 12.6 1.3-1.8-9-4.2 3.4 1 7.8-3.3-1.2 3.6-.5 1.7-2.2 2.2 3.9-2.7-22.6-9.1 17.7 11.7 3.2 .3-2.9-.2-9.7-14.9 9.8 14.1 1.3 1.7-1.4-2.4 2.1 1.6 8.6-7.6-5.1 7.6-2.3-.5 2.9-5.7-.1 0-3.6 5.8 2-7.7 3.8 3.5-4.1 .7-4.8 3.8-6.5-9 3.2-3.1-5.3-3.1 19.4 5.8-20-.8 16.1 4.1 3.4-7.9-12.3 10.5-6.8 1 4.9 .8 11.3-.1-11.4-5.8 1.6 3.5 10.4-2.4-10.7-8.6 4.8 15.9 1.4-1.7-2.2 .9 .5 .9-13-14.7 6.5 7.9 20.6-8.3-27.6 2.9 11.1 6 2.2 6.1-10.9-15.2 7.7 12.7-3.3-1.3 14.7-6.4-5.5 7.1 0 2.3 8.7-14.7-8.4 8.7-2.1 6-25.2-9.8 26.5 7.7-7.2-12.5 5.5 15.3 5.4-9.4-6.6 8-3-10.8 6.1 10.4-18.3-14.1 15.1 15 6-9.6-4.3 10.3-3.5-3.7-2.2 .6-7.4-10.7 20.4 10.8-4.5-6.1 4.6 .8-6.4 6.5 .2-1.4-5.5-3.1-1.3 2.8 5.4 3.7 1.8-1.8 9.3-11-6.6 4.2-37.2-4 33.5 12.2 .9-1.6 8-2.1-12.3 2.6 8.9-5.3-8.7 3.5 3.8 1-1.8 2.6 2.5-2.5-9.4-9.2 1.8 .8 8.8 .7-.6 1.8 8.4-3.9-7.8 4.9-10.9 1.5 3 0-1.8-4.1 8.1 5.3 .7 2.3-1.5 1.1 .8-.6 5.4-5.7-12.1 4.6 1-7.7-1.2 5.5 6.3 3.3-10.8-7.6 10.9 8.2-2.2 .7-1.9-5.5-3.4-.7 5 6.1 5-6 2.5-.5-5.8 5.8-11.9-8.5 9.2 8.5-1-2.1 6-.6-1.9 1.8-6.5-2.4 8.2-2.9 4.4 .1-.9 1.3 4.7-7.7-21.9 8.7 12.2 3.8 1.3-5.4 10.1-2.2-18.5-4.5 8.9 6 1.4-8.5-12.5 10.1 11.4-4.1-4.9 9 5.5-12.3-1.6 8.9-2.8 4.3-.8-1-.2-1.3 .8 1.9 2.7-3.4-2.7 3.4-5.8-7.7 3.1 4.9 14-8.8-7.5 2.9-2.8 8.7 12.2-9.8-12.6 10.2-4.7-2.9 3.3 .8-1.5-5.2 5.5 4.7-6.3-1.4-.1 .7 1.8 1.4-4-12 .6 10.4 6.2 2.1-9.4-10.1 10.9 10.2-6.5-7.5 6.8 2.1 5.8-5.8-6 6.6 .5-2.2-9.3 5.9 4.9 1.5 .1-.4 .5-.1-.8 .5 3.4-1.5 6.6-12.9-14.6-.8 10.3 14.7-18.5-6.4 5.9-6.8 15.2 11-2.7-.8-5.2 2.9-4.4-4.3 .3 1.3 5.6 4.2-4.5-10.7 3.3 10 1.7-.2-3.8-.5 5.5 .1-7.6-9.7 1.3 2-8.1 1.2 3.8 1.7 6.6 3.2 4.4-4.5 .8-3.5 6.5 1.3-11.3 7.9 7.2-6.8-9.6-1.7 5.1 7.4-.2 2.4 .4-.9 3.9-1.8-3.8 .8-.8 1.1 12.1-12.3-14.8 10.3 .1 2.5-2.2-5.1 1.2 1.6 5.1-1.2 4.2 1.4-2.5 2.9-4.5 1.2 6-6.8-4.9 5.7 1.4-4.3-8-1.1 9.1 1.9-5.8 2.7 15.7-11.1-12.7 12.2-9.4-6.6 10.7 6.3-1.4 .9-2.4-1.8-4.3-4.2 8.4 2.6-3.2 1.9 6.1-3.7 1-1-8.6 1.5 1 4.3-24.4-5.5 28.5 1.2-20.5-8.6 20.5 9.4 3.7-2.5-11.9 2.5 5.7 4.1 8-7.1-17.9 .9 9.3 5.9 6.1-4.5-3.8 3.6-10.4-4.9 12.3-5.2-9.1 1 5.1 10.3-2.2-2.8 3.1 2.2 4.7-2.5-4.6 2 12.5-10.6-8.5 4.9-2.7 2.3 8.9-4.3 .1-6.6-21.8 9.6 11.6 5.3 .9-3 9-.8-8.2-.1 2.7-5.3 16.6 .6-19.1 4.7-3.1 4.2-1.2-2.2-7.7-4 12.5-2.4-10.1 3.7 6.3 4.8-3.6-11 .5 8.8 19.7-13.7-4.1 10.6-21.5-6.4 7.6 7.7 3.1 3.1 4.7-3.4-5.1 3.8 2.3-7.3-.5 2.2 4.9-6.4-7.5 12.3-4.8-5.6 2.7 .5-2.6 .6-6.1-8.5 12.3 11.4-7.5-5.6 7.4 4.8 2.6-5.4-18.1 4.9 16.8-3.4-2.7 6.3-13.5-8.6 13.3 8.5-.2-.6-9.8-10.3 9.6 10.2 .4 .5 2.4-4.4 1.9-.6 5.1-2.2-5-1.9-2.5 6.2 20.6-9.6-22.3 12.8-8-6 8.2 5.9-.1 .2 22.8-13.2-19.5 3.7 1.3 2.6-6.9 2.2 10.3-.3-10.9-2.8 .2 1.3-2.3 .3 2.1 3.6-.5-1.5 2.3 3.4-7.3-2.6 5.4-.2 9.6-5.5-11.8 3 7.5 2.9 10.8-3.4-9.3 1.6-9.1-9.6 9.7 6.4-5.6 5.8 5.8-5.5-5 7.3 10.2-15.1-13.1 11.6 9 0-6.5 2.7-4.1-7.4 2.3 2.1 7.7 1.4 4.5-1.6 19.7-7.4-35.6 5.2 2.7 6.3-3-5.9 10.9-.6-13.4-1 10.3 8-3.5 .7 1.5 .1 9.2-6.3-5.6 4.6 .4-4.9 12.3-1.5-6.5-.7-12.5 3.4 .8-.1 5.9-2.1-8 6.2 3.3-.1 5.7-1.2-8.7-2.2 4.9 5.7-5.2-6.4 4.5 6.9-13-5.5 8.7-10.2 6.3 14.8 4.5-5.5-5.8 5.9-9.4-12.6 8.6 12.8 .9-.2-6-8.9 9 1.6-5.7 3.1-2.1 2 4.7 2.2-3.8-6.7 .1 4.9-3.1-11.8 4.7 12.1-5.8-13.8 .7 7.7 7.4 7.4-5.3-3.6-1.2-3.6 7.2 5.4 3.6-2.7 .2-.3-9.9-3.8 3 7.5 5.9-10.4-5.8 10-3.1-.6 2.3 1.2-.6-5.2 3.6 6-7.2-3.3 15.8-1.9-7.3 4.4 2.2-4.8 .4-8.5-3.2 14.5-15.8-13.2 12.2 11.1 13.8-10.4-4.6 4.7-11.9 3.2 1.3 1.2 4.9 3.4-4.1-2.6 15.7-.5-8-2.2-5.7 4 12.4-6.9-12.4 7.1 4.3-1.1-1.1 .6 2.3-2.1-6.2 3.7-.2-.9 1.9 1.4-16.4-3.2 30.5-5.1-22 2.7 7.6 5.5 7.1-7.6-8 6.1 14.5-12.4-7.1 1.1-8 9.3-25.2-5.1 47.6-3.5-18.3 6.7-3.7 4.7 6.7-6.1-7.9 4.8-9.1-1.4 10.7 2.4-4.8-2.7 2.7-.5 7.6 1.2-2.7 .1-6.1-4.1 7.2-.6 8.8-8.7-12 16 .7 0-.8-.2 1.6-1.6-7.8-5.4 .8 2.5 15.5-6.9-19.4 6.6 3.7-1.4-22.5-8.4 26.1 11.8-.3-2.4 .3 3.5 2.6 2.2 5.6-9.9-3.7 6.8 2.6-2.8-2.4 .6-4 1.9 5.7 1.3-1.6 .3-7.3-2.8 2.6-.1-.3 3.7-4.1-5.9-3.5-3.3 8.6 6.9-4.1-6.3 8.1 6.2-2.4 3.5 3.7-2.5-10.2-13.7 8.5 15.1 2.4-12.1-5.2 11.8-7.7-7.9 7.8 8.5 2.4-2.7-19.4-8.3 19.6 10 9.5-10.6-18.5 3.9 .4 1.5 8.6 3.9 6.3-5.4-9.4 7.1 12-14.2-4.2 7.3-4.7 4.3-.6 2 2.8-3.9-6.6 2.3 14.9-7.9-11.8 10.5 4.5-4.9-5.3 5.6-4.5-1.2 9-7.7-5.6 6.8 4.5-3 1.8 .1 6.4-7.2-16.1-3.7 8.4 4.9-6.5 7.5 13.9-8.8-14.5 2.9-3.5 3.8 20.2-2.6-7.2 1-5.5 6.5 1.6-1.2 .8-3.8-6.7 4.5 17.8-2-15.6 1.9 .9 1.1-2.7-2.8 9.4-3.7-13.5-.5 5.2 4.6 1.2 1.9 9.7-2.3-8.5 3.2 7.5-7.2-10.2 2.7 15-11.4-17.1 .2 16.7 11.7-4.5-.2-1.8-1.3 1 1.6-2-.7-5.3 3.9 1.7-.8 1-.7 17.2-13.7-11.5 9.6-7.6 5.9-8.9-5.1 10.9 4 .9-7.4-.5 7.2-9-5.5 9.1 .2 14.6-5.3-9.7 3.3-10.7 1.1 9.2-4.8 2.4 6.8-7.9 4.9-4.9-1.7-5.1-7.9 31.9 5.5-12.1-7.2-5.7 8.8-6 1.5 0 1.7-2.1-1.7-2.4-5.1 2.2 4.2 11.8-4.1-7.4 6.2 1.8-.9-9.7-9 13.6 3.9-4.2 3.8 .3-3.1-6.5-5.3 8.4 6.5-10.5-6.3 8.1 7.6-3.1 3.1-1-1.4-1-5.7 4 7.3 4-1.8-4.6 1.4-3.2-2.4 5.7-2.7-2 4.1 2.8-9.6-6.5 8.6-.5-4.6 4.3 6.9-3-3.5-2.3-9.9 5.8 12.7-3.3-2.4 .2 1.8 3 1.3 1.5-3.8-5.3 2.9 4.3-2.9-.3 1.7-.9 1.4-5.5-3.3-5.9-7.8 3.7-2.7-4.2 3.8 18.2 5.5 5.4-3-14.9 2.8-5.1-1.7 15.2 3.1-6.2 2.9-4.2 .3 8.1-3.8-10.1-1.7 4.3 6.2 .1 .1 .5 .3 .4-.5 5.9-3.5-1.6-10.7-23.8 6.7 13.8 1.8 9.5-6.6-7.6 7.1-3.8-4.9-5.4-.5 9 8.7 2.6 1.3-8.8-8 8.4 7.2 5.5-12.1-4.5 14.1-1.7-3.4 4 1.7 2.4-12.4-1.5 7.2-1.7 4.4 1.4-.5-8.9 .7 12-.2-8 .5-11.3-5.1 8.9-8.9 22.7 8.5-16 2.9-2.4 4.4 .1 .1-3.1-.8 4.7-1.3-10.9-2.7 11.7-.1-3.4 3.8-2.3-8.7 6.2 7.7-9.7-8.3 .8 0 20.3 3.7-13.5 6.4-3.8-7.1-1.4-7.2 3.4 14.2 2-.7 2.6-3.2-26.5-5.3 18.2-.5 5.3 9.8 2.3-2.8 .9-7.4-3.9 10.5 9.3-4.5-4.5-10.1-10.1 9.9 9.5-.8 3.9-3.7-10 8.1 0-3.9 4.9 1.9 1.2 1.8-5.5 1 .6-.3 1.2 .6 4.2-14.8-5.9 12 9.1-12.9-1.1 2.2-23.9 4 20.2 3.6 7.9-3.7-4.7 3.3-5.1 5.8 .1-1.1-1.8 1.1-2.2-7.3-2.3-1.4-1.7 8 11.4-10.2-4.7 11.1 11-7.5-10 7.1-4.8-5.9 5.9 3.4-4.5-3.4 7.1 2.8 5.9-12.4-9.2 14.7 5.4-.7-9.5-1.8 5.8-3-2.6 6.9-.5 .1 4.4-13.2-.2 6.6-6.2 5.4 4.1-.3-7.4-12.6 1.4 7.7 3.3 5.8 10.6-12.3-25.8 11-4.4-11.1 19.6 12.8 1.9-1.3-4.6-6 .3 5.5 3.3 2.2-.4-.7-2.9-7.3 10.2-6-8.3 13.2 3-2.5 1.9-2.7-6.9-1.5 .2-1.1 1.9 7 3.5 .2-4.5-3.4 1.2 3.2-9.4-8.4 12 9.2 .2 0 .5-1.8-6.4-5.4 12.9-7.1-14.8 8.3 8.4 1.2-2.3 5.6 13.6-4.9-14.4 3.6-3.8-14.6-3.7 7.7 7.8 7.9 2.8-5.2-11-4.2 14 3.5 4.2-1.6-4.9 5.9-3.1 1.1-.4-1.2 3.1-10.3-1.7 11.3-5.3-2.7-.9-5 1.8 7.2-10.1-6.2 22.3-8.7-6.2 3.1-4 13.2 .2-.4-.6 0-9.4-5 3.1-2 16.1-4.8-1.8 11.4-16.2-9.7 2.3 3 1.4-2 2.3 5.8-1-6.5 2.6 9.3-18.8-15 13.1 8.4 3.1 5.4 10.1-7-9.2 7.8 3 .7-2.4-1.1-28.9-5.8 23.2-8.7 9 14.3-2.1 1.7-7.7-8.3 6.8 6.2 6.3-5.1-12-1.9 4.2 2.5 1.3 2.9-.6-2.1 1.8 5.5 .8 .6 .8-.8-2 0 1.2 .8 4.6-6.7-14.7-5.7 17.1 6.7-2.3-1.7-9.8 2.1 1.9 1.3 9.4-6.7-3.9 5.2-14.3-8.2 10.5 11-3.8-2.8-1.7-4.6 9.5 7.3 1.3-5-5.5 5.8-1.3-1.3 7.4-.8 .7 1.3-3.7 1.3-3.7-.9 2.9 2.2 7.4-10.1-5.6 9-.1-.6-10.3-8.2 24.2-1.6-16.9 11.5-2.9-10 1.5 5.8-9.2 1 1.5-12.9 17 5-.3 6-3.3 2.9 5.7-9-16.8-4.3 6.3 14.4-12.3-13.3 11 11.8 8.6-4.5-9.2 5.1 2.7 2 3.3-1.2-5.5-2 .4-1.5 8.5-6.2-6.4 11.1-3.2-3.2 .6 .1 5.2-2.7 13-8.1-13.4 8.7 3.4-1.9-12.2 2.5 5.6 3.8-1.5-2.5 11.5-1.3-10 2.9-2.6-4.4 7.2-2-6.6 2 12.6-9.7-2.8 11.5-4.4 2.2-3.2 1 2.6-1.5-12.8-5-.1 2.9 8.4 .2-.3 3.5 4 .3-2-1.1 3.6-4.7-.4 1.6-12.5-10.2 7.4 10.2 5.1-.2 3.5-4-5.2 8.4-4.1-1.3 4.2 1.5-2.9-3.8-1.4 3.3 10.6-9.6-9.6 3.9 8.1 3.5-9.3-3.8 35.4-6-25.4 8.5-9.2-.9 5.1 2-1.2 2-2.5 .4-3.1-8.1 9.3 .8-8.9 4.8 6.8 2.1 .1-4.8 6.5-6.2-7.4 9-14.6-4.3 7.7-2.6 1-4-.2 1.7 12 4-3.8-2.7-2.6 10-13.3-5.4 13.2 5.7 3.6-3.2 2.4 2.1-9.2 1.3 12.6-8.4-6.8 7.6-12.1-7.4 6.7 7.1 4.7-2.6 11.7-6.2-4.6 6.5-18.1-1.7 2.5-6.1 3.2 10.2-1-7.8 7.5 5.4-7.1 1.8-8.1-13.2 11.5 14.9-.3 .6-.3-.2 .4 .1-.9-.7 5.3-5.1-7.8 3.4 4.9 .7-2.3 1 1.4-.5 3.6-2.2-.9 1.7 1.1-2.4-.9-6 .2 6.2-3.4 3.3-4.3-10.9 3.9 11.7-5.1-7.6 3.5 4.7 9.7-2.6-23.5-2.8 9.8 4-1.7-2.8 6 4.7 3.8 .9 .2-5.8-3.3 6.7 5.1-5.5-5.6 5.4 .3 .4-.7-.6-3.8-6.3-1.3-.2 9.1 3.6 1.3-1.7-3.6 5.2-.9-.2-7.6-7.6 10.4 2.9-1.1 3.4-2.1 .2-4.2-6 2.8 1.9 5.1 .5-6.9 1.1-1.4-3.5 14.3-5.8-15.5 4.6-2.9-6.9 30.8 7-11.7 3.8-3.4 1.1-10.4-2.5-3.5-7.5 6.1 10.7 4.1 .7 1.1-7.4 1.6 5.4 7.5 1.5-7.9-12.8-3.1 12.8-1.5 2.9-7.1-6.3 12.2-4.8 2.7-4.5-5.7 10.8 10.5-4.1-5-7.4-7.1 15.8 24.7-14.3-21.1 9.9-5.2 3.6-6.4-6.7 3.6-4.3 2.6 9.8 4.3 1.2 4.3-6.2-14.7-.3 12.4-7.7-.8 1.9-9 9.2 3.8 3.2 2.4-1.3-1.6 2.4-4.4-5.9 2.7 3.9 4.1-2.9-4.2 .6 3.1 3.9-12.2-10.2 9.8 9.9 3.4-3.9-3.5 4.1 3.6-1.6-4.8-1.6-8.5-10.7 13.1 14-2.1 .4-8.3-11.9 1 .9 8.7 9.1-6.8-3.3 7.7 2.4-6.5-2.5 12.7-3.1-9.1 7.8-11.6-15.5 15.6 11-5.2 3.2-10.2-6.3-9.9-1.8 22.3 9.9 .1-.1 7.4-2.9-4.2-7.3-7.9 .2-11 4.6 14.5 4.4 2.2 .4-4.5-4.3 8.3-.2 4.2 2.5-6.5 2.2-21.8-12.9 18.9 13.6 .7-.7 2.4-3.8-5.2-.2 7.2 2.5-6.3-.1 14.2-6.2-8.4 2.8-4.6 5.7 1.5-2.9-6.5-2.8-6.6 .9 16.2-.5-1.5-2.1-1.9 6-5.4-3.6-1.7-5.8 10.2 8.8-8-1.3 5.4-.1-5.9 .2 .9-6.1 9.1 1.8-2.3-2.5 7.4 4.5-3.2-.6-10.1 4.6 1.4 1.1 8.7-7.4-3 6.1-1.5-2.5 2.1-.7 13.1-6.9-26.1 5 4.7 .3 0-.6 8.8 3.7-6.6 2.1 4.6-10.5-4.5 10.6-4.1-9.3 8.9 4-7.4 1 6.4 0-4.1 4.1 4.4-3.8-1.5 1.5 3.1-11.5-5.3 15-42-11.7 42.7 11.3 2-2.7-9.2-1.7 .4-2.5 3.7 .7 4.4 3.1-5.7-5.6 2.5 7.8 5.8-12.5-5.6 12.6 2.9-1.3-1.7 2.7-1.3-2.7 .7 1.9-3.1-7 32.5-3-30.4 8.8-1.4-3 1.6 3.6 4.4-1.7-4.9 2.5 3.6-.2 1.7-6.6-7.2 .2 20-7.7-10.6 9.6-6.4 4.8 1.1 .2 14.3-9.2-13.4 7.4-7.2-1 4.7 .4-2.1-2.6 5 2.5 .1-.4" fill="none" stroke="none" marker-start="url(#mr)" marker-mid="url(#mr)" marker-end="url(#mr)"/>
<path d="M405 236.3l10.1 3.5-8 1.8 35.9-2.5-31.5 .4 32.7 .8 18.2 2.8-13.1-4.2-32 .4-15.1 4.1 10.5 .9 3.9-2.4 26.7-2.3-29.6 5.1 41.9-6.9-8.5-5.3-34.5 1.6 32.9 3.4 11.6 5.5-44.4 2.8 32.5 .1 6.8-5.8-39.2-3.7-19.5 5.6 65.9-.4-44-6.3 28.6 3.9-30.3-7.3 3.6 4.5 43.1 2.8-15.2 .2-27.9 4.1 29.3-10.9-29.7 3.6-4.5 1.8 46.3-1.4-7 2-7.1 .8-29.6-1.2 31.6 3.6-44.1-4.4-9.3 8 9-.9 41.8-4.6-30.3 3.2 30.1-2.8 18.3-2.5-47.7-1.7 28.7 3.5-39 2.8 56.4-.2-3.2 .5-4.3-6.4-9.1-1.1 1.1-.2-29.3 7.2 33.8-9.2-47.5 7.8 50.7-7.4-51 1.7 7.6 7 36.4-2 27.4-7-59.3-.2-15.1 1.2 44.4 3.6-29.7-2.2 33.1 2.1-32.3-2.5-3.4-1.3-3.2 7.8 50.1 1.8-48.7-8.1 47 9.7-43.5-.3 .4-4-31.4-5.1 62.2-1.4-27.8 10.4-2.3-10.1-18.7 0 17.9 10.1-15.8-5.2 9.8-3 7.5-3 33 5.5-31.7 5.4 29.5-10.9-44.2 6.8-.9 5.1" fill="none" stroke="none" marker-start="url(#mh)" marker-mid="url(#mh)" marker-end="url(#mh)"/>
<line x1="420.35" y1="158.30" x2="420.35" y2="251.20" stroke="#4a4a4a" stroke-width="0.85" stroke-dasharray="1.8,1.8" stroke-dashoffset="-0.6"/>
<line x1="439.85" y1="158.30" x2="439.85" y2="251.20" stroke="#4a4a4a" stroke-width="0.85" stroke-dasharray="1.8,1.8" stroke-dashoffset="-0.6"/>
<path d="M411.4 212.9l12.3 15.6 2.3-5.3-19.8-2.3 17.8 9.9-19.8-8 20.1 .6-7.7-2.3 6.5 10.6-11-6.1-5.5 5.3 11.8 .2-2.7-.5-10.8 .7 5.9-38.2 13.6 14.2-5.8 19.3-5.5 3.3 6.9 .7-9.6-9.8 11.6-3.6-8 .8-18.3 1 11.9-.8 2.6 10.3 9.6-4.7 2.4-2.4-13.3 10.1 14.8-2.1-17-4.4 17.3-3-9.8 4.6 2.6-14.9 8.8 12.8-6-11.4-2 14-10.2-2.1 12.1 4.9 0 1.4-15.5-2.7 22.2 1-6.5-2.5-1.5-3.5-25.8 6.3 29.2-5.7-8.4 2.6 13.5-.1-35.6 2.5 31.3-1.7-4.4 2.6-3.5-2.9 8.7-39.4 2.9 40.4-8.9-23.9 .1 19-4.8 1.3 4 6.9-.3-19.1-3.8 13.6 13.8-1.5-16.9 .5 7.4-14.6 8.8 12.4-2.4 1.9-10.3 4.5 7.1 2-23.5-1.8 25.4-10.3 3.4 5.8-6.9 5.4-3.7-.7 3.1-.5-19.7-.7 14.4-1.4 12.3-16.9-1.8 20.4-6.2-3.4 5.1-10.4-9.1 8.9 7.7-2.2-20.1-12.5 .9-1.7 17.7 20.3-6.1 .4 9.6 2.2-2.1-6.9 6.4-2.3-9.7-23.9-17 13.4 23 19.5 .5-1.5-6 .4 2.4-5.1-2.8-.6 2.2-6.6-2.2 11.8 5.5 .3 2.7-1.5-.2 2.4-9.5-19.1 1.2 9 6.1 5 2 5.2-12-23.1 13.4 18.5-21.5-29.3 15.3 16.3-16.4 16 14 1.5-14.5-.9 22-.3-9.8-.8 2.1-10-10.6 11.3 13.7-4.4 3.1 3.7-1.6-5.5 3.2-23.9-5.7 30.1-36.2-3.5 41.7 3.3-10.5-14.9 8.6 5.8-13.6 8-1.6-8.8 3.2 4.5 10.7 4.2-2.8 2.5-21.9-33.1 25.3 21.5-4.7 7.7 .5 4 2.3-23.1-9.2 21.2 6.7-.5-13.4-29.9 15.3 27.9 5.1 1.6-1.9 2.7 .6-6.8-11.5-10.1 2.3-14.2 4.3 30.2 .4-3.8-4.2 1.1 4.8 .7-9.8-9.8-4.6 10.3 18-2.8-2 1.8-24.5-68.7-22.5 17.8-2.9 48.9 41-31.8-18.6 9.6" fill="none" stroke="none" marker-start="url(#mg)" marker-mid="url(#mg)" marker-end="url(#mg)"/>
<path d="M441.6 221.2l-2.1 1.4-4.6 7.9 5.6-7.3 1.9 .8-9 2.8 6.7 3.9-2-.4 3 1.6 3.7-2.4-1.9-3.8-3.6 1.4-1.5-4.7-2.5-10.1 10.6 19.6-1.8-1.8-7.4-8.1 20.5 9.2-15.1-6.5 1.1-.8-3-7.9-3.1 1.9-3 13.6 16-.1-14.4-9.2 6.7 4.7-8.3 2.1 18.6 0-17.1-14.9-.8 12.4 5.2-6.8-3.5-3.5 7.2 13.8-9.7-1.5 .5-4.4 4.3 8.1-3-10.7-1.2 4.6 1.5 5.4 4.2-9-6.6-4.5 .3 12 .6-.2-.4-4.3-.3 2 4.1 1.9 5.2 2.7-9-6 .4 5.4 .4 .3 6.2-23.1-1 5.9 .9 17.4 .8-1.7-3.2-6.3-2.2 4.2 10.7 3.4-13.2-1.6 .9-8-1.5 2.9 5.7 2.2-3-41.8 4.8 41.7-3-7.4-4.8 1.5 4 9.1 1.1 1.1 11.2-11.4-13.4 8.3 .7-25.3 1 20.1-1.2 3.2 12.6 0-11.8 .6 3.6-13.1-7.8 8.5 2.4 9 1.3-.9 3.3 1.4-3.6-5 9.4 5-12.1-15.9-.2 14.9 3.2-1.2 2.5-23.8-.8 22.3 .8 1.6-3.2-34.1-1.6 36.2 9.1-14.9-10.3 11 1 4.3 3.4-4.9-1.1-1.9-2.7-6.1 37.2-21.9 2.9 7.6 4.9-1.3 3.9 5.1 .9 17.8-17.5-12.7-7.8-4.4 9.7 12.1" fill="none" stroke="none" marker-start="url(#md)" marker-mid="url(#md)" marker-end="url(#md)"/>
</g>
<text x="446.50" y="189.70" font-size="7.3" text-anchor="start" fill="#3F4490"  textLength="26.5" lengthAdjust="spacingAndGlyphs">MLL-ENL</text>
<line x1="477" y1="191.2" x2="480.89" y2="193.95" stroke="#2E3192" stroke-width="0.9"/>
<path d="M483.50 195.80L480.02 195.18L481.75 192.73z" fill="#2E3192"/>
<circle cx="486.50" cy="198.30" r="1.4" fill="#1F2A6B"/>
<line x1="39.50" y1="319.70" x2="39.50" y2="405.00" stroke="#231f20" stroke-width="1" />
<line x1="39.00" y1="404.50" x2="163.00" y2="404.50" stroke="#231f20" stroke-width="1" />
<line x1="36.50" y1="404.50" x2="39.50" y2="404.50" stroke="#231f20" stroke-width="1" />
<text x="33.70" y="407.50" font-size="8.2" text-anchor="end" fill="#151515"  textLength="3.75" lengthAdjust="spacingAndGlyphs">0</text>
<line x1="36.50" y1="387.94" x2="39.50" y2="387.94" stroke="#231f20" stroke-width="1" />
<text x="33.70" y="390.94" font-size="8.2" text-anchor="end" fill="#151515"  textLength="11.25" lengthAdjust="spacingAndGlyphs">100</text>
<line x1="36.50" y1="371.38" x2="39.50" y2="371.38" stroke="#231f20" stroke-width="1" />
<text x="33.70" y="374.38" font-size="8.2" text-anchor="end" fill="#151515"  textLength="11.25" lengthAdjust="spacingAndGlyphs">200</text>
<line x1="36.50" y1="354.82" x2="39.50" y2="354.82" stroke="#231f20" stroke-width="1" />
<text x="33.70" y="357.82" font-size="8.2" text-anchor="end" fill="#151515"  textLength="11.25" lengthAdjust="spacingAndGlyphs">300</text>
<line x1="36.50" y1="338.26" x2="39.50" y2="338.26" stroke="#231f20" stroke-width="1" />
<text x="33.70" y="341.26" font-size="8.2" text-anchor="end" fill="#151515"  textLength="11.25" lengthAdjust="spacingAndGlyphs">400</text>
<line x1="36.50" y1="321.70" x2="39.50" y2="321.70" stroke="#231f20" stroke-width="1" />
<text x="33.70" y="324.70" font-size="8.2" text-anchor="end" fill="#151515"  textLength="11.25" lengthAdjust="spacingAndGlyphs">500</text>
<text x="60.30" y="414.60" font-size="7.6" text-anchor="middle" fill="#151515" >HPC</text>
<text x="101.40" y="414.60" font-size="7.6" text-anchor="middle" fill="#151515" >pGM</text>
<text x="142.60" y="414.60" font-size="7.6" text-anchor="middle" fill="#151515" >GMP</text>
<text x="0" y="0" font-size="9" text-anchor="middle" fill="#151515" transform="translate(11.70,361.00) rotate(-90)" dominant-baseline="central" >Unique genes</text>
<text x="101.20" y="303.10" font-size="8.7" text-anchor="middle" fill="#151515"  textLength="77" lengthAdjust="spacingAndGlyphs">Induced in MLL-ENL</text>
<text x="101.20" y="314.20" font-size="8.6" text-anchor="middle" fill="#151515"  textLength="107.5" lengthAdjust="spacingAndGlyphs">(FDR&lt;0.05, Fold Change &gt;2)</text>
<rect x="46.00" y="332.96" width="14.00" height="71.54" fill="#D09A8C"/>
<rect x="60.00" y="389.26" width="13.80" height="15.24" fill="#A23545"/>
<rect x="87.50" y="400.19" width="13.30" height="4.31" fill="#D09A8C"/>
<rect x="100.80" y="395.23" width="14.40" height="9.27" fill="#A23545"/>
<rect x="129.00" y="403.01" width="13.30" height="1.49" fill="#D09A8C"/>
<rect x="142.30" y="395.23" width="13.90" height="9.27" fill="#A23545"/>
<line x1="39.00" y1="404.50" x2="163.00" y2="404.50" stroke="#231f20" stroke-width="1" />
<line x1="210.60" y1="319.70" x2="210.60" y2="405.00" stroke="#231f20" stroke-width="1" />
<line x1="210.10" y1="404.50" x2="333.70" y2="404.50" stroke="#231f20" stroke-width="1" />
<line x1="207.60" y1="404.50" x2="210.60" y2="404.50" stroke="#231f20" stroke-width="1" />
<text x="204.80" y="407.50" font-size="8.2" text-anchor="end" fill="#151515"  textLength="3.75" lengthAdjust="spacingAndGlyphs">0</text>
<line x1="207.60" y1="387.94" x2="210.60" y2="387.94" stroke="#231f20" stroke-width="1" />
<text x="204.80" y="390.94" font-size="8.2" text-anchor="end" fill="#151515"  textLength="11.25" lengthAdjust="spacingAndGlyphs">100</text>
<line x1="207.60" y1="371.38" x2="210.60" y2="371.38" stroke="#231f20" stroke-width="1" />
<text x="204.80" y="374.38" font-size="8.2" text-anchor="end" fill="#151515"  textLength="11.25" lengthAdjust="spacingAndGlyphs">200</text>
<line x1="207.60" y1="354.82" x2="210.60" y2="354.82" stroke="#231f20" stroke-width="1" />
<text x="204.80" y="357.82" font-size="8.2" text-anchor="end" fill="#151515"  textLength="11.25" lengthAdjust="spacingAndGlyphs">300</text>
<line x1="207.60" y1="338.26" x2="210.60" y2="338.26" stroke="#231f20" stroke-width="1" />
<text x="204.80" y="341.26" font-size="8.2" text-anchor="end" fill="#151515"  textLength="11.25" lengthAdjust="spacingAndGlyphs">400</text>
<line x1="207.60" y1="321.70" x2="210.60" y2="321.70" stroke="#231f20" stroke-width="1" />
<text x="204.80" y="324.70" font-size="8.2" text-anchor="end" fill="#151515"  textLength="11.25" lengthAdjust="spacingAndGlyphs">500</text>
<text x="231.20" y="414.60" font-size="7.6" text-anchor="middle" fill="#151515" >HPC</text>
<text x="272.60" y="414.60" font-size="7.6" text-anchor="middle" fill="#151515" >pGM</text>
<text x="313.50" y="414.60" font-size="7.6" text-anchor="middle" fill="#151515" >GMP</text>
<text x="0" y="0" font-size="9" text-anchor="middle" fill="#151515" transform="translate(182.50,361.00) rotate(-90)" dominant-baseline="central" >Unique genes</text>
<text x="272.20" y="303.10" font-size="8.7" text-anchor="middle" fill="#151515"  textLength="85.5" lengthAdjust="spacingAndGlyphs">Repressed in MLL-ENL</text>
<text x="272.20" y="314.20" font-size="8.6" text-anchor="middle" fill="#151515"  textLength="107.5" lengthAdjust="spacingAndGlyphs">(FDR&lt;0.05, Fold Change &gt;2)</text>
<rect x="217.70" y="341.24" width="13.20" height="63.26" fill="#C2CEA6"/>
<rect x="230.90" y="395.06" width="13.90" height="9.44" fill="#78A758"/>
<rect x="258.60" y="398.70" width="13.60" height="5.80" fill="#C2CEA6"/>
<rect x="272.20" y="398.37" width="13.80" height="6.13" fill="#78A758"/>
<rect x="314.00" y="389.60" width="13.50" height="14.90" fill="#78A758"/>
<line x1="210.10" y1="404.50" x2="333.70" y2="404.50" stroke="#231f20" stroke-width="1" />
<text x="343.00" y="328.60" font-size="7.4" text-anchor="start" fill="#151515"  textLength="25.6" lengthAdjust="spacingAndGlyphs">P0 <tspan font-style="italic">ME/+</tspan></text>
<rect x="343" y="333.2" width="9.4" height="8.7" fill="#D09A8C"/>
<text x="354.60" y="340.40" font-size="7.4" text-anchor="start" fill="#151515"  textLength="9.2" lengthAdjust="spacingAndGlyphs">Up</text>
<rect x="343" y="348.4" width="9.4" height="8.7" fill="#C2CEA6"/>
<text x="354.60" y="355.60" font-size="7.4" text-anchor="start" fill="#151515"  textLength="18.6" lengthAdjust="spacingAndGlyphs">Down</text>
<text x="343.00" y="372.70" font-size="7.4" text-anchor="start" fill="#151515"  textLength="48.2" lengthAdjust="spacingAndGlyphs">10 week <tspan font-style="italic">ME/ME</tspan></text>
<rect x="343" y="377.3" width="9.4" height="8.7" fill="#A23545"/>
<text x="354.60" y="384.50" font-size="7.4" text-anchor="start" fill="#151515"  textLength="9.2" lengthAdjust="spacingAndGlyphs">Up</text>
<rect x="343" y="392.3" width="9.4" height="8.7" fill="#78A758"/>
<text x="354.60" y="399.50" font-size="7.4" text-anchor="start" fill="#151515"  textLength="18.6" lengthAdjust="spacingAndGlyphs">Down</text>
<path d="M0 0.5H520M0.6 0V423M0 422.5H520" stroke="#141414" stroke-width="1.15" fill="none"/>
<line x1="519.05" y1="0" x2="519.05" y2="423" stroke="#505050" stroke-width="1.9"/>
</svg></body></html>
